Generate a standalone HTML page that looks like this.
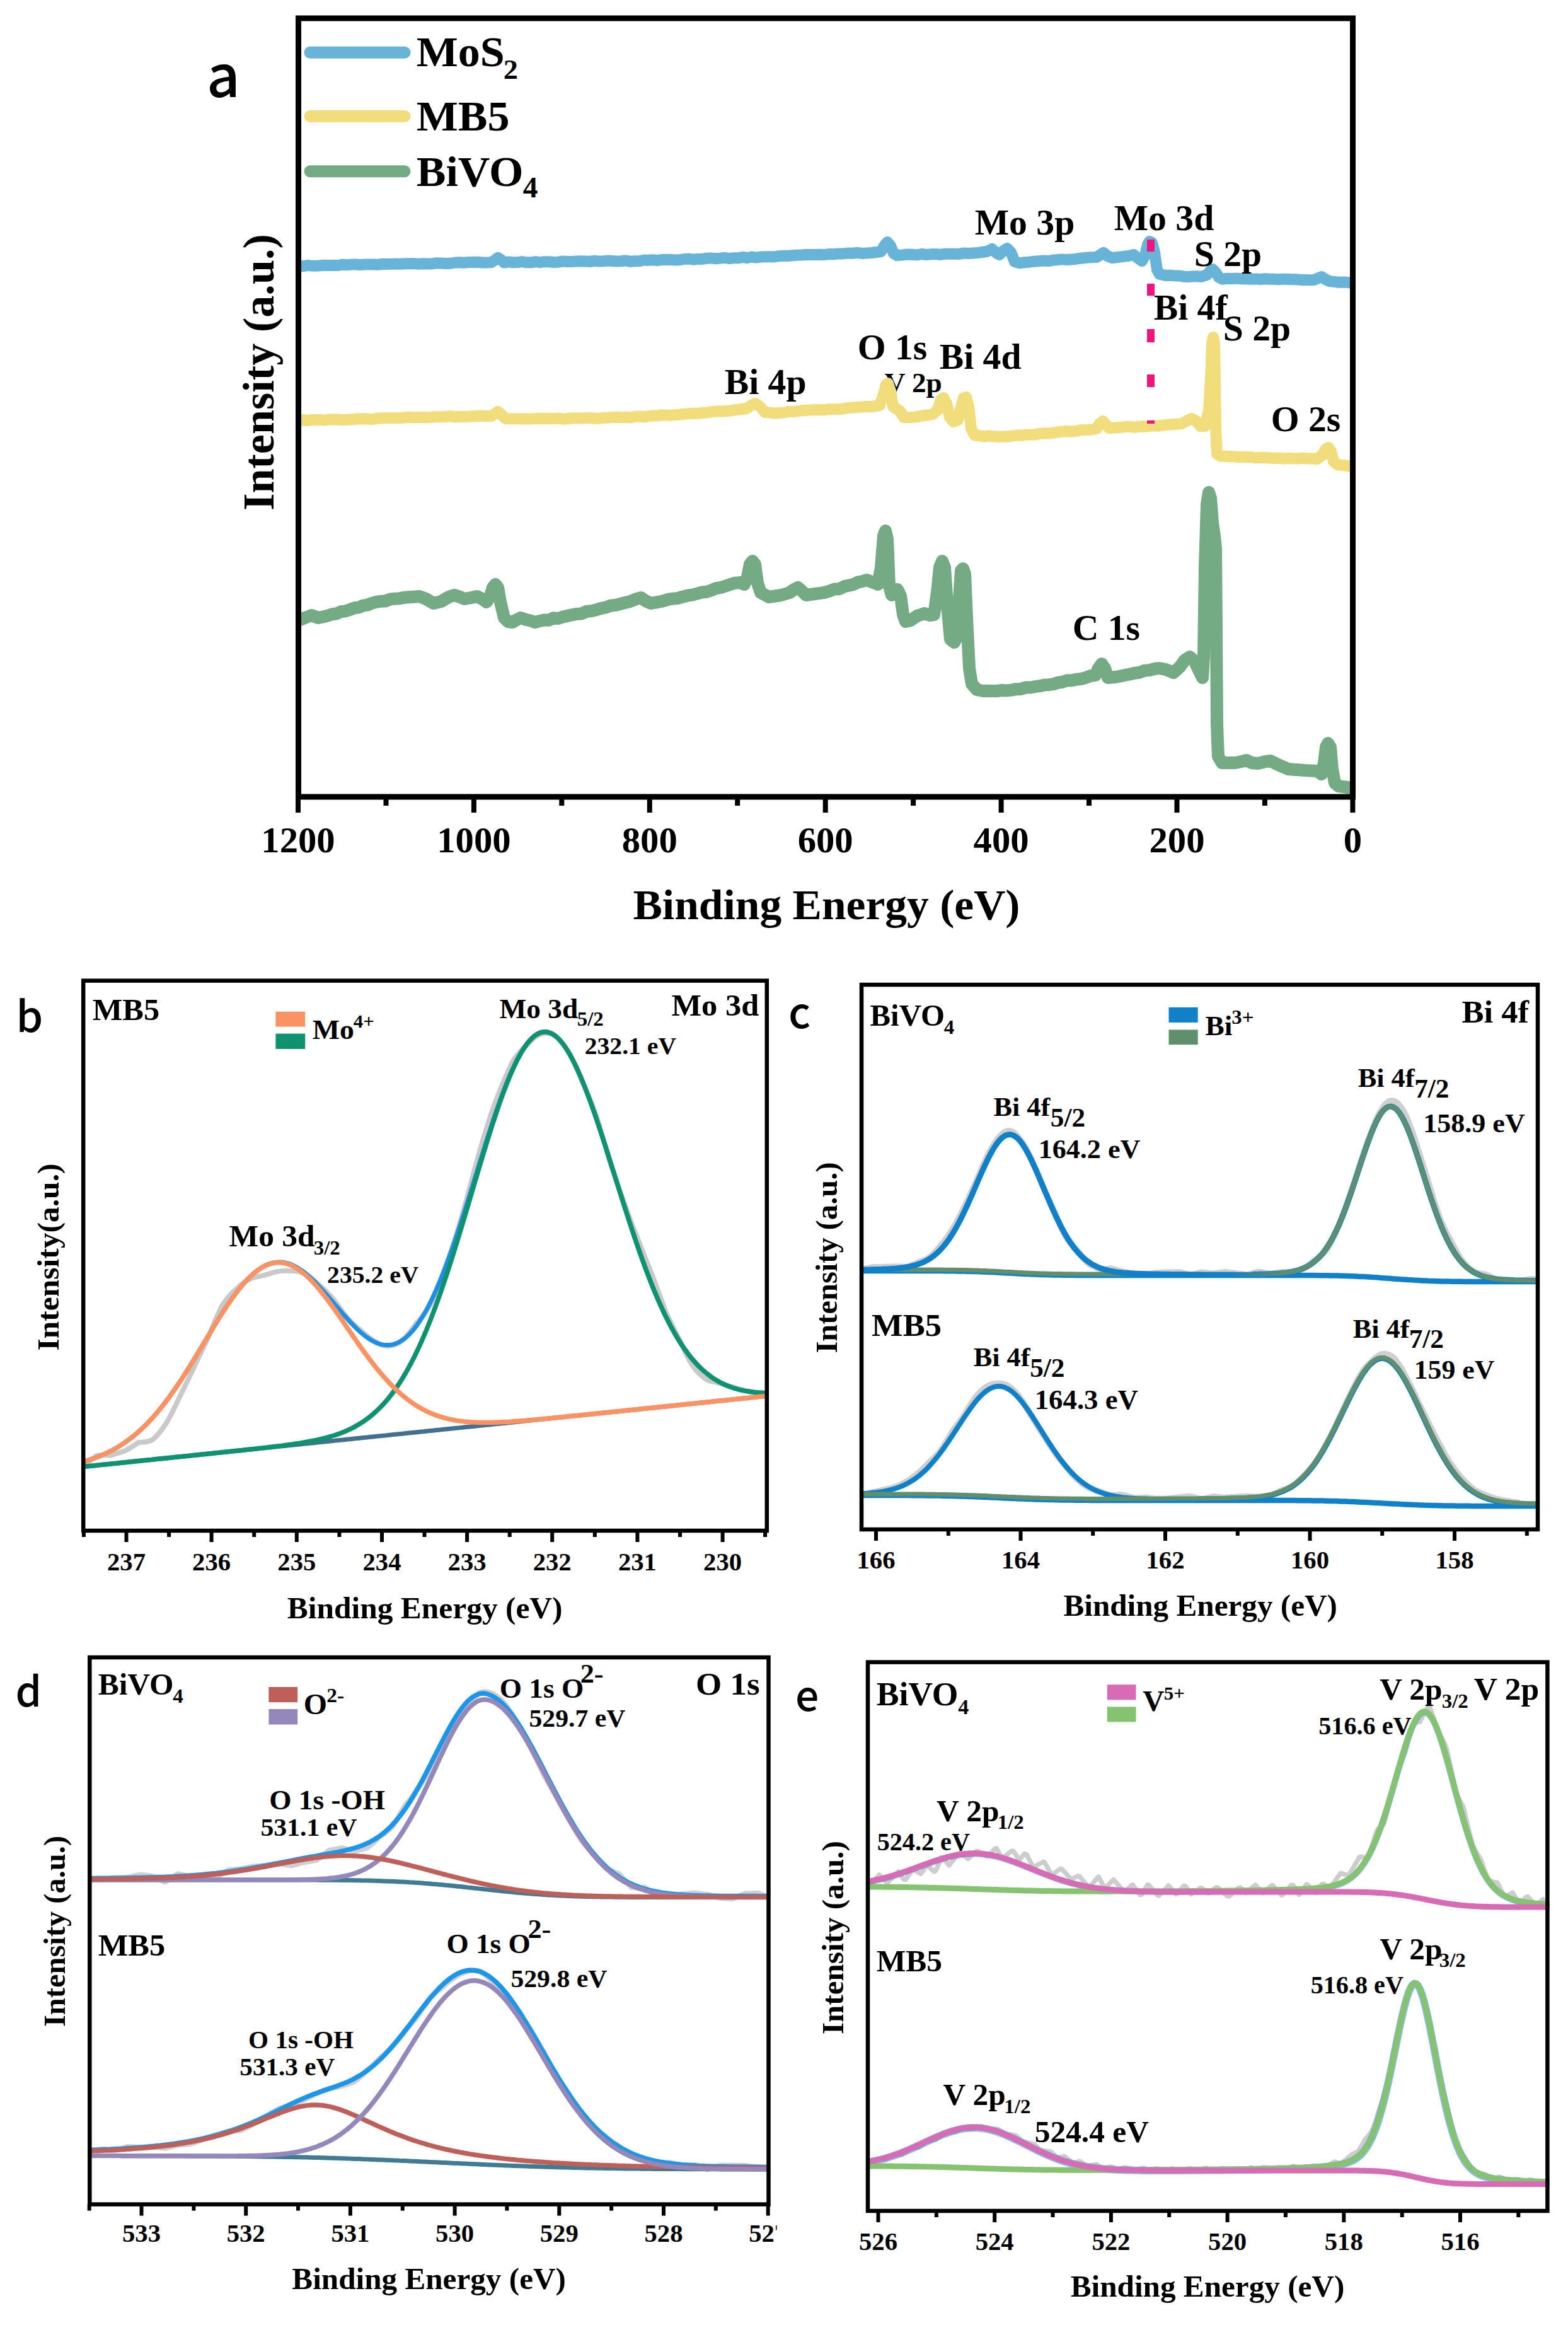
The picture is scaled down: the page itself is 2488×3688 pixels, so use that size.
<!DOCTYPE html>
<html><head><meta charset="utf-8"><title>XPS spectra</title>
<style>html,body{margin:0;padding:0;background:#fff}svg{display:block}text{white-space:pre}</style>
</head><body>
<svg width="2488" height="3688" viewBox="0 0 2488 3688">
<rect width="2488" height="3688" fill="#fff"/>
<g id="panel-a">
<clipPath id="clipA"><rect x="473" y="29" width="1677" height="1235"/></clipPath>
<text x="1403.7" y="622.0" font-family="Liberation Serif, Times New Roman, serif" font-weight="bold" font-size="44" transform="matrix(1.03 0 0 1 -42.11 0)" fill="#000">V 2p</text>
<g clip-path="url(#clipA)">
<path d="M473.0,984.0 L484.0,980.0 L494.0,976.0 L505.0,980.0 L512.5,978.5 L520.0,976.6 L527.0,974.2 L534.0,973.5 L541.0,970.2 L548.0,969.4 L555.0,967.1 L562.0,964.4 L569.0,963.6 L576.0,960.6 L583.0,959.6 L590.0,956.8 L597.0,954.9 L604.0,953.8 L611.2,953.6 L618.4,950.7 L625.6,949.7 L632.8,949.5 L640.0,948.0 L648.3,947.3 L656.7,946.7 L665.0,946.0 L676.0,950.0 L688.0,957.0 L700.0,954.0 L712.0,947.0 L721.0,944.0 L730.0,947.0 L737.0,950.0 L748.0,948.0 L757.0,946.0 L765.0,950.0 L772.0,955.0 L778.0,945.0 L782.0,932.0 L786.0,927.0 L790.0,932.0 L794.0,955.0 L800.0,980.0 L806.0,986.0 L813.0,987.0 L820.0,983.0 L826.0,980.0 L835.0,983.0 L842.0,984.5 L849.0,987.1 L856.3,985.0 L863.6,983.5 L870.9,983.7 L878.1,980.3 L885.4,981.1 L892.7,978.6 L900.0,977.1 L907.6,975.3 L915.2,973.9 L922.8,973.4 L930.4,970.0 L938.0,969.2 L945.6,967.5 L953.2,965.1 L960.8,963.7 L968.4,960.8 L976.0,960.0 L984.0,958.0 L992.0,956.0 L1000.0,954.0 L1010.0,950.0 L1017.0,948.0 L1024.0,953.0 L1033.0,957.0 L1042.0,955.3 L1051.0,953.7 L1060.0,950.9 L1067.7,949.6 L1075.4,949.0 L1083.1,946.7 L1090.9,944.7 L1098.6,943.6 L1106.3,941.6 L1114.0,939.5 L1121.2,938.7 L1128.4,936.5 L1135.6,933.4 L1142.8,932.2 L1150.0,930.0 L1157.5,927.5 L1165.0,925.0 L1175.0,924.0 L1181.0,927.0 L1186.0,915.0 L1190.0,895.0 L1194.0,890.0 L1198.0,895.0 L1202.0,925.0 L1207.0,940.0 L1220.0,947.0 L1230.0,945.5 L1240.0,944.0 L1253.0,940.0 L1260.0,935.0 L1266.0,932.0 L1272.0,937.0 L1279.0,944.0 L1286.0,943.0 L1293.0,942.0 L1300.0,941.1 L1308.0,939.9 L1316.0,937.6 L1324.0,934.5 L1332.0,934.2 L1340.0,930.1 L1347.0,928.6 L1354.0,927.2 L1361.0,923.6 L1368.0,922.2 L1375.0,920.0 L1386.0,924.0 L1393.0,927.0 L1398.0,900.0 L1402.0,850.0 L1405.0,842.0 L1408.0,855.0 L1411.0,930.0 L1415.0,944.0 L1420.0,936.0 L1424.0,935.0 L1429.0,945.0 L1433.0,975.0 L1437.0,986.0 L1445.0,984.0 L1455.0,977.0 L1467.0,973.0 L1475.0,976.0 L1482.0,975.0 L1487.0,940.0 L1491.0,900.0 L1495.0,890.0 L1499.0,900.0 L1503.0,960.0 L1508.0,1014.0 L1514.0,1019.0 L1519.0,1010.0 L1522.0,950.0 L1525.0,905.0 L1528.0,902.0 L1531.0,910.0 L1534.0,980.0 L1538.0,1060.0 L1542.0,1085.0 L1550.0,1094.0 L1560.0,1096.0 L1567.5,1096.0 L1575.0,1096.0 L1582.5,1096.0 L1590.0,1094.9 L1597.5,1095.4 L1605.0,1094.6 L1612.5,1093.2 L1620.0,1092.9 L1627.5,1090.6 L1635.0,1090.5 L1642.5,1089.2 L1650.0,1088.2 L1657.1,1086.6 L1664.3,1086.2 L1671.4,1085.2 L1678.6,1082.8 L1685.7,1082.0 L1692.9,1079.2 L1700.0,1079.5 L1707.6,1077.8 L1715.2,1077.0 L1722.8,1075.0 L1730.4,1072.1 L1738.0,1071.0 L1743.0,1060.0 L1748.0,1053.0 L1753.0,1060.0 L1758.0,1075.0 L1770.0,1074.0 L1777.5,1072.5 L1785.0,1071.0 L1792.5,1069.5 L1800.0,1067.7 L1808.0,1066.8 L1816.0,1063.7 L1824.0,1063.1 L1832.0,1060.8 L1840.0,1060.0 L1850.0,1062.0 L1862.0,1067.0 L1872.0,1058.0 L1880.0,1047.0 L1888.0,1042.0 L1895.0,1048.0 L1903.0,1065.0 L1908.0,1075.0 L1910.0,1040.0 L1912.0,900.0 L1915.0,800.0 L1918.0,781.0 L1921.0,790.0 L1924.0,830.0 L1927.0,850.0 L1929.0,870.0 L1930.0,1000.0 L1931.0,1150.0 L1933.0,1200.0 L1939.0,1210.0 L1946.0,1210.0 L1953.0,1210.0 L1960.0,1210.0 L1970.0,1208.0 L1978.0,1206.0 L1986.0,1210.0 L1996.0,1211.0 L2008.0,1208.0 L2016.0,1207.0 L2026.0,1212.0 L2035.0,1216.0 L2044.0,1220.0 L2052.7,1220.7 L2061.3,1221.3 L2070.0,1222.0 L2080.0,1222.5 L2090.0,1223.0 L2097.0,1228.0 L2101.0,1210.0 L2104.0,1185.0 L2107.0,1179.0 L2111.0,1185.0 L2114.0,1220.0 L2118.0,1242.0 L2124.0,1247.0 L2131.3,1248.0 L2138.7,1249.0 L2146.0,1250.0 L2152.0,1250.0" fill="none" stroke="#74AB84" stroke-width="20" stroke-linejoin="round" stroke-linecap="butt"/>
<path d="M473.0,666.4 L480.1,666.1 L487.1,667.1 L494.2,665.9 L501.2,665.9 L508.3,666.0 L515.3,666.6 L522.4,665.2 L529.4,665.6 L536.5,665.6 L543.6,665.9 L550.6,665.7 L557.7,665.6 L564.7,664.5 L571.8,664.5 L578.8,664.3 L585.9,664.9 L592.9,664.9 L600.0,663.4 L607.1,663.3 L614.3,663.1 L621.4,662.9 L628.6,663.1 L635.7,663.1 L642.9,662.3 L650.0,661.7 L657.1,662.2 L664.3,661.9 L671.4,662.0 L678.6,662.4 L685.7,661.7 L692.9,661.2 L700.0,661.2 L707.3,661.2 L714.5,660.1 L721.8,661.4 L729.1,661.1 L736.4,661.1 L743.6,660.9 L750.9,660.2 L758.2,660.1 L765.5,659.5 L772.7,660.3 L780.0,660.0 L786.0,656.0 L790.0,653.0 L795.0,657.0 L802.0,664.0 L815.0,664.3 L822.1,664.2 L829.2,664.4 L836.2,664.2 L843.3,664.4 L850.4,663.9 L857.5,663.7 L864.6,663.9 L871.7,663.7 L878.8,664.0 L885.8,663.4 L892.9,664.7 L900.0,664.2 L907.1,663.3 L914.3,663.3 L921.4,663.3 L928.6,663.2 L935.7,662.7 L942.9,663.7 L950.0,663.8 L957.1,662.8 L964.3,662.7 L971.4,661.9 L978.6,661.8 L985.7,662.0 L992.9,661.8 L1000.0,662.5 L1007.1,661.0 L1014.3,660.4 L1021.4,661.4 L1028.6,660.3 L1035.7,659.3 L1042.9,659.5 L1050.0,658.2 L1057.1,658.6 L1064.3,658.9 L1071.4,658.3 L1078.6,657.6 L1085.7,656.5 L1092.9,656.2 L1100.0,655.5 L1107.6,655.8 L1115.1,654.7 L1122.7,654.4 L1130.2,653.1 L1137.8,652.2 L1145.3,652.5 L1152.9,652.1 L1160.4,651.2 L1168.0,650.0 L1176.5,649.0 L1185.0,648.0 L1192.0,643.0 L1199.0,640.0 L1206.0,645.0 L1214.0,654.0 L1222.0,654.5 L1230.0,655.5 L1237.0,655.0 L1244.0,654.4 L1251.0,653.1 L1258.0,653.0 L1265.0,652.3 L1272.0,651.2 L1279.0,650.7 L1286.0,650.6 L1293.0,650.1 L1300.0,650.3 L1307.5,650.3 L1315.1,649.0 L1322.6,649.3 L1330.2,649.0 L1337.7,648.5 L1345.3,647.1 L1352.8,646.4 L1360.4,645.9 L1367.9,645.4 L1375.5,645.0 L1383.0,645.0 L1396.0,643.0 L1402.0,625.0 L1406.0,610.0 L1409.0,608.0 L1413.0,620.0 L1417.0,645.0 L1423.0,649.0 L1428.0,652.0 L1434.0,662.0 L1445.0,662.2 L1452.0,661.6 L1459.0,660.5 L1466.0,659.0 L1473.0,658.2 L1480.0,657.0 L1488.0,650.0 L1493.0,634.0 L1497.0,631.0 L1502.0,640.0 L1507.0,662.0 L1513.0,669.0 L1520.0,666.0 L1525.0,645.0 L1529.0,631.0 L1533.0,630.0 L1537.0,645.0 L1541.0,680.0 L1546.0,690.0 L1553.5,691.0 L1561.0,692.5 L1568.8,691.3 L1576.6,692.3 L1584.4,692.7 L1592.2,692.5 L1600.0,692.4 L1607.1,691.4 L1614.3,690.3 L1621.4,690.7 L1628.6,689.4 L1635.7,689.6 L1642.9,689.3 L1650.0,687.8 L1657.1,687.3 L1664.3,687.6 L1671.4,686.6 L1678.6,685.2 L1685.7,684.5 L1692.9,684.0 L1700.0,684.6 L1708.0,683.7 L1716.0,681.8 L1724.0,682.1 L1732.0,681.6 L1740.0,680.0 L1745.0,672.0 L1750.0,668.0 L1755.0,674.0 L1760.0,679.3 L1768.0,678.4 L1776.0,678.3 L1784.0,677.2 L1792.0,676.6 L1800.0,677.8 L1807.1,676.8 L1814.3,676.2 L1821.4,676.4 L1828.6,675.2 L1835.7,675.5 L1842.9,675.0 L1850.0,674.0 L1858.3,673.3 L1866.7,672.7 L1875.0,672.0 L1884.0,667.0 L1891.0,664.0 L1898.0,668.0 L1905.0,676.0 L1912.0,676.0 L1918.0,650.0 L1921.0,600.0 L1923.0,545.0 L1925.0,535.0 L1927.0,545.0 L1928.0,600.0 L1929.0,680.0 L1931.0,720.0 L1936.0,723.5 L1943.1,723.8 L1950.2,724.1 L1957.3,724.3 L1964.4,725.0 L1971.6,724.7 L1978.7,725.2 L1985.8,725.0 L1992.9,726.4 L2000.0,725.8 L2007.5,726.1 L2015.0,726.5 L2022.5,727.1 L2030.0,726.5 L2037.5,727.5 L2045.0,727.0 L2052.5,727.2 L2060.0,727.4 L2067.5,726.7 L2075.0,727.6 L2082.5,727.3 L2090.0,728.0 L2098.0,722.0 L2104.0,712.0 L2108.0,710.0 L2112.0,716.0 L2116.0,732.0 L2122.0,737.0 L2130.0,738.0 L2138.0,739.0 L2146.0,740.0 L2152.0,740.0" fill="none" stroke="#F1DD7B" stroke-width="18" stroke-linejoin="round" stroke-linecap="butt"/>
<path d="M473.0,421.2 L480.1,422.3 L487.1,421.1 L494.2,421.5 L501.2,421.7 L508.3,421.3 L515.3,420.7 L522.4,420.9 L529.4,420.8 L536.5,421.0 L543.6,419.7 L550.6,420.3 L557.7,419.6 L564.7,419.5 L571.8,420.1 L578.8,419.5 L585.9,419.4 L592.9,419.6 L600.0,419.7 L607.1,418.8 L614.3,419.0 L621.4,418.7 L628.6,418.6 L635.7,418.8 L642.9,418.3 L650.0,418.3 L657.1,418.1 L664.3,418.7 L671.4,418.2 L678.6,418.4 L685.7,418.4 L692.9,417.2 L700.0,417.6 L707.3,418.1 L714.5,417.8 L721.8,416.5 L729.1,416.3 L736.4,416.7 L743.6,416.0 L750.9,416.1 L758.2,415.7 L765.5,416.5 L772.7,416.6 L780.0,416.0 L786.0,412.0 L790.0,409.0 L795.0,412.0 L800.0,416.6 L807.1,415.4 L814.3,416.2 L821.4,416.0 L828.6,415.1 L835.7,416.3 L842.9,416.3 L850.0,415.1 L857.1,416.2 L864.3,415.2 L871.4,415.3 L878.6,416.0 L885.7,415.7 L892.9,414.5 L900.0,414.9 L907.1,415.0 L914.3,414.6 L921.4,414.3 L928.6,414.4 L935.7,415.0 L942.9,413.8 L950.0,414.6 L957.1,414.3 L964.3,413.6 L971.4,414.0 L978.6,414.4 L985.7,414.2 L992.9,413.4 L1000.0,414.8 L1007.1,414.2 L1014.3,414.3 L1021.4,412.7 L1028.6,412.8 L1035.7,412.2 L1042.9,413.2 L1050.0,412.1 L1057.1,411.7 L1064.3,411.9 L1071.4,412.5 L1078.6,412.2 L1085.7,411.0 L1092.9,410.7 L1100.0,411.7 L1107.1,410.9 L1114.3,410.9 L1121.4,409.7 L1128.6,409.4 L1135.7,410.2 L1142.9,409.6 L1150.0,408.8 L1157.1,410.0 L1164.3,409.3 L1171.4,409.3 L1178.6,408.0 L1185.7,409.0 L1192.9,407.5 L1200.0,408.6 L1207.1,407.6 L1214.3,407.2 L1221.4,407.2 L1228.6,407.5 L1235.7,406.2 L1242.9,405.7 L1250.0,406.0 L1257.1,405.3 L1264.3,404.8 L1271.4,404.6 L1278.6,404.1 L1285.7,404.1 L1292.9,404.0 L1300.0,403.7 L1307.5,404.1 L1315.1,403.1 L1322.6,403.2 L1330.2,402.4 L1337.7,402.4 L1345.3,401.6 L1352.8,401.7 L1360.4,401.0 L1367.9,401.9 L1375.5,401.4 L1383.0,401.0 L1390.5,400.0 L1398.0,399.0 L1403.0,390.0 L1408.0,384.0 L1413.0,390.0 L1418.0,402.0 L1423.0,405.0 L1431.5,404.5 L1440.0,403.5 L1447.5,403.8 L1455.0,404.4 L1462.5,403.0 L1470.0,404.0 L1477.5,403.3 L1485.0,403.2 L1492.5,403.7 L1500.0,402.8 L1507.3,402.7 L1514.6,402.7 L1521.9,402.9 L1529.1,401.6 L1536.4,402.1 L1543.7,401.6 L1551.0,401.0 L1558.5,400.0 L1566.0,399.0 L1574.0,395.0 L1582.0,402.0 L1586.0,404.0 L1592.0,398.0 L1598.0,394.0 L1604.0,400.0 L1610.0,415.0 L1618.0,417.2 L1625.5,416.3 L1632.9,415.7 L1640.4,414.7 L1647.8,414.2 L1655.3,413.6 L1662.7,414.1 L1670.2,412.8 L1677.6,412.1 L1685.1,411.4 L1692.5,412.1 L1700.0,411.6 L1708.0,410.7 L1716.0,409.5 L1724.0,408.8 L1732.0,408.3 L1740.0,408.0 L1746.0,404.0 L1751.0,401.0 L1757.0,406.0 L1765.0,409.0 L1773.3,408.0 L1781.7,407.0 L1790.0,406.0 L1799.0,404.0 L1806.0,410.0 L1812.0,414.0 L1817.0,405.0 L1821.0,388.0 L1824.0,383.0 L1828.0,385.0 L1832.0,400.0 L1836.0,428.0 L1840.0,435.0 L1850.0,436.9 L1857.0,436.7 L1864.0,437.4 L1871.0,437.4 L1878.0,438.7 L1885.0,439.0 L1892.0,438.6 L1899.0,438.3 L1906.0,439.0 L1915.0,436.0 L1920.0,430.0 L1924.0,427.0 L1929.0,432.0 L1934.0,440.0 L1940.0,442.7 L1947.5,441.8 L1955.0,442.0 L1962.5,441.6 L1970.0,442.3 L1977.5,442.6 L1985.0,442.8 L1992.5,442.4 L2000.0,443.0 L2007.1,442.3 L2014.2,442.8 L2021.2,442.6 L2028.3,443.2 L2035.4,442.7 L2042.5,442.7 L2049.6,443.3 L2056.7,443.2 L2063.8,443.9 L2070.8,443.9 L2077.9,444.3 L2085.0,444.0 L2092.0,441.0 L2097.0,439.0 L2103.0,443.0 L2110.0,446.3 L2117.2,446.9 L2124.4,447.8 L2131.6,447.6 L2138.8,448.1 L2146.0,449.0 L2152.0,449.0" fill="none" stroke="#68B4D8" stroke-width="18" stroke-linejoin="round" stroke-linecap="butt"/>
</g>
<rect x="1820.0" y="380.0" width="12.0" height="19.0" fill="#F0147F"/>
<rect x="1820.0" y="450.0" width="12.0" height="19.0" fill="#F0147F"/>
<rect x="1820.0" y="522.0" width="12.0" height="21.0" fill="#F0147F"/>
<rect x="1820.0" y="594.0" width="12.0" height="20.0" fill="#F0147F"/>
<rect x="1820.0" y="667.0" width="12.0" height="5.0" fill="#F0147F"/>
<rect x="473.5" y="29.0" width="1673.0" height="1235.0" fill="none" stroke="#000" stroke-width="9"/>
<line x1="473.0" y1="1264.0" x2="473.0" y2="1289.0" stroke="#000" stroke-width="8"/>
<line x1="751.9" y1="1264.0" x2="751.9" y2="1289.0" stroke="#000" stroke-width="8"/>
<line x1="1030.8" y1="1264.0" x2="1030.8" y2="1289.0" stroke="#000" stroke-width="8"/>
<line x1="1309.7" y1="1264.0" x2="1309.7" y2="1289.0" stroke="#000" stroke-width="8"/>
<line x1="1588.6" y1="1264.0" x2="1588.6" y2="1289.0" stroke="#000" stroke-width="8"/>
<line x1="1867.5" y1="1264.0" x2="1867.5" y2="1289.0" stroke="#000" stroke-width="8"/>
<line x1="2146.4" y1="1264.0" x2="2146.4" y2="1289.0" stroke="#000" stroke-width="8"/>
<line x1="612.5" y1="1264.0" x2="612.5" y2="1278.0" stroke="#000" stroke-width="8"/>
<line x1="891.3" y1="1264.0" x2="891.3" y2="1278.0" stroke="#000" stroke-width="8"/>
<line x1="1170.2" y1="1264.0" x2="1170.2" y2="1278.0" stroke="#000" stroke-width="8"/>
<line x1="1449.1" y1="1264.0" x2="1449.1" y2="1278.0" stroke="#000" stroke-width="8"/>
<line x1="1728.0" y1="1264.0" x2="1728.0" y2="1278.0" stroke="#000" stroke-width="8"/>
<line x1="2006.9" y1="1264.0" x2="2006.9" y2="1278.0" stroke="#000" stroke-width="8"/>
<text x="473.0" y="1352.5" font-family="Liberation Serif, Times New Roman, serif" font-weight="bold" font-size="57" text-anchor="middle" transform="matrix(1.03 0 0 1 -14.19 0)" fill="#000">1200</text>
<text x="751.9" y="1352.5" font-family="Liberation Serif, Times New Roman, serif" font-weight="bold" font-size="57" text-anchor="middle" transform="matrix(1.03 0 0 1 -22.56 0)" fill="#000">1000</text>
<text x="1030.8" y="1352.5" font-family="Liberation Serif, Times New Roman, serif" font-weight="bold" font-size="57" text-anchor="middle" transform="matrix(1.03 0 0 1 -30.92 0)" fill="#000">800</text>
<text x="1309.7" y="1352.5" font-family="Liberation Serif, Times New Roman, serif" font-weight="bold" font-size="57" text-anchor="middle" transform="matrix(1.03 0 0 1 -39.29 0)" fill="#000">600</text>
<text x="1588.6" y="1352.5" font-family="Liberation Serif, Times New Roman, serif" font-weight="bold" font-size="57" text-anchor="middle" transform="matrix(1.03 0 0 1 -47.66 0)" fill="#000">400</text>
<text x="1867.5" y="1352.5" font-family="Liberation Serif, Times New Roman, serif" font-weight="bold" font-size="57" text-anchor="middle" transform="matrix(1.03 0 0 1 -56.03 0)" fill="#000">200</text>
<text x="2146.4" y="1352.5" font-family="Liberation Serif, Times New Roman, serif" font-weight="bold" font-size="57" text-anchor="middle" transform="matrix(1.03 0 0 1 -64.39 0)" fill="#000">0</text>
<text x="1311.5" y="1458.0" font-family="Liberation Serif, Times New Roman, serif" font-weight="bold" font-size="67.5" text-anchor="middle" transform="matrix(1.03 0 0 1 -39.35 0)" fill="#000">Binding Energy (eV)</text>
<text x="434.0" y="590.5" font-family="Liberation Serif, Times New Roman, serif" font-weight="bold" font-size="70.2" text-anchor="middle" transform="rotate(-90 434.0 590.5)" fill="#000">Intensity (a.u.)</text>
<line x1="492" y1="83.3" x2="642" y2="83.3" stroke="#68B4D8" stroke-width="19" stroke-linecap="round"/>
<line x1="492" y1="184.4" x2="642" y2="184.4" stroke="#F1DD7B" stroke-width="19" stroke-linecap="round"/>
<line x1="492" y1="271.7" x2="642" y2="271.7" stroke="#74AB84" stroke-width="19" stroke-linecap="round"/>
<text x="660.7" y="104.6" font-family="Liberation Serif, Times New Roman, serif" font-weight="bold" font-size="68" transform="matrix(1.03 0 0 1 -19.82 0)" fill="#000">MoS</text>
<text x="798.7" y="125.0" font-family="Liberation Serif, Times New Roman, serif" font-weight="bold" font-size="45" transform="matrix(1.03 0 0 1 -23.96 0)" fill="#000">2</text>
<text x="660.7" y="207.0" font-family="Liberation Serif, Times New Roman, serif" font-weight="bold" font-size="68" transform="matrix(1.03 0 0 1 -19.82 0)" fill="#000">MB5</text>
<text x="660.7" y="295.0" font-family="Liberation Serif, Times New Roman, serif" font-weight="bold" font-size="68" transform="matrix(1.03 0 0 1 -19.82 0)" fill="#000">BiVO</text>
<text x="829.7" y="313.0" font-family="Liberation Serif, Times New Roman, serif" font-weight="bold" font-size="46" transform="matrix(1.03 0 0 1 -24.89 0)" fill="#000">4</text>
<text x="1546.7" y="372.0" font-family="Liberation Serif, Times New Roman, serif" font-weight="bold" font-size="56" transform="matrix(1.03 0 0 1 -46.40 0)" fill="#000">Mo 3p</text>
<text x="1767.7" y="365.0" font-family="Liberation Serif, Times New Roman, serif" font-weight="bold" font-size="56" transform="matrix(1.03 0 0 1 -53.03 0)" fill="#000">Mo 3d</text>
<text x="1894.7" y="422.0" font-family="Liberation Serif, Times New Roman, serif" font-weight="bold" font-size="56" transform="matrix(1.03 0 0 1 -56.84 0)" fill="#000">S 2p</text>
<text x="1830.7" y="507.0" font-family="Liberation Serif, Times New Roman, serif" font-weight="bold" font-size="56" transform="matrix(1.03 0 0 1 -54.92 0)" fill="#000">Bi 4f</text>
<text x="1940.7" y="540.0" font-family="Liberation Serif, Times New Roman, serif" font-weight="bold" font-size="56" transform="matrix(1.03 0 0 1 -58.22 0)" fill="#000">S 2p</text>
<text x="1360.7" y="570.0" font-family="Liberation Serif, Times New Roman, serif" font-weight="bold" font-size="56" transform="matrix(1.03 0 0 1 -40.82 0)" fill="#000">O 1s</text>
<text x="1490.7" y="585.0" font-family="Liberation Serif, Times New Roman, serif" font-weight="bold" font-size="56" transform="matrix(1.03 0 0 1 -44.72 0)" fill="#000">Bi 4d</text>
<text x="1149.7" y="625.0" font-family="Liberation Serif, Times New Roman, serif" font-weight="bold" font-size="56" transform="matrix(1.03 0 0 1 -34.49 0)" fill="#000">Bi 4p</text>
<text x="2016.7" y="684.0" font-family="Liberation Serif, Times New Roman, serif" font-weight="bold" font-size="56" transform="matrix(1.03 0 0 1 -60.50 0)" fill="#000">O 2s</text>
<text x="1701.7" y="1015.0" font-family="Liberation Serif, Times New Roman, serif" font-weight="bold" font-size="56" transform="matrix(1.03 0 0 1 -51.05 0)" fill="#000">C 1s</text>
<text x="328.0" y="154.0" font-family="Noto Sans CJK SC, Liberation Sans, sans-serif" font-weight="500" font-size="92" fill="#000">a</text>
</g>
<g id="panel-b">
<clipPath id="clipB"><rect x="132.2" y="1555.6" width="1084.6" height="872.4000000000001"/></clipPath>
<g clip-path="url(#clipB)">
<path d="M132.2,2324.7 L136.2,2321.8 L140.2,2318.9 L144.2,2315.9 L148.2,2312.8 L152.2,2309.8 L156.2,2308.3 L160.2,2308.3 L164.2,2308.3 L168.2,2308.3 L172.2,2308.4 L176.2,2308.4 L180.2,2307.1 L184.2,2305.8 L188.2,2304.6 L192.2,2303.3 L196.2,2302.1 L200.2,2300.4 L204.2,2298.0 L208.2,2295.7 L212.2,2293.2 L216.2,2290.6 L220.2,2287.8 L224.2,2287.8 L228.2,2287.6 L232.2,2287.0 L236.2,2286.0 L240.2,2284.6 L244.2,2281.9 L248.2,2277.9 L252.2,2273.4 L256.2,2268.4 L260.2,2262.9 L264.2,2256.9 L268.2,2249.8 L272.2,2242.3 L276.2,2234.3 L280.2,2226.1 L284.2,2217.6 L288.2,2209.3 L292.2,2201.2 L296.2,2193.0 L300.2,2184.8 L304.2,2176.4 L308.2,2168.1 L312.2,2159.6 L316.2,2151.2 L320.2,2142.8 L324.2,2134.4 L328.2,2126.1 L332.2,2117.1 L336.2,2107.4 L340.2,2097.9 L344.2,2088.6 L348.2,2079.7 L352.2,2071.1 L356.2,2065.4 L360.2,2060.1 L364.2,2055.3 L368.2,2051.0 L372.2,2047.3 L376.2,2043.6 L380.2,2039.9 L384.2,2036.6 L388.2,2033.7 L392.2,2031.1 L396.2,2028.7 L400.2,2027.4 L404.2,2026.2 L408.2,2025.2 L412.2,2024.4 L416.2,2023.6 L420.2,2022.6 L424.2,2021.3 L428.2,2020.1 L432.2,2018.9 L436.2,2017.9 L440.2,2017.0 L444.2,2016.4 L448.2,2015.9 L452.2,2015.7 L456.2,2015.7 L460.2,2015.9 L464.2,2016.1 L468.2,2016.3 L472.2,2016.8 L476.2,2017.6 L480.2,2018.6 L484.2,2019.9 L488.2,2022.7 L492.2,2025.7 L496.2,2029.1 L500.2,2032.6 L504.2,2036.5 L508.2,2040.1 L512.2,2043.5 L516.2,2047.2 L520.2,2051.2 L524.2,2055.5 L528.2,2060.0 L532.2,2065.2 L536.2,2070.6 L540.2,2076.0 L544.2,2081.5 L548.2,2086.9 L552.2,2091.6 L556.2,2095.7 L560.2,2099.6 L564.2,2103.4 L568.2,2106.9 L572.2,2110.2 L576.2,2113.8 L580.2,2117.3 L584.2,2120.5 L588.2,2123.4 L592.2,2126.1 L596.2,2128.6 L600.2,2131.1 L604.2,2133.0 L608.2,2134.3 L612.2,2134.9 L616.2,2134.9 L620.2,2134.6 L624.2,2133.6 L628.2,2132.2 L632.2,2130.2 L636.2,2127.8 L640.2,2124.5 L644.2,2120.2 L648.2,2115.6 L652.2,2110.6 L656.2,2105.2 L660.2,2099.4 L664.2,2095.3 L668.2,2090.7 L672.2,2085.7 L676.2,2080.3 L680.2,2074.3 L684.2,2066.8 L688.2,2057.7 L692.2,2048.2 L696.2,2038.1 L700.2,2027.6 L704.2,2016.7 L708.2,2006.0 L712.2,1994.8 L716.2,1983.2 L720.2,1971.0 L724.2,1958.4 L728.2,1945.2 L732.2,1931.4 L736.2,1917.3 L740.2,1902.8 L744.2,1888.0 L748.2,1873.2 L752.2,1858.4 L756.2,1843.8 L760.2,1829.4 L764.2,1815.5 L768.2,1802.1 L772.2,1789.1 L776.2,1776.5 L780.2,1764.5 L784.2,1753.3 L788.2,1742.8 L792.2,1732.8 L796.2,1722.7 L800.2,1713.0 L804.2,1703.8 L808.2,1694.8 L812.2,1686.2 L816.2,1679.4 L820.2,1674.2 L824.2,1669.5 L828.2,1665.1 L832.2,1661.2 L836.2,1657.9 L840.2,1653.2 L844.2,1649.2 L848.2,1645.8 L852.2,1643.1 L856.2,1641.1 L860.2,1639.7 L864.2,1638.7 L868.2,1638.5 L872.2,1639.1 L876.2,1640.4 L880.2,1642.4 L884.2,1645.8 L888.2,1649.9 L892.2,1654.7 L896.2,1660.2 L900.2,1666.3 L904.2,1673.2 L908.2,1680.8 L912.2,1689.0 L916.2,1697.7 L920.2,1707.0 L924.2,1716.8 L928.2,1725.5 L932.2,1734.6 L936.2,1744.0 L940.2,1753.9 L944.2,1764.1 L948.2,1775.9 L952.2,1789.3 L956.2,1803.0 L960.2,1816.8 L964.2,1830.7 L968.2,1844.7 L972.2,1856.2 L976.2,1867.7 L980.2,1879.2 L984.2,1890.5 L988.2,1901.6 L992.2,1912.8 L996.2,1924.1 L1000.2,1935.1 L1004.2,1945.7 L1008.2,1956.0 L1012.2,1965.9 L1016.2,1976.3 L1020.2,1986.5 L1024.2,1996.5 L1028.2,2006.5 L1032.2,2016.3 L1036.2,2026.5 L1040.2,2037.1 L1044.2,2047.8 L1048.2,2058.5 L1052.2,2069.3 L1056.2,2080.1 L1060.2,2088.7 L1064.2,2097.1 L1068.2,2105.4 L1072.2,2113.4 L1076.2,2121.0 L1080.2,2129.4 L1084.2,2138.4 L1088.2,2146.8 L1092.2,2154.6 L1096.2,2161.7 L1100.2,2168.1 L1104.2,2173.2 L1108.2,2177.6 L1112.2,2181.4 L1116.2,2184.8 L1120.2,2187.8 L1124.2,2189.8 L1128.2,2190.9 L1132.2,2191.8 L1136.2,2192.7 L1140.2,2193.5 L1144.2,2194.2 L1148.2,2195.7 L1152.2,2197.0 L1156.2,2198.3 L1160.2,2199.5 L1164.2,2200.5 L1168.2,2201.7 L1172.2,2203.0 L1176.2,2204.1 L1180.2,2205.2 L1184.2,2206.1 L1188.2,2207.0 L1192.2,2208.0 L1196.2,2208.9 L1200.2,2209.7 L1204.2,2210.5 L1208.2,2211.2 L1212.2,2211.7 L1216.2,2212.0 L1216.8,2212.1" fill="none" stroke="#C9C9C9" stroke-width="8" stroke-linejoin="round" stroke-linecap="butt"/>
<path d="M132.2,2318.7 L136.2,2317.5 L140.2,2316.3 L144.2,2314.9 L148.2,2313.5 L152.2,2312.1 L156.2,2310.5 L160.2,2308.9 L164.2,2307.1 L168.2,2305.3 L172.2,2303.4 L176.2,2301.4 L180.2,2299.2 L184.2,2297.0 L188.2,2294.6 L192.2,2292.1 L196.2,2289.4 L200.2,2286.7 L204.2,2283.8 L208.2,2280.7 L212.2,2277.5 L216.2,2274.2 L220.2,2270.7 L224.2,2267.1 L228.2,2263.3 L232.2,2259.3 L236.2,2255.2 L240.2,2250.9 L244.2,2246.5 L248.2,2241.9 L252.2,2237.1 L256.2,2232.2 L260.2,2227.1 L264.2,2221.9 L268.2,2216.5 L272.2,2210.9 L276.2,2205.3 L280.2,2199.5 L284.2,2193.5 L288.2,2187.5 L292.2,2181.3 L296.2,2175.0 L300.2,2168.7 L304.2,2162.2 L308.2,2155.7 L312.2,2149.1 L316.2,2142.5 L320.2,2135.9 L324.2,2129.2 L328.2,2122.6 L332.2,2116.0 L336.2,2109.3 L340.2,2102.8 L344.2,2096.3 L348.2,2089.9 L352.2,2083.6 L356.2,2077.4 L360.2,2071.4 L364.2,2065.5 L368.2,2059.7 L372.2,2054.2 L376.2,2048.9 L380.2,2043.7 L384.2,2038.9 L388.2,2034.2 L392.2,2029.9 L396.2,2025.8 L400.2,2022.0 L404.2,2018.5 L408.2,2015.3 L412.2,2012.5 L416.2,2010.0 L420.2,2007.8 L424.2,2006.0 L428.2,2004.5 L432.2,2003.3 L436.2,2002.6 L440.2,2002.1 L444.2,2002.1 L448.2,2002.3 L452.2,2003.0 L456.2,2003.9 L460.2,2005.2 L464.2,2006.8 L468.2,2008.8 L472.2,2011.0 L476.2,2013.6 L480.2,2016.4 L484.2,2019.4 L488.2,2022.8 L492.2,2026.3 L496.2,2030.1 L500.2,2034.0 L504.2,2038.1 L508.2,2042.4 L512.2,2046.8 L516.2,2051.3 L520.2,2056.0 L524.2,2060.6 L528.2,2065.3 L532.2,2070.1 L536.2,2074.8 L540.2,2079.5 L544.2,2084.2 L548.2,2088.7 L552.2,2093.2 L556.2,2097.6 L560.2,2101.8 L564.2,2105.8 L568.2,2109.7 L572.2,2113.3 L576.2,2116.7 L580.2,2119.8 L584.2,2122.7 L588.2,2125.3 L592.2,2127.6 L596.2,2129.5 L600.2,2131.1 L604.2,2132.3 L608.2,2133.1 L612.2,2133.6 L616.2,2133.6 L620.2,2133.2 L624.2,2132.4 L628.2,2131.1 L632.2,2129.4 L636.2,2127.2 L640.2,2124.5 L644.2,2121.4 L648.2,2117.7 L652.2,2113.6 L656.2,2109.0 L660.2,2103.9 L664.2,2098.3 L668.2,2092.2 L672.2,2085.7 L676.2,2078.6 L680.2,2071.1 L684.2,2063.1 L688.2,2054.7 L692.2,2045.8 L696.2,2036.5 L700.2,2026.8 L704.2,2016.7 L708.2,2006.2 L712.2,1995.4 L716.2,1984.2 L720.2,1972.8 L724.2,1961.0 L728.2,1949.0 L732.2,1936.7 L736.2,1924.3 L740.2,1911.7 L744.2,1898.9 L748.2,1886.1 L752.2,1873.2 L756.2,1860.3 L760.2,1847.4 L764.2,1834.5 L768.2,1821.7 L772.2,1809.1 L776.2,1796.6 L780.2,1784.4 L784.2,1772.3 L788.2,1760.6 L792.2,1749.2 L796.2,1738.1 L800.2,1727.5 L804.2,1717.3 L808.2,1707.6 L812.2,1698.3 L816.2,1689.6 L820.2,1681.5 L824.2,1674.0 L828.2,1667.1 L832.2,1660.9 L836.2,1655.3 L840.2,1650.5 L844.2,1646.3 L848.2,1642.9 L852.2,1640.2 L856.2,1638.2 L860.2,1637.0 L864.2,1636.6 L868.2,1636.9 L872.2,1638.0 L876.2,1639.8 L880.2,1642.4 L884.2,1645.7 L888.2,1649.7 L892.2,1654.5 L896.2,1659.9 L900.2,1665.9 L904.2,1672.6 L908.2,1680.0 L912.2,1687.9 L916.2,1696.4 L920.2,1705.4 L924.2,1714.9 L928.2,1724.8 L932.2,1735.2 L936.2,1746.0 L940.2,1757.2 L944.2,1768.6 L948.2,1780.4 L952.2,1792.4 L956.2,1804.6 L960.2,1816.9 L964.2,1829.4 L968.2,1842.0 L972.2,1854.7 L976.2,1867.4 L980.2,1880.1 L984.2,1892.8 L988.2,1905.4 L992.2,1917.9 L996.2,1930.3 L1000.2,1942.6 L1004.2,1954.6 L1008.2,1966.5 L1012.2,1978.2 L1016.2,1989.6 L1020.2,2000.8 L1024.2,2011.7 L1028.2,2022.3 L1032.2,2032.6 L1036.2,2042.6 L1040.2,2052.3 L1044.2,2061.7 L1048.2,2070.7 L1052.2,2079.4 L1056.2,2087.8 L1060.2,2095.8 L1064.2,2103.5 L1068.2,2110.8 L1072.2,2117.8 L1076.2,2124.5 L1080.2,2130.9 L1084.2,2136.9 L1088.2,2142.6 L1092.2,2148.0 L1096.2,2153.1 L1100.2,2157.8 L1104.2,2162.3 L1108.2,2166.6 L1112.2,2170.5 L1116.2,2174.2 L1120.2,2177.6 L1124.2,2180.8 L1128.2,2183.8 L1132.2,2186.6 L1136.2,2189.1 L1140.2,2191.4 L1144.2,2193.6 L1148.2,2195.5 L1152.2,2197.3 L1156.2,2199.0 L1160.2,2200.5 L1164.2,2201.8 L1168.2,2203.0 L1172.2,2204.1 L1176.2,2205.0 L1180.2,2205.9 L1184.2,2206.6 L1188.2,2207.2 L1192.2,2207.8 L1196.2,2208.3 L1200.2,2208.7 L1204.2,2209.0 L1208.2,2209.2 L1212.2,2209.4 L1216.2,2209.6 L1216.8,2209.6" fill="none" stroke="#1E8FE3" stroke-width="7" stroke-linejoin="round" stroke-linecap="butt"/>
<path d="M132.2,2326.5 L136.2,2326.1 L140.2,2325.7 L144.2,2325.3 L148.2,2324.9 L152.2,2324.5 L156.2,2324.1 L160.2,2323.6 L164.2,2323.2 L168.2,2322.8 L172.2,2322.4 L176.2,2322.0 L180.2,2321.6 L184.2,2321.2 L188.2,2320.7 L192.2,2320.3 L196.2,2319.9 L200.2,2319.5 L204.2,2319.1 L208.2,2318.7 L212.2,2318.3 L216.2,2317.8 L220.2,2317.4 L224.2,2317.0 L228.2,2316.6 L232.2,2316.2 L236.2,2315.8 L240.2,2315.4 L244.2,2314.9 L248.2,2314.5 L252.2,2314.1 L256.2,2313.7 L260.2,2313.3 L264.2,2312.9 L268.2,2312.5 L272.2,2312.1 L276.2,2311.6 L280.2,2311.2 L284.2,2310.8 L288.2,2310.4 L292.2,2310.0 L296.2,2309.6 L300.2,2309.2 L304.2,2308.7 L308.2,2308.3 L312.2,2307.9 L316.2,2307.5 L320.2,2307.1 L324.2,2306.7 L328.2,2306.3 L332.2,2305.8 L336.2,2305.4 L340.2,2305.0 L344.2,2304.6 L348.2,2304.2 L352.2,2303.8 L356.2,2303.4 L360.2,2302.9 L364.2,2302.5 L368.2,2302.1 L372.2,2301.7 L376.2,2301.3 L380.2,2300.9 L384.2,2300.5 L388.2,2300.0 L392.2,2299.6 L396.2,2299.2 L400.2,2298.8 L404.2,2298.4 L408.2,2298.0 L412.2,2297.6 L416.2,2297.1 L420.2,2296.7 L424.2,2296.3 L428.2,2295.9 L432.2,2295.5 L436.2,2295.1 L440.2,2294.7 L444.2,2294.2 L448.2,2293.8 L452.2,2293.4 L456.2,2293.0 L460.2,2292.6 L464.2,2292.2 L468.2,2291.8 L472.2,2291.4 L476.2,2290.9 L480.2,2290.5 L484.2,2290.1 L488.2,2289.7 L492.2,2289.3 L496.2,2288.9 L500.2,2288.5 L504.2,2288.0 L508.2,2287.6 L512.2,2287.2 L516.2,2286.8 L520.2,2286.4 L524.2,2286.0 L528.2,2285.6 L532.2,2285.1 L536.2,2284.7 L540.2,2284.3 L544.2,2283.9 L548.2,2283.5 L552.2,2283.1 L556.2,2282.7 L560.2,2282.2 L564.2,2281.8 L568.2,2281.4 L572.2,2281.0 L576.2,2280.6 L580.2,2280.2 L584.2,2279.8 L588.2,2279.3 L592.2,2278.9 L596.2,2278.5 L600.2,2278.1 L604.2,2277.7 L608.2,2277.3 L612.2,2276.9 L616.2,2276.4 L620.2,2276.0 L624.2,2275.6 L628.2,2275.2 L632.2,2274.8 L636.2,2274.4 L640.2,2274.0 L644.2,2273.5 L648.2,2273.1 L652.2,2272.7 L656.2,2272.3 L660.2,2271.9 L664.2,2271.5 L668.2,2271.1 L672.2,2270.7 L676.2,2270.2 L680.2,2269.8 L684.2,2269.4 L688.2,2269.0 L692.2,2268.6 L696.2,2268.2 L700.2,2267.8 L704.2,2267.3 L708.2,2266.9 L712.2,2266.5 L716.2,2266.1 L720.2,2265.7 L724.2,2265.3 L728.2,2264.9 L732.2,2264.4 L736.2,2264.0 L740.2,2263.6 L744.2,2263.2 L748.2,2262.8 L752.2,2262.4 L756.2,2262.0 L760.2,2261.5 L764.2,2261.1 L768.2,2260.7 L772.2,2260.3 L776.2,2259.9 L780.2,2259.5 L784.2,2259.1 L788.2,2258.6 L792.2,2258.2 L796.2,2257.8 L800.2,2257.4 L804.2,2257.0 L808.2,2256.6 L812.2,2256.2 L816.2,2255.7 L820.2,2255.3 L824.2,2254.9 L828.2,2254.5 L832.2,2254.1 L836.2,2253.7 L840.2,2253.3 L844.2,2252.8 L848.2,2252.4 L852.2,2252.0 L856.2,2251.6 L860.2,2251.2 L864.2,2250.8 L868.2,2250.4 L872.2,2250.0 L876.2,2249.5 L880.2,2249.1 L884.2,2248.7 L888.2,2248.3 L892.2,2247.9 L896.2,2247.5 L900.2,2247.1 L904.2,2246.6 L908.2,2246.2 L912.2,2245.8 L916.2,2245.4 L920.2,2245.0 L924.2,2244.6 L928.2,2244.2 L932.2,2243.7 L936.2,2243.3 L940.2,2242.9 L944.2,2242.5 L948.2,2242.1 L952.2,2241.7 L956.2,2241.3 L960.2,2240.8 L964.2,2240.4 L968.2,2240.0 L972.2,2239.6 L976.2,2239.2 L980.2,2238.8 L984.2,2238.4 L988.2,2237.9 L992.2,2237.5 L996.2,2237.1 L1000.2,2236.7 L1004.2,2236.3 L1008.2,2235.9 L1012.2,2235.5 L1016.2,2235.0 L1020.2,2234.6 L1024.2,2234.2 L1028.2,2233.8 L1032.2,2233.4 L1036.2,2233.0 L1040.2,2232.6 L1044.2,2232.1 L1048.2,2231.7 L1052.2,2231.3 L1056.2,2230.9 L1060.2,2230.5 L1064.2,2230.1 L1068.2,2229.7 L1072.2,2229.3 L1076.2,2228.8 L1080.2,2228.4 L1084.2,2228.0 L1088.2,2227.6 L1092.2,2227.2 L1096.2,2226.8 L1100.2,2226.4 L1104.2,2225.9 L1108.2,2225.5 L1112.2,2225.1 L1116.2,2224.7 L1120.2,2224.3 L1124.2,2223.9 L1128.2,2223.5 L1132.2,2223.0 L1136.2,2222.6 L1140.2,2222.2 L1144.2,2221.8 L1148.2,2221.4 L1152.2,2221.0 L1156.2,2220.6 L1160.2,2220.1 L1164.2,2219.7 L1168.2,2219.3 L1172.2,2218.9 L1176.2,2218.5 L1180.2,2218.1 L1184.2,2217.7 L1188.2,2217.2 L1192.2,2216.8 L1196.2,2216.4 L1200.2,2216.0 L1204.2,2215.6 L1208.2,2215.2 L1212.2,2214.8 L1216.2,2214.3 L1216.8,2214.3" fill="none" stroke="#43708F" stroke-width="7" stroke-linejoin="round" stroke-linecap="butt"/>
<path d="M132.2,2326.5 L136.2,2326.1 L140.2,2325.7 L144.2,2325.3 L148.2,2324.9 L152.2,2324.5 L156.2,2324.1 L160.2,2323.6 L164.2,2323.2 L168.2,2322.8 L172.2,2322.4 L176.2,2322.0 L180.2,2321.6 L184.2,2321.2 L188.2,2320.7 L192.2,2320.3 L196.2,2319.9 L200.2,2319.5 L204.2,2319.1 L208.2,2318.7 L212.2,2318.3 L216.2,2317.8 L220.2,2317.4 L224.2,2317.0 L228.2,2316.6 L232.2,2316.2 L236.2,2315.8 L240.2,2315.4 L244.2,2314.9 L248.2,2314.5 L252.2,2314.1 L256.2,2313.7 L260.2,2313.3 L264.2,2312.9 L268.2,2312.5 L272.2,2312.1 L276.2,2311.6 L280.2,2311.2 L284.2,2310.8 L288.2,2310.4 L292.2,2310.0 L296.2,2309.6 L300.2,2309.2 L304.2,2308.7 L308.2,2308.3 L312.2,2307.9 L316.2,2307.5 L320.2,2307.1 L324.2,2306.7 L328.2,2306.2 L332.2,2305.8 L336.2,2305.4 L340.2,2305.0 L344.2,2304.6 L348.2,2304.2 L352.2,2303.7 L356.2,2303.3 L360.2,2302.9 L364.2,2302.5 L368.2,2302.1 L372.2,2301.6 L376.2,2301.2 L380.2,2300.8 L384.2,2300.4 L388.2,2299.9 L392.2,2299.5 L396.2,2299.1 L400.2,2298.7 L404.2,2298.2 L408.2,2297.8 L412.2,2297.3 L416.2,2296.9 L420.2,2296.4 L424.2,2296.0 L428.2,2295.5 L432.2,2295.0 L436.2,2294.5 L440.2,2294.1 L444.2,2293.6 L448.2,2293.1 L452.2,2292.5 L456.2,2292.0 L460.2,2291.4 L464.2,2290.9 L468.2,2290.3 L472.2,2289.7 L476.2,2289.1 L480.2,2288.4 L484.2,2287.7 L488.2,2287.0 L492.2,2286.3 L496.2,2285.5 L500.2,2284.7 L504.2,2283.8 L508.2,2282.9 L512.2,2282.0 L516.2,2281.0 L520.2,2279.9 L524.2,2278.7 L528.2,2277.5 L532.2,2276.2 L536.2,2274.9 L540.2,2273.4 L544.2,2271.9 L548.2,2270.2 L552.2,2268.4 L556.2,2266.6 L560.2,2264.6 L564.2,2262.4 L568.2,2260.1 L572.2,2257.7 L576.2,2255.1 L580.2,2252.3 L584.2,2249.4 L588.2,2246.2 L592.2,2242.9 L596.2,2239.4 L600.2,2235.6 L604.2,2231.6 L608.2,2227.4 L612.2,2222.9 L616.2,2218.2 L620.2,2213.1 L624.2,2207.9 L628.2,2202.3 L632.2,2196.4 L636.2,2190.3 L640.2,2183.8 L644.2,2177.0 L648.2,2169.8 L652.2,2162.4 L656.2,2154.6 L660.2,2146.5 L664.2,2138.0 L668.2,2129.2 L672.2,2120.1 L676.2,2110.6 L680.2,2100.8 L684.2,2090.6 L688.2,2080.2 L692.2,2069.4 L696.2,2058.3 L700.2,2046.9 L704.2,2035.2 L708.2,2023.2 L712.2,2011.0 L716.2,1998.6 L720.2,1985.9 L724.2,1973.0 L728.2,1960.0 L732.2,1946.8 L736.2,1933.4 L740.2,1920.0 L744.2,1906.5 L748.2,1893.0 L752.2,1879.5 L756.2,1866.0 L760.2,1852.5 L764.2,1839.2 L768.2,1825.9 L772.2,1812.9 L776.2,1800.0 L780.2,1787.4 L784.2,1775.1 L788.2,1763.1 L792.2,1751.4 L796.2,1740.1 L800.2,1729.3 L804.2,1718.9 L808.2,1709.0 L812.2,1699.6 L816.2,1690.8 L820.2,1682.5 L824.2,1674.9 L828.2,1667.9 L832.2,1661.6 L836.2,1655.9 L840.2,1651.0 L844.2,1646.8 L848.2,1643.3 L852.2,1640.5 L856.2,1638.6 L860.2,1637.3 L864.2,1636.8 L868.2,1637.1 L872.2,1638.2 L876.2,1640.0 L880.2,1642.5 L884.2,1645.8 L888.2,1649.8 L892.2,1654.5 L896.2,1659.9 L900.2,1666.0 L904.2,1672.7 L908.2,1680.0 L912.2,1687.9 L916.2,1696.4 L920.2,1705.4 L924.2,1714.9 L928.2,1724.9 L932.2,1735.3 L936.2,1746.0 L940.2,1757.2 L944.2,1768.6 L948.2,1780.4 L952.2,1792.4 L956.2,1804.6 L960.2,1816.9 L964.2,1829.4 L968.2,1842.1 L972.2,1854.7 L976.2,1867.4 L980.2,1880.1 L984.2,1892.8 L988.2,1905.4 L992.2,1917.9 L996.2,1930.3 L1000.2,1942.6 L1004.2,1954.6 L1008.2,1966.5 L1012.2,1978.2 L1016.2,1989.6 L1020.2,2000.8 L1024.2,2011.7 L1028.2,2022.3 L1032.2,2032.6 L1036.2,2042.6 L1040.2,2052.3 L1044.2,2061.7 L1048.2,2070.7 L1052.2,2079.4 L1056.2,2087.8 L1060.2,2095.8 L1064.2,2103.5 L1068.2,2110.8 L1072.2,2117.8 L1076.2,2124.5 L1080.2,2130.9 L1084.2,2136.9 L1088.2,2142.6 L1092.2,2148.0 L1096.2,2153.1 L1100.2,2157.8 L1104.2,2162.3 L1108.2,2166.6 L1112.2,2170.5 L1116.2,2174.2 L1120.2,2177.6 L1124.2,2180.8 L1128.2,2183.8 L1132.2,2186.6 L1136.2,2189.1 L1140.2,2191.4 L1144.2,2193.6 L1148.2,2195.5 L1152.2,2197.3 L1156.2,2199.0 L1160.2,2200.5 L1164.2,2201.8 L1168.2,2203.0 L1172.2,2204.1 L1176.2,2205.0 L1180.2,2205.9 L1184.2,2206.6 L1188.2,2207.2 L1192.2,2207.8 L1196.2,2208.3 L1200.2,2208.7 L1204.2,2209.0 L1208.2,2209.2 L1212.2,2209.4 L1216.2,2209.6 L1216.8,2209.6" fill="none" stroke="#0E9270" stroke-width="7.5" stroke-linejoin="round" stroke-linecap="butt"/>
<path d="M132.2,2318.7 L136.2,2317.5 L140.2,2316.3 L144.2,2314.9 L148.2,2313.5 L152.2,2312.1 L156.2,2310.5 L160.2,2308.9 L164.2,2307.1 L168.2,2305.3 L172.2,2303.4 L176.2,2301.4 L180.2,2299.2 L184.2,2297.0 L188.2,2294.6 L192.2,2292.1 L196.2,2289.4 L200.2,2286.7 L204.2,2283.8 L208.2,2280.7 L212.2,2277.5 L216.2,2274.2 L220.2,2270.7 L224.2,2267.1 L228.2,2263.3 L232.2,2259.3 L236.2,2255.2 L240.2,2250.9 L244.2,2246.5 L248.2,2241.9 L252.2,2237.1 L256.2,2232.2 L260.2,2227.1 L264.2,2221.9 L268.2,2216.5 L272.2,2210.9 L276.2,2205.3 L280.2,2199.5 L284.2,2193.5 L288.2,2187.5 L292.2,2181.3 L296.2,2175.0 L300.2,2168.7 L304.2,2162.2 L308.2,2155.7 L312.2,2149.2 L316.2,2142.5 L320.2,2135.9 L324.2,2129.3 L328.2,2122.6 L332.2,2116.0 L336.2,2109.4 L340.2,2102.8 L344.2,2096.3 L348.2,2089.9 L352.2,2083.6 L356.2,2077.4 L360.2,2071.4 L364.2,2065.5 L368.2,2059.8 L372.2,2054.2 L376.2,2048.9 L380.2,2043.8 L384.2,2038.9 L388.2,2034.3 L392.2,2030.0 L396.2,2025.9 L400.2,2022.2 L404.2,2018.7 L408.2,2015.5 L412.2,2012.7 L416.2,2010.2 L420.2,2008.1 L424.2,2006.3 L428.2,2004.9 L432.2,2003.8 L436.2,2003.1 L440.2,2002.7 L444.2,2002.8 L448.2,2003.1 L452.2,2003.9 L456.2,2004.9 L460.2,2006.4 L464.2,2008.1 L468.2,2010.3 L472.2,2012.7 L476.2,2015.4 L480.2,2018.5 L484.2,2021.8 L488.2,2025.4 L492.2,2029.3 L496.2,2033.4 L500.2,2037.8 L504.2,2042.3 L508.2,2047.1 L512.2,2052.1 L516.2,2057.2 L520.2,2062.5 L524.2,2067.9 L528.2,2073.4 L532.2,2079.0 L536.2,2084.7 L540.2,2090.4 L544.2,2096.2 L548.2,2102.0 L552.2,2107.8 L556.2,2113.7 L560.2,2119.5 L564.2,2125.2 L568.2,2131.0 L572.2,2136.6 L576.2,2142.2 L580.2,2147.7 L584.2,2153.1 L588.2,2158.4 L592.2,2163.6 L596.2,2168.7 L600.2,2173.6 L604.2,2178.4 L608.2,2183.0 L612.2,2187.5 L616.2,2191.9 L620.2,2196.1 L624.2,2200.1 L628.2,2204.0 L632.2,2207.7 L636.2,2211.3 L640.2,2214.7 L644.2,2217.9 L648.2,2221.0 L652.2,2223.9 L656.2,2226.7 L660.2,2229.3 L664.2,2231.8 L668.2,2234.1 L672.2,2236.2 L676.2,2238.3 L680.2,2240.1 L684.2,2241.9 L688.2,2243.5 L692.2,2245.0 L696.2,2246.4 L700.2,2247.7 L704.2,2248.9 L708.2,2249.9 L712.2,2250.9 L716.2,2251.8 L720.2,2252.6 L724.2,2253.3 L728.2,2253.9 L732.2,2254.4 L736.2,2254.9 L740.2,2255.3 L744.2,2255.6 L748.2,2255.9 L752.2,2256.1 L756.2,2256.3 L760.2,2256.4 L764.2,2256.5 L768.2,2256.5 L772.2,2256.5 L776.2,2256.5 L780.2,2256.4 L784.2,2256.3 L788.2,2256.2 L792.2,2256.0 L796.2,2255.8 L800.2,2255.6 L804.2,2255.4 L808.2,2255.2 L812.2,2254.9 L816.2,2254.6 L820.2,2254.3 L824.2,2254.0 L828.2,2253.7 L832.2,2253.4 L836.2,2253.1 L840.2,2252.7 L844.2,2252.4 L848.2,2252.0 L852.2,2251.7 L856.2,2251.3 L860.2,2250.9 L864.2,2250.5 L868.2,2250.1 L872.2,2249.8 L876.2,2249.4 L880.2,2249.0 L884.2,2248.6 L888.2,2248.2 L892.2,2247.8 L896.2,2247.4 L900.2,2247.0 L904.2,2246.6 L908.2,2246.2 L912.2,2245.8 L916.2,2245.4 L920.2,2244.9 L924.2,2244.5 L928.2,2244.1 L932.2,2243.7 L936.2,2243.3 L940.2,2242.9 L944.2,2242.5 L948.2,2242.1 L952.2,2241.7 L956.2,2241.2 L960.2,2240.8 L964.2,2240.4 L968.2,2240.0 L972.2,2239.6 L976.2,2239.2 L980.2,2238.8 L984.2,2238.4 L988.2,2237.9 L992.2,2237.5 L996.2,2237.1 L1000.2,2236.7 L1004.2,2236.3 L1008.2,2235.9 L1012.2,2235.5 L1016.2,2235.0 L1020.2,2234.6 L1024.2,2234.2 L1028.2,2233.8 L1032.2,2233.4 L1036.2,2233.0 L1040.2,2232.6 L1044.2,2232.1 L1048.2,2231.7 L1052.2,2231.3 L1056.2,2230.9 L1060.2,2230.5 L1064.2,2230.1 L1068.2,2229.7 L1072.2,2229.3 L1076.2,2228.8 L1080.2,2228.4 L1084.2,2228.0 L1088.2,2227.6 L1092.2,2227.2 L1096.2,2226.8 L1100.2,2226.4 L1104.2,2225.9 L1108.2,2225.5 L1112.2,2225.1 L1116.2,2224.7 L1120.2,2224.3 L1124.2,2223.9 L1128.2,2223.5 L1132.2,2223.0 L1136.2,2222.6 L1140.2,2222.2 L1144.2,2221.8 L1148.2,2221.4 L1152.2,2221.0 L1156.2,2220.6 L1160.2,2220.1 L1164.2,2219.7 L1168.2,2219.3 L1172.2,2218.9 L1176.2,2218.5 L1180.2,2218.1 L1184.2,2217.7 L1188.2,2217.2 L1192.2,2216.8 L1196.2,2216.4 L1200.2,2216.0 L1204.2,2215.6 L1208.2,2215.2 L1212.2,2214.8 L1216.2,2214.3 L1216.8,2214.3" fill="none" stroke="#FA9263" stroke-width="7.5" stroke-linejoin="round" stroke-linecap="butt"/>
</g>
<rect x="132.2" y="1555.6" width="1084.6" height="872.4" fill="none" stroke="#000" stroke-width="6.5"/>
<line x1="200.5" y1="2428.0" x2="200.5" y2="2446.0" stroke="#000" stroke-width="6"/>
<text x="200.5" y="2490.8" font-family="Liberation Serif, Times New Roman, serif" font-weight="bold" font-size="39.5" text-anchor="middle" transform="matrix(1.03 0 0 1 -6.02 0)" fill="#000">237</text>
<line x1="335.6" y1="2428.0" x2="335.6" y2="2446.0" stroke="#000" stroke-width="6"/>
<text x="335.6" y="2490.8" font-family="Liberation Serif, Times New Roman, serif" font-weight="bold" font-size="39.5" text-anchor="middle" transform="matrix(1.03 0 0 1 -10.07 0)" fill="#000">236</text>
<line x1="470.8" y1="2428.0" x2="470.8" y2="2446.0" stroke="#000" stroke-width="6"/>
<text x="470.8" y="2490.8" font-family="Liberation Serif, Times New Roman, serif" font-weight="bold" font-size="39.5" text-anchor="middle" transform="matrix(1.03 0 0 1 -14.12 0)" fill="#000">235</text>
<line x1="606.0" y1="2428.0" x2="606.0" y2="2446.0" stroke="#000" stroke-width="6"/>
<text x="606.0" y="2490.8" font-family="Liberation Serif, Times New Roman, serif" font-weight="bold" font-size="39.5" text-anchor="middle" transform="matrix(1.03 0 0 1 -18.18 0)" fill="#000">234</text>
<line x1="741.1" y1="2428.0" x2="741.1" y2="2446.0" stroke="#000" stroke-width="6"/>
<text x="741.1" y="2490.8" font-family="Liberation Serif, Times New Roman, serif" font-weight="bold" font-size="39.5" text-anchor="middle" transform="matrix(1.03 0 0 1 -22.23 0)" fill="#000">233</text>
<line x1="876.2" y1="2428.0" x2="876.2" y2="2446.0" stroke="#000" stroke-width="6"/>
<text x="876.2" y="2490.8" font-family="Liberation Serif, Times New Roman, serif" font-weight="bold" font-size="39.5" text-anchor="middle" transform="matrix(1.03 0 0 1 -26.29 0)" fill="#000">232</text>
<line x1="1011.4" y1="2428.0" x2="1011.4" y2="2446.0" stroke="#000" stroke-width="6"/>
<text x="1011.4" y="2490.8" font-family="Liberation Serif, Times New Roman, serif" font-weight="bold" font-size="39.5" text-anchor="middle" transform="matrix(1.03 0 0 1 -30.34 0)" fill="#000">231</text>
<line x1="1146.6" y1="2428.0" x2="1146.6" y2="2446.0" stroke="#000" stroke-width="6"/>
<text x="1146.6" y="2490.8" font-family="Liberation Serif, Times New Roman, serif" font-weight="bold" font-size="39.5" text-anchor="middle" transform="matrix(1.03 0 0 1 -34.40 0)" fill="#000">230</text>
<line x1="132.9" y1="2428.0" x2="132.9" y2="2438.0" stroke="#000" stroke-width="6"/>
<line x1="268.1" y1="2428.0" x2="268.1" y2="2438.0" stroke="#000" stroke-width="6"/>
<line x1="403.2" y1="2428.0" x2="403.2" y2="2438.0" stroke="#000" stroke-width="6"/>
<line x1="538.4" y1="2428.0" x2="538.4" y2="2438.0" stroke="#000" stroke-width="6"/>
<line x1="673.5" y1="2428.0" x2="673.5" y2="2438.0" stroke="#000" stroke-width="6"/>
<line x1="808.7" y1="2428.0" x2="808.7" y2="2438.0" stroke="#000" stroke-width="6"/>
<line x1="943.8" y1="2428.0" x2="943.8" y2="2438.0" stroke="#000" stroke-width="6"/>
<line x1="1079.0" y1="2428.0" x2="1079.0" y2="2438.0" stroke="#000" stroke-width="6"/>
<line x1="1214.1" y1="2428.0" x2="1214.1" y2="2438.0" stroke="#000" stroke-width="6"/>
<text x="674.2" y="2567.0" font-family="Liberation Serif, Times New Roman, serif" font-weight="bold" font-size="48" text-anchor="middle" transform="matrix(1.03 0 0 1 -20.23 0)" fill="#000">Binding Energy (eV)</text>
<text x="93.0" y="1994.0" font-family="Liberation Serif, Times New Roman, serif" font-weight="bold" font-size="49.5" text-anchor="middle" transform="rotate(-90 93.0 1994.0)" fill="#000">Intensity(a.u.)</text>
<text x="146.7" y="1618.0" font-family="Liberation Serif, Times New Roman, serif" font-weight="bold" font-size="49" transform="matrix(1.03 0 0 1 -4.40 0)" fill="#000">MB5</text>
<rect x="437.4" y="1604.8" width="46.8" height="23.8" fill="#FA9263"/>
<rect x="437.4" y="1639.6" width="46.8" height="24.3" fill="#0E9270"/>
<text x="495.7" y="1648.0" font-family="Liberation Serif, Times New Roman, serif" font-weight="bold" font-size="44.5" transform="matrix(1.03 0 0 1 -14.87 0)" fill="#000">Mo</text>
<text x="560.7" y="1630.0" font-family="Liberation Serif, Times New Roman, serif" font-weight="bold" font-size="30" transform="matrix(1.03 0 0 1 -16.82 0)" fill="#000">4+</text>
<text x="363.5" y="1977.0" font-family="Liberation Serif, Times New Roman, serif" font-weight="bold" font-size="48" transform="matrix(1.03 0 0 1 -10.91 0)" fill="#000">Mo 3d</text>
<text x="497.7" y="1990.0" font-family="Liberation Serif, Times New Roman, serif" font-weight="bold" font-size="32" transform="matrix(1.03 0 0 1 -14.93 0)" fill="#000">3/2</text>
<text x="519.1" y="2034.7" font-family="Liberation Serif, Times New Roman, serif" font-weight="bold" font-size="38.5" transform="matrix(1.03 0 0 1 -15.57 0)" fill="#000">235.2 eV</text>
<text x="792.6" y="1614.8" font-family="Liberation Serif, Times New Roman, serif" font-weight="bold" font-size="44" transform="matrix(1.03 0 0 1 -23.78 0)" fill="#000">Mo 3d</text>
<text x="915.7" y="1627.5" font-family="Liberation Serif, Times New Roman, serif" font-weight="bold" font-size="32" transform="matrix(1.03 0 0 1 -27.47 0)" fill="#000">5/2</text>
<text x="927.7" y="1672.4" font-family="Liberation Serif, Times New Roman, serif" font-weight="bold" font-size="38.5" transform="matrix(1.03 0 0 1 -27.83 0)" fill="#000">232.1 eV</text>
<text x="1065.5" y="1611.0" font-family="Liberation Serif, Times New Roman, serif" font-weight="bold" font-size="49" transform="matrix(1.03 0 0 1 -31.97 0)" fill="#000">Mo 3d</text>
<text x="25.5" y="1636.7" font-family="Noto Sans CJK SC, Liberation Sans, sans-serif" font-weight="500" font-size="68" fill="#000">b</text>
</g>
<g id="panel-c">
<clipPath id="clipC"><rect x="1367" y="1562" width="1076" height="864"/></clipPath>
<g clip-path="url(#clipC)">
<path d="M1367.0,2013.8 L1371.0,2012.9 L1375.0,2012.1 L1379.0,2011.3 L1383.0,2010.4 L1387.0,2010.0 L1391.0,2010.0 L1395.0,2009.9 L1399.0,2009.9 L1403.0,2009.8 L1407.0,2009.7 L1411.0,2009.6 L1415.0,2009.5 L1419.0,2009.3 L1423.0,2009.4 L1427.0,2009.6 L1431.0,2009.8 L1435.0,2009.8 L1439.0,2009.8 L1443.0,2008.4 L1447.0,2006.9 L1451.0,2005.2 L1455.0,2003.3 L1459.0,2001.7 L1463.0,2000.4 L1467.0,1998.8 L1471.0,1996.9 L1475.0,1994.7 L1479.0,1991.0 L1483.0,1987.0 L1487.0,1982.7 L1491.0,1977.8 L1495.0,1973.0 L1499.0,1968.1 L1503.0,1962.7 L1507.0,1956.8 L1511.0,1950.4 L1515.0,1943.8 L1519.0,1936.7 L1523.0,1929.2 L1527.0,1921.3 L1531.0,1913.1 L1535.0,1904.8 L1539.0,1896.2 L1543.0,1887.4 L1547.0,1878.5 L1551.0,1869.1 L1555.0,1859.9 L1559.0,1850.8 L1563.0,1842.1 L1567.0,1833.7 L1571.0,1825.9 L1575.0,1818.8 L1579.0,1812.5 L1583.0,1807.0 L1587.0,1802.1 L1591.0,1798.2 L1595.0,1795.5 L1599.0,1794.0 L1603.0,1794.1 L1607.0,1795.9 L1611.0,1798.8 L1615.0,1802.8 L1619.0,1808.0 L1623.0,1813.7 L1627.0,1820.4 L1631.0,1827.8 L1635.0,1835.8 L1639.0,1844.5 L1643.0,1853.6 L1647.0,1862.9 L1651.0,1872.5 L1655.0,1882.2 L1659.0,1891.4 L1663.0,1900.4 L1667.0,1909.3 L1671.0,1917.9 L1675.0,1926.9 L1679.0,1936.3 L1683.0,1945.2 L1687.0,1953.7 L1691.0,1961.8 L1695.0,1967.3 L1699.0,1972.4 L1703.0,1977.0 L1707.0,1981.1 L1711.0,1985.7 L1715.0,1990.9 L1719.0,1995.6 L1723.0,1999.9 L1727.0,2003.8 L1731.0,2006.4 L1735.0,2008.6 L1739.0,2010.5 L1743.0,2012.1 L1747.0,2012.9 L1751.0,2013.0 L1755.0,2012.9 L1759.0,2012.6 L1763.0,2012.2 L1767.0,2013.4 L1771.0,2014.6 L1775.0,2015.7 L1779.0,2016.7 L1783.0,2017.6 L1787.0,2018.3 L1791.0,2019.1 L1795.0,2019.8 L1799.0,2020.5 L1803.0,2020.8 L1807.0,2021.1 L1811.0,2021.5 L1815.0,2021.8 L1819.0,2021.6 L1823.0,2021.0 L1827.0,2020.4 L1831.0,2019.8 L1835.0,2019.1 L1839.0,2018.9 L1843.0,2018.8 L1847.0,2018.6 L1851.0,2018.4 L1855.0,2018.2 L1859.0,2018.2 L1863.0,2018.2 L1867.0,2018.1 L1871.0,2018.1 L1875.0,2019.1 L1879.0,2020.1 L1883.0,2021.1 L1887.0,2022.1 L1891.0,2022.1 L1895.0,2021.1 L1899.0,2020.1 L1903.0,2019.2 L1907.0,2018.2 L1911.0,2018.7 L1915.0,2019.2 L1919.0,2019.7 L1923.0,2020.2 L1927.0,2020.1 L1931.0,2019.5 L1935.0,2019.0 L1939.0,2018.4 L1943.0,2017.8 L1947.0,2018.3 L1951.0,2018.8 L1955.0,2019.2 L1959.0,2019.7 L1963.0,2020.3 L1967.0,2020.8 L1971.0,2021.3 L1975.0,2021.9 L1979.0,2022.4 L1983.0,2021.3 L1987.0,2020.1 L1991.0,2019.0 L1995.0,2017.8 L1999.0,2017.7 L2003.0,2018.5 L2007.0,2019.3 L2011.0,2020.1 L2015.0,2020.9 L2019.0,2020.4 L2023.0,2019.8 L2027.0,2019.1 L2031.0,2018.4 L2035.0,2018.1 L2039.0,2018.3 L2043.0,2018.3 L2047.0,2018.2 L2051.0,2018.0 L2055.0,2017.0 L2059.0,2015.7 L2063.0,2014.3 L2067.0,2012.7 L2071.0,2010.6 L2075.0,2008.0 L2079.0,2005.1 L2083.0,2001.8 L2087.0,1998.2 L2091.0,1995.5 L2095.0,1992.4 L2099.0,1988.8 L2103.0,1984.5 L2107.0,1979.0 L2111.0,1972.0 L2115.0,1964.4 L2119.0,1956.1 L2123.0,1947.2 L2127.0,1937.4 L2131.0,1927.1 L2135.0,1916.0 L2139.0,1904.5 L2143.0,1892.6 L2147.0,1880.7 L2151.0,1868.5 L2155.0,1856.0 L2159.0,1843.4 L2163.0,1831.6 L2167.0,1820.0 L2171.0,1808.8 L2175.0,1798.2 L2179.0,1787.9 L2183.0,1778.1 L2187.0,1769.4 L2191.0,1761.9 L2195.0,1755.8 L2199.0,1751.0 L2203.0,1747.8 L2207.0,1746.3 L2211.0,1746.4 L2215.0,1748.1 L2219.0,1751.5 L2223.0,1756.5 L2227.0,1762.9 L2231.0,1770.7 L2235.0,1780.2 L2239.0,1790.7 L2243.0,1802.0 L2247.0,1814.1 L2251.0,1826.5 L2255.0,1839.2 L2259.0,1852.0 L2263.0,1864.9 L2267.0,1877.6 L2271.0,1890.9 L2275.0,1903.8 L2279.0,1916.3 L2283.0,1928.2 L2287.0,1938.6 L2291.0,1947.4 L2295.0,1955.6 L2299.0,1963.1 L2303.0,1969.9 L2307.0,1978.0 L2311.0,1985.5 L2315.0,1992.4 L2319.0,1998.6 L2323.0,2003.8 L2327.0,2007.9 L2331.0,2011.6 L2335.0,2014.8 L2339.0,2017.6 L2343.0,2019.0 L2347.0,2020.0 L2351.0,2020.7 L2355.0,2021.2 L2359.0,2022.4 L2363.0,2024.5 L2367.0,2026.5 L2371.0,2028.2 L2375.0,2029.9 L2379.0,2030.1 L2383.0,2030.2 L2387.0,2030.3 L2391.0,2030.3 L2395.0,2030.5 L2399.0,2031.0 L2403.0,2031.4 L2407.0,2031.8 L2411.0,2032.2 L2415.0,2031.5 L2419.0,2030.7 L2423.0,2030.0 L2427.0,2029.3 L2431.0,2029.0 L2435.0,2029.2 L2439.0,2029.3 L2440.0,2029.4 L2444.0,2029.5" fill="none" stroke="#CFCFCF" stroke-width="10" stroke-linejoin="round" stroke-linecap="butt"/>
<path d="M1367.0,2016.0 L1371.0,2016.0 L1375.0,2016.0 L1379.0,2016.0 L1383.0,2016.0 L1387.0,2016.0 L1391.0,2016.0 L1395.0,2016.0 L1399.0,2016.0 L1403.0,2016.0 L1407.0,2016.0 L1411.0,2016.0 L1415.0,2016.0 L1419.0,2016.0 L1423.0,2016.0 L1427.0,2016.0 L1431.0,2016.0 L1435.0,2016.0 L1439.0,2016.0 L1443.0,2016.0 L1447.0,2016.0 L1451.0,2016.0 L1455.0,2016.0 L1459.0,2016.0 L1463.0,2016.0 L1467.0,2016.0 L1471.0,2016.0 L1475.0,2016.0 L1479.0,2016.1 L1483.0,2016.1 L1487.0,2016.1 L1491.0,2016.1 L1495.0,2016.1 L1499.0,2016.2 L1503.0,2016.2 L1507.0,2016.2 L1511.0,2016.3 L1515.0,2016.3 L1519.0,2016.4 L1523.0,2016.4 L1527.0,2016.5 L1531.0,2016.6 L1535.0,2016.7 L1539.0,2016.8 L1543.0,2016.9 L1547.0,2017.0 L1551.0,2017.1 L1555.0,2017.3 L1559.0,2017.4 L1563.0,2017.6 L1567.0,2017.8 L1571.0,2017.9 L1575.0,2018.1 L1579.0,2018.3 L1583.0,2018.5 L1587.0,2018.7 L1591.0,2019.0 L1595.0,2019.2 L1599.0,2019.4 L1603.0,2019.6 L1607.0,2019.8 L1611.0,2020.0 L1615.0,2020.3 L1619.0,2020.5 L1623.0,2020.7 L1627.0,2020.9 L1631.0,2021.1 L1635.0,2021.2 L1639.0,2021.4 L1643.0,2021.6 L1647.0,2021.7 L1651.0,2021.9 L1655.0,2022.0 L1659.0,2022.1 L1663.0,2022.2 L1667.0,2022.3 L1671.0,2022.4 L1675.0,2022.5 L1679.0,2022.6 L1683.0,2022.6 L1687.0,2022.7 L1691.0,2022.7 L1695.0,2022.8 L1699.0,2022.8 L1703.0,2022.8 L1707.0,2022.9 L1711.0,2022.9 L1715.0,2022.9 L1719.0,2022.9 L1723.0,2022.9 L1727.0,2023.0 L1731.0,2023.0 L1735.0,2023.0 L1739.0,2023.0 L1743.0,2023.0 L1747.0,2023.0 L1751.0,2023.0 L1755.0,2023.0 L1759.0,2023.0 L1763.0,2023.0 L1767.0,2023.0 L1771.0,2023.0 L1775.0,2023.0 L1779.0,2023.0 L1783.0,2023.0 L1787.0,2023.0 L1791.0,2023.0 L1795.0,2023.0 L1799.0,2023.0 L1803.0,2023.0 L1807.0,2023.0 L1811.0,2023.0 L1815.0,2023.0 L1819.0,2023.0 L1823.0,2023.0 L1827.0,2023.0 L1831.0,2023.0 L1835.0,2023.0 L1839.0,2023.0 L1843.0,2023.0 L1847.0,2023.0 L1851.0,2023.0 L1855.0,2023.0 L1859.0,2023.0 L1863.0,2023.0 L1867.0,2023.0 L1871.0,2023.0 L1875.0,2023.0 L1879.0,2023.0 L1883.0,2023.0 L1887.0,2023.0 L1891.0,2023.0 L1895.0,2023.0 L1899.0,2023.0 L1903.0,2023.0 L1907.0,2023.0 L1911.0,2023.0 L1915.0,2023.0 L1919.0,2023.0 L1923.0,2023.0 L1927.0,2023.0 L1931.0,2023.0 L1935.0,2023.0 L1939.0,2023.0 L1943.0,2023.0 L1947.0,2023.0 L1951.0,2023.0 L1955.0,2023.0 L1959.0,2023.0 L1963.0,2023.0 L1967.0,2023.0 L1971.0,2023.0 L1975.0,2023.0 L1979.0,2023.0 L1983.0,2023.0 L1987.0,2023.0 L1991.0,2023.0 L1995.0,2023.0 L1999.0,2023.0 L2003.0,2023.0 L2007.0,2023.0 L2011.0,2023.0 L2015.0,2023.0 L2019.0,2023.0 L2023.0,2023.0 L2027.0,2023.0 L2031.0,2023.0 L2035.0,2023.0 L2039.0,2023.0 L2043.0,2023.0 L2047.0,2023.0 L2051.0,2023.0 L2055.0,2023.0 L2059.0,2023.0 L2063.0,2023.0 L2067.0,2023.0 L2071.0,2023.1 L2075.0,2023.1 L2079.0,2023.1 L2083.0,2023.1 L2087.0,2023.1 L2091.0,2023.2 L2095.0,2023.2 L2099.0,2023.2 L2103.0,2023.3 L2107.0,2023.3 L2111.0,2023.4 L2115.0,2023.4 L2119.0,2023.5 L2123.0,2023.6 L2127.0,2023.7 L2131.0,2023.8 L2135.0,2023.9 L2139.0,2024.0 L2143.0,2024.2 L2147.0,2024.3 L2151.0,2024.5 L2155.0,2024.7 L2159.0,2024.9 L2163.0,2025.1 L2167.0,2025.3 L2171.0,2025.5 L2175.0,2025.8 L2179.0,2026.1 L2183.0,2026.3 L2187.0,2026.6 L2191.0,2026.9 L2195.0,2027.2 L2199.0,2027.5 L2203.0,2027.8 L2207.0,2028.1 L2211.0,2028.4 L2215.0,2028.7 L2219.0,2029.0 L2223.0,2029.3 L2227.0,2029.5 L2231.0,2029.8 L2235.0,2030.1 L2239.0,2030.3 L2243.0,2030.6 L2247.0,2030.8 L2251.0,2031.0 L2255.0,2031.2 L2259.0,2031.4 L2263.0,2031.6 L2267.0,2031.8 L2271.0,2031.9 L2275.0,2032.0 L2279.0,2032.2 L2283.0,2032.3 L2287.0,2032.4 L2291.0,2032.5 L2295.0,2032.5 L2299.0,2032.6 L2303.0,2032.7 L2307.0,2032.7 L2311.0,2032.8 L2315.0,2032.8 L2319.0,2032.8 L2323.0,2032.9 L2327.0,2032.9 L2331.0,2032.9 L2335.0,2032.9 L2339.0,2032.9 L2343.0,2033.0 L2347.0,2033.0 L2351.0,2033.0 L2355.0,2033.0 L2359.0,2033.0 L2363.0,2033.0 L2367.0,2033.0 L2371.0,2033.0 L2375.0,2033.0 L2379.0,2033.0 L2383.0,2033.0 L2387.0,2033.0 L2391.0,2033.0 L2395.0,2033.0 L2399.0,2033.0 L2403.0,2033.0 L2407.0,2033.0 L2411.0,2033.0 L2415.0,2033.0 L2419.0,2033.0 L2423.0,2033.0 L2427.0,2033.0 L2431.0,2033.0 L2435.0,2033.0 L2439.0,2033.0 L2440.0,2033.0 L2444.0,2033.0" fill="none" stroke="#1081C8" stroke-width="8.5" stroke-linejoin="round" stroke-linecap="butt"/>
<path d="M1367.0,2014.0 L1371.0,2014.0 L1375.0,2014.0 L1379.0,2014.0 L1383.0,2014.0 L1387.0,2014.0 L1391.0,2014.0 L1395.0,2014.0 L1399.0,2014.0 L1403.0,2014.0 L1407.0,2014.0 L1411.0,2014.0 L1415.0,2014.0 L1419.0,2014.0 L1423.0,2014.0 L1427.0,2014.0 L1431.0,2014.0 L1435.0,2014.0 L1439.0,2014.0 L1443.0,2014.0 L1447.0,2014.0 L1451.0,2014.0 L1455.0,2014.0 L1459.0,2014.0 L1463.0,2014.0 L1467.0,2014.0 L1471.0,2014.0 L1475.0,2014.0 L1479.0,2014.1 L1483.0,2014.1 L1487.0,2014.1 L1491.0,2014.1 L1495.0,2014.1 L1499.0,2014.2 L1503.0,2014.2 L1507.0,2014.2 L1511.0,2014.3 L1515.0,2014.3 L1519.0,2014.4 L1523.0,2014.4 L1527.0,2014.5 L1531.0,2014.6 L1535.0,2014.7 L1539.0,2014.8 L1543.0,2014.9 L1547.0,2015.0 L1551.0,2015.1 L1555.0,2015.3 L1559.0,2015.4 L1563.0,2015.6 L1567.0,2015.8 L1571.0,2015.9 L1575.0,2016.1 L1579.0,2016.3 L1583.0,2016.5 L1587.0,2016.7 L1591.0,2017.0 L1595.0,2017.2 L1599.0,2017.4 L1603.0,2017.6 L1607.0,2017.8 L1611.0,2018.0 L1615.0,2018.3 L1619.0,2018.5 L1623.0,2018.7 L1627.0,2018.9 L1631.0,2019.1 L1635.0,2019.2 L1639.0,2019.4 L1643.0,2019.6 L1647.0,2019.7 L1651.0,2019.9 L1655.0,2020.0 L1659.0,2020.1 L1663.0,2020.2 L1667.0,2020.3 L1671.0,2020.4 L1675.0,2020.5 L1679.0,2020.6 L1683.0,2020.6 L1687.0,2020.7 L1691.0,2020.7 L1695.0,2020.8 L1699.0,2020.8 L1703.0,2020.8 L1707.0,2020.9 L1711.0,2020.9 L1715.0,2020.9 L1719.0,2020.9 L1723.0,2020.9 L1727.0,2021.0 L1731.0,2021.0 L1735.0,2021.0 L1739.0,2021.0 L1743.0,2021.0 L1747.0,2021.0 L1751.0,2021.0 L1755.0,2021.0 L1759.0,2021.0 L1763.0,2021.0 L1767.0,2021.0 L1771.0,2021.0 L1775.0,2021.0 L1779.0,2021.0 L1783.0,2021.0 L1787.0,2021.0 L1791.0,2021.0 L1795.0,2021.0 L1799.0,2021.0" fill="none" stroke="#5F8F6C" stroke-width="7" stroke-linejoin="round" stroke-linecap="butt"/>
<path d="M1367.0,2014.1 L1371.0,2014.0 L1375.0,2013.9 L1379.0,2013.9 L1383.0,2013.8 L1387.0,2013.7 L1391.0,2013.6 L1395.0,2013.4 L1399.0,2013.3 L1403.0,2013.1 L1407.0,2013.0 L1411.0,2012.7 L1415.0,2012.5 L1419.0,2012.2 L1423.0,2011.9 L1427.0,2011.5 L1431.0,2011.0 L1435.0,2010.5 L1439.0,2009.8 L1443.0,2009.1 L1447.0,2008.2 L1451.0,2007.2 L1455.0,2006.0 L1459.0,2004.6 L1463.0,2003.1 L1467.0,2001.2 L1471.0,1999.1 L1475.0,1996.7 L1479.0,1994.0 L1483.0,1990.9 L1487.0,1987.5 L1491.0,1983.6 L1495.0,1979.3 L1499.0,1974.6 L1503.0,1969.4 L1507.0,1963.8 L1511.0,1957.6 L1515.0,1951.0 L1519.0,1943.9 L1523.0,1936.4 L1527.0,1928.5 L1531.0,1920.1 L1535.0,1911.5 L1539.0,1902.6 L1543.0,1893.5 L1547.0,1884.3 L1551.0,1875.0 L1555.0,1865.8 L1559.0,1856.7 L1563.0,1848.0 L1567.0,1839.6 L1571.0,1831.7 L1575.0,1824.5 L1579.0,1818.0 L1583.0,1812.3 L1587.0,1807.6 L1591.0,1803.9 L1595.0,1801.3 L1599.0,1799.9 L1603.0,1799.6 L1607.0,1800.6 L1611.0,1802.7 L1615.0,1806.0 L1619.0,1810.4 L1623.0,1815.8 L1627.0,1822.1 L1631.0,1829.2 L1635.0,1837.0 L1639.0,1845.3 L1643.0,1854.1 L1647.0,1863.3 L1651.0,1872.7 L1655.0,1882.2 L1659.0,1891.7 L1663.0,1901.1 L1667.0,1910.4 L1671.0,1919.4 L1675.0,1928.2 L1679.0,1936.5 L1683.0,1944.5 L1687.0,1952.0 L1691.0,1959.1 L1695.0,1965.7 L1699.0,1971.8 L1703.0,1977.4 L1707.0,1982.6 L1711.0,1987.2 L1715.0,1991.4 L1719.0,1995.2 L1723.0,1998.6 L1727.0,2001.6 L1731.0,2004.3 L1735.0,2006.6 L1739.0,2008.6 L1743.0,2010.4 L1747.0,2012.0 L1751.0,2013.3 L1755.0,2014.5 L1759.0,2015.4 L1763.0,2016.3 L1767.0,2017.0 L1771.0,2017.6 L1775.0,2018.1 L1779.0,2018.6 L1783.0,2019.0 L1787.0,2019.3 L1791.0,2019.6 L1795.0,2019.8 L1799.0,2020.0 L1803.0,2020.2 L1807.0,2020.3 L1811.0,2020.5 L1815.0,2020.6 L1819.0,2020.7 L1823.0,2020.8 L1827.0,2020.9 L1831.0,2021.0 L1835.0,2021.0 L1839.0,2021.1 L1843.0,2021.2 L1847.0,2021.2 L1851.0,2021.3 L1855.0,2021.3 L1859.0,2021.4 L1863.0,2021.4 L1867.0,2021.5 L1871.0,2021.5 L1875.0,2021.6 L1879.0,2021.6 L1883.0,2021.6 L1887.0,2021.7 L1891.0,2021.7 L1895.0,2021.7 L1899.0,2021.8 L1903.0,2021.8 L1907.0,2021.8 L1911.0,2021.9 L1915.0,2021.9 L1919.0,2021.9 L1923.0,2021.9 L1927.0,2022.0 L1931.0,2022.0 L1935.0,2022.0 L1939.0,2022.0 L1943.0,2022.1 L1947.0,2022.1 L1951.0,2022.1 L1955.0,2022.1 L1959.0,2022.1 L1963.0,2022.2 L1967.0,2022.2 L1971.0,2022.2 L1975.0,2022.2 L1979.0,2022.2 L1983.0,2022.2 L1987.0,2022.3 L1991.0,2022.3 L1995.0,2022.3 L1999.0,2022.3" fill="none" stroke="#1081C8" stroke-width="9" stroke-linejoin="round" stroke-linecap="butt"/>
<linearGradient id="gradC" gradientUnits="userSpaceOnUse" x1="1950" y1="0" x2="2040" y2="0"><stop offset="0" stop-color="#5F8F6C" stop-opacity="0"/><stop offset="1" stop-color="#5F8F6C" stop-opacity="1"/></linearGradient>
<path d="M1987.0,2021.4 L1991.0,2021.3 L1995.0,2021.2 L1999.0,2021.1 L2003.0,2021.0 L2007.0,2020.9 L2011.0,2020.8 L2015.0,2020.6 L2019.0,2020.5 L2023.0,2020.2 L2027.0,2020.0 L2031.0,2019.7 L2035.0,2019.3 L2039.0,2018.9 L2043.0,2018.4 L2047.0,2017.8 L2051.0,2017.0 L2055.0,2016.1 L2059.0,2015.1 L2063.0,2013.8 L2067.0,2012.3 L2071.0,2010.5 L2075.0,2008.5 L2079.0,2006.1 L2083.0,2003.3 L2087.0,2000.1 L2091.0,1996.5 L2095.0,1992.3 L2099.0,1987.6 L2103.0,1982.3 L2107.0,1976.3 L2111.0,1969.8 L2115.0,1962.5 L2119.0,1954.6 L2123.0,1946.1 L2127.0,1936.9 L2131.0,1927.0 L2135.0,1916.6 L2139.0,1905.6 L2143.0,1894.2 L2147.0,1882.4 L2151.0,1870.3 L2155.0,1858.1 L2159.0,1845.9 L2163.0,1833.8 L2167.0,1822.0 L2171.0,1810.7 L2175.0,1800.0 L2179.0,1790.1 L2183.0,1781.1 L2187.0,1773.2 L2191.0,1766.7 L2195.0,1761.4 L2199.0,1757.7 L2203.0,1755.6 L2207.0,1755.1 L2211.0,1756.2 L2215.0,1758.9 L2219.0,1763.2 L2223.0,1769.0 L2227.0,1776.2 L2231.0,1784.6 L2235.0,1794.1 L2239.0,1804.5 L2243.0,1815.7 L2247.0,1827.5 L2251.0,1839.7 L2255.0,1852.2 L2259.0,1864.8 L2263.0,1877.4 L2267.0,1889.8 L2271.0,1901.9 L2275.0,1913.6 L2279.0,1924.8 L2283.0,1935.5 L2287.0,1945.5 L2291.0,1955.0 L2295.0,1963.7 L2299.0,1971.7 L2303.0,1979.1 L2307.0,1985.7 L2311.0,1991.8 L2315.0,1997.1 L2319.0,2001.9 L2323.0,2006.2 L2327.0,2009.9 L2331.0,2013.1 L2335.0,2015.9 L2339.0,2018.4 L2343.0,2020.4 L2347.0,2022.2 L2351.0,2023.7 L2355.0,2025.0 L2359.0,2026.1 L2363.0,2027.0 L2367.0,2027.7 L2371.0,2028.4 L2375.0,2028.9 L2379.0,2029.3 L2383.0,2029.7 L2387.0,2030.0 L2391.0,2030.2 L2395.0,2030.5 L2399.0,2030.6 L2403.0,2030.8 L2407.0,2030.9 L2411.0,2031.0 L2415.0,2031.1 L2419.0,2031.2 L2423.0,2031.3 L2427.0,2031.4 L2431.0,2031.4 L2435.0,2031.5 L2439.0,2031.5 L2440.0,2031.6 L2444.0,2031.6" fill="none" stroke="#1081C8" stroke-width="9" stroke-linejoin="round" stroke-linecap="butt"/>
<path d="M1943.0,2021.9 L1947.0,2021.8 L1951.0,2021.8 L1955.0,2021.8 L1959.0,2021.7 L1963.0,2021.7 L1967.0,2021.6 L1971.0,2021.6 L1975.0,2021.5 L1979.0,2021.5 L1983.0,2021.4 L1987.0,2021.4 L1991.0,2021.3 L1995.0,2021.2 L1999.0,2021.1 L2003.0,2021.0 L2007.0,2020.9 L2011.0,2020.8 L2015.0,2020.6 L2019.0,2020.5 L2023.0,2020.2 L2027.0,2020.0 L2031.0,2019.7 L2035.0,2019.3 L2039.0,2018.9 L2043.0,2018.4 L2047.0,2017.8 L2051.0,2017.0 L2055.0,2016.1 L2059.0,2015.1 L2063.0,2013.8 L2067.0,2012.3 L2071.0,2010.5 L2075.0,2008.5 L2079.0,2006.1 L2083.0,2003.3 L2087.0,2000.1 L2091.0,1996.5 L2095.0,1992.3 L2099.0,1987.6 L2103.0,1982.3 L2107.0,1976.3 L2111.0,1969.8 L2115.0,1962.5 L2119.0,1954.6 L2123.0,1946.1 L2127.0,1936.9 L2131.0,1927.0 L2135.0,1916.6 L2139.0,1905.6 L2143.0,1894.2 L2147.0,1882.4 L2151.0,1870.3 L2155.0,1858.1 L2159.0,1845.9 L2163.0,1833.8 L2167.0,1822.0 L2171.0,1810.7 L2175.0,1800.0 L2179.0,1790.1 L2183.0,1781.1 L2187.0,1773.2 L2191.0,1766.7 L2195.0,1761.4 L2199.0,1757.7 L2203.0,1755.6 L2207.0,1755.1 L2211.0,1756.2 L2215.0,1758.9 L2219.0,1763.2 L2223.0,1769.0 L2227.0,1776.2 L2231.0,1784.6 L2235.0,1794.1 L2239.0,1804.5 L2243.0,1815.7 L2247.0,1827.5 L2251.0,1839.7 L2255.0,1852.2 L2259.0,1864.8 L2263.0,1877.4 L2267.0,1889.8 L2271.0,1901.9 L2275.0,1913.6 L2279.0,1924.8 L2283.0,1935.5 L2287.0,1945.5 L2291.0,1955.0 L2295.0,1963.7 L2299.0,1971.7 L2303.0,1979.1 L2307.0,1985.7 L2311.0,1991.8 L2315.0,1997.1 L2319.0,2001.9 L2323.0,2006.2 L2327.0,2009.9 L2331.0,2013.1 L2335.0,2015.9 L2339.0,2018.4 L2343.0,2020.4 L2347.0,2022.2 L2351.0,2023.7 L2355.0,2025.0 L2359.0,2026.1 L2363.0,2027.0 L2367.0,2027.7 L2371.0,2028.4 L2375.0,2028.9 L2379.0,2029.3 L2383.0,2029.7 L2387.0,2030.0 L2391.0,2030.2 L2395.0,2030.5 L2399.0,2030.6 L2403.0,2030.8 L2407.0,2030.9 L2411.0,2031.0 L2415.0,2031.1 L2419.0,2031.2 L2423.0,2031.3 L2427.0,2031.4 L2431.0,2031.4 L2435.0,2031.5 L2439.0,2031.5 L2440.0,2031.6 L2444.0,2031.6" fill="none" stroke="url(#gradC)" stroke-width="7" stroke-linejoin="round" stroke-linecap="butt"/>
<path d="M1367.0,2370.8 L1371.0,2370.1 L1375.0,2369.3 L1379.0,2368.4 L1383.0,2367.5 L1387.0,2366.6 L1391.0,2365.9 L1395.0,2365.0 L1399.0,2364.0 L1403.0,2363.0 L1407.0,2362.3 L1411.0,2361.4 L1415.0,2360.4 L1419.0,2359.3 L1423.0,2357.9 L1427.0,2356.2 L1431.0,2354.3 L1435.0,2352.2 L1439.0,2349.9 L1443.0,2347.3 L1447.0,2344.5 L1451.0,2341.4 L1455.0,2338.1 L1459.0,2334.7 L1463.0,2331.2 L1467.0,2327.5 L1471.0,2323.5 L1475.0,2319.2 L1479.0,2315.6 L1483.0,2311.7 L1487.0,2307.5 L1491.0,2303.2 L1495.0,2297.7 L1499.0,2291.2 L1503.0,2284.6 L1507.0,2277.8 L1511.0,2270.9 L1515.0,2265.6 L1519.0,2260.2 L1523.0,2254.8 L1527.0,2249.5 L1531.0,2243.4 L1535.0,2236.6 L1539.0,2230.1 L1543.0,2223.7 L1547.0,2217.7 L1551.0,2213.0 L1555.0,2208.7 L1559.0,2204.9 L1563.0,2201.6 L1567.0,2198.9 L1571.0,2197.0 L1575.0,2195.7 L1579.0,2195.0 L1583.0,2195.0 L1587.0,2194.8 L1591.0,2195.3 L1595.0,2196.4 L1599.0,2198.1 L1603.0,2200.8 L1607.0,2204.3 L1611.0,2208.4 L1615.0,2212.9 L1619.0,2217.9 L1623.0,2223.8 L1627.0,2230.1 L1631.0,2236.7 L1635.0,2243.4 L1639.0,2250.0 L1643.0,2256.2 L1647.0,2262.6 L1651.0,2268.9 L1655.0,2275.3 L1659.0,2281.6 L1663.0,2287.9 L1667.0,2294.0 L1671.0,2299.9 L1675.0,2305.6 L1679.0,2311.0 L1683.0,2316.2 L1687.0,2321.1 L1691.0,2325.8 L1695.0,2330.8 L1699.0,2335.5 L1703.0,2340.0 L1707.0,2344.2 L1711.0,2347.9 L1715.0,2351.2 L1719.0,2354.3 L1723.0,2357.1 L1727.0,2359.6 L1731.0,2361.4 L1735.0,2362.9 L1739.0,2364.2 L1743.0,2365.4 L1747.0,2366.7 L1751.0,2368.3 L1755.0,2369.7 L1759.0,2371.0 L1763.0,2372.1 L1767.0,2372.0 L1771.0,2371.8 L1775.0,2371.5 L1779.0,2371.2 L1783.0,2371.6 L1787.0,2372.9 L1791.0,2374.2 L1795.0,2375.4 L1799.0,2376.6 L1803.0,2376.4 L1807.0,2376.2 L1811.0,2376.0 L1815.0,2375.7 L1819.0,2375.8 L1823.0,2376.3 L1827.0,2376.8 L1831.0,2377.3 L1835.0,2377.7 L1839.0,2377.6 L1843.0,2377.5 L1847.0,2377.4 L1851.0,2377.3 L1855.0,2377.0 L1859.0,2376.5 L1863.0,2376.0 L1867.0,2375.6 L1871.0,2375.1 L1875.0,2374.8 L1879.0,2374.4 L1883.0,2374.1 L1887.0,2373.8 L1891.0,2374.2 L1895.0,2375.4 L1899.0,2376.5 L1903.0,2377.7 L1907.0,2378.8 L1911.0,2377.7 L1915.0,2376.6 L1919.0,2375.6 L1923.0,2374.5 L1927.0,2374.1 L1931.0,2374.5 L1935.0,2375.0 L1939.0,2375.4 L1943.0,2375.8 L1947.0,2375.5 L1951.0,2375.3 L1955.0,2375.0 L1959.0,2374.8 L1963.0,2374.5 L1967.0,2374.3 L1971.0,2374.1 L1975.0,2373.9 L1979.0,2373.6 L1983.0,2374.0 L1987.0,2374.3 L1991.0,2374.6 L1995.0,2374.8 L1999.0,2374.8 L2003.0,2374.6 L2007.0,2374.4 L2011.0,2374.0 L2015.0,2373.6 L2019.0,2371.7 L2023.0,2369.8 L2027.0,2367.6 L2031.0,2365.3 L2035.0,2363.6 L2039.0,2362.4 L2043.0,2361.0 L2047.0,2359.4 L2051.0,2357.5 L2055.0,2354.3 L2059.0,2350.9 L2063.0,2347.1 L2067.0,2343.0 L2071.0,2338.9 L2075.0,2334.9 L2079.0,2330.5 L2083.0,2325.8 L2087.0,2320.7 L2091.0,2314.6 L2095.0,2308.1 L2099.0,2301.3 L2103.0,2294.1 L2107.0,2286.6 L2111.0,2278.7 L2115.0,2270.5 L2119.0,2262.1 L2123.0,2253.5 L2127.0,2245.0 L2131.0,2236.5 L2135.0,2227.9 L2139.0,2219.4 L2143.0,2211.1 L2147.0,2202.9 L2151.0,2195.0 L2155.0,2187.5 L2159.0,2180.4 L2163.0,2174.6 L2167.0,2169.4 L2171.0,2164.9 L2175.0,2161.0 L2179.0,2157.2 L2183.0,2153.5 L2187.0,2150.7 L2191.0,2148.7 L2195.0,2147.7 L2199.0,2147.8 L2203.0,2148.8 L2207.0,2150.7 L2211.0,2153.5 L2215.0,2157.8 L2219.0,2163.6 L2223.0,2170.0 L2227.0,2177.1 L2231.0,2184.9 L2235.0,2192.3 L2239.0,2200.2 L2243.0,2208.5 L2247.0,2217.0 L2251.0,2225.3 L2255.0,2233.4 L2259.0,2241.5 L2263.0,2249.5 L2267.0,2257.6 L2271.0,2265.8 L2275.0,2273.8 L2279.0,2281.6 L2283.0,2289.1 L2287.0,2296.5 L2291.0,2303.9 L2295.0,2310.9 L2299.0,2317.5 L2303.0,2323.8 L2307.0,2329.4 L2311.0,2334.7 L2315.0,2339.6 L2319.0,2344.0 L2323.0,2348.4 L2327.0,2352.6 L2331.0,2356.5 L2335.0,2360.0 L2339.0,2363.2 L2343.0,2365.5 L2347.0,2367.5 L2351.0,2369.2 L2355.0,2370.7 L2359.0,2372.3 L2363.0,2373.9 L2367.0,2375.4 L2371.0,2376.7 L2375.0,2377.9 L2379.0,2378.7 L2383.0,2379.5 L2387.0,2380.2 L2391.0,2380.7 L2395.0,2381.4 L2399.0,2382.3 L2403.0,2383.0 L2407.0,2383.7 L2411.0,2384.4 L2415.0,2385.1 L2419.0,2385.7 L2423.0,2386.3 L2427.0,2386.8 L2431.0,2387.1 L2435.0,2387.0 L2439.0,2386.9 L2440.0,2386.9 L2444.0,2386.8" fill="none" stroke="#CFCFCF" stroke-width="10" stroke-linejoin="round" stroke-linecap="butt"/>
<path d="M1367.0,2372.0 L1371.0,2372.0 L1375.0,2372.0 L1379.0,2372.0 L1383.0,2372.0 L1387.0,2372.0 L1391.0,2372.0 L1395.0,2372.0 L1399.0,2372.0 L1403.0,2372.0 L1407.0,2372.0 L1411.0,2372.0 L1415.0,2372.0 L1419.0,2372.1 L1423.0,2372.1 L1427.0,2372.1 L1431.0,2372.1 L1435.0,2372.1 L1439.0,2372.1 L1443.0,2372.1 L1447.0,2372.2 L1451.0,2372.2 L1455.0,2372.2 L1459.0,2372.2 L1463.0,2372.3 L1467.0,2372.3 L1471.0,2372.4 L1475.0,2372.4 L1479.0,2372.4 L1483.0,2372.5 L1487.0,2372.6 L1491.0,2372.6 L1495.0,2372.7 L1499.0,2372.8 L1503.0,2372.9 L1507.0,2373.0 L1511.0,2373.1 L1515.0,2373.2 L1519.0,2373.3 L1523.0,2373.4 L1527.0,2373.5 L1531.0,2373.6 L1535.0,2373.8 L1539.0,2373.9 L1543.0,2374.1 L1547.0,2374.2 L1551.0,2374.4 L1555.0,2374.6 L1559.0,2374.7 L1563.0,2374.9 L1567.0,2375.1 L1571.0,2375.3 L1575.0,2375.4 L1579.0,2375.6 L1583.0,2375.8 L1587.0,2376.0 L1591.0,2376.2 L1595.0,2376.4 L1599.0,2376.6 L1603.0,2376.7 L1607.0,2376.9 L1611.0,2377.1 L1615.0,2377.3 L1619.0,2377.4 L1623.0,2377.6 L1627.0,2377.8 L1631.0,2377.9 L1635.0,2378.1 L1639.0,2378.2 L1643.0,2378.4 L1647.0,2378.5 L1651.0,2378.6 L1655.0,2378.7 L1659.0,2378.8 L1663.0,2378.9 L1667.0,2379.0 L1671.0,2379.1 L1675.0,2379.2 L1679.0,2379.3 L1683.0,2379.4 L1687.0,2379.4 L1691.0,2379.5 L1695.0,2379.6 L1699.0,2379.6 L1703.0,2379.6 L1707.0,2379.7 L1711.0,2379.7 L1715.0,2379.8 L1719.0,2379.8 L1723.0,2379.8 L1727.0,2379.8 L1731.0,2379.9 L1735.0,2379.9 L1739.0,2379.9 L1743.0,2379.9 L1747.0,2379.9 L1751.0,2379.9 L1755.0,2379.9 L1759.0,2380.0 L1763.0,2380.0 L1767.0,2380.0 L1771.0,2380.0 L1775.0,2380.0 L1779.0,2380.0 L1783.0,2380.0 L1787.0,2380.0 L1791.0,2380.0 L1795.0,2380.0 L1799.0,2380.0 L1803.0,2380.0 L1807.0,2380.0 L1811.0,2380.0 L1815.0,2380.0 L1819.0,2380.0 L1823.0,2380.0 L1827.0,2380.0 L1831.0,2380.0 L1835.0,2380.0 L1839.0,2380.0 L1843.0,2380.0 L1847.0,2380.0 L1851.0,2380.0 L1855.0,2380.0 L1859.0,2380.0 L1863.0,2380.0 L1867.0,2380.0 L1871.0,2380.0 L1875.0,2380.0 L1879.0,2380.0 L1883.0,2380.0 L1887.0,2380.0 L1891.0,2380.0 L1895.0,2380.0 L1899.0,2380.0 L1903.0,2380.0 L1907.0,2380.0 L1911.0,2380.0 L1915.0,2380.0 L1919.0,2380.0 L1923.0,2380.0 L1927.0,2380.0 L1931.0,2380.0 L1935.0,2380.0 L1939.0,2380.0 L1943.0,2380.0 L1947.0,2380.0 L1951.0,2380.0 L1955.0,2380.0 L1959.0,2380.0 L1963.0,2380.0 L1967.0,2380.0 L1971.0,2380.0 L1975.0,2380.0 L1979.0,2380.0 L1983.0,2380.0 L1987.0,2380.0 L1991.0,2380.0 L1995.0,2380.0 L1999.0,2380.0 L2003.0,2380.0 L2007.0,2380.0 L2011.0,2380.0 L2015.0,2380.0 L2019.0,2380.0 L2023.0,2380.0 L2027.0,2380.0 L2031.0,2380.1 L2035.0,2380.1 L2039.0,2380.1 L2043.0,2380.1 L2047.0,2380.1 L2051.0,2380.1 L2055.0,2380.1 L2059.0,2380.2 L2063.0,2380.2 L2067.0,2380.2 L2071.0,2380.3 L2075.0,2380.3 L2079.0,2380.3 L2083.0,2380.4 L2087.0,2380.4 L2091.0,2380.5 L2095.0,2380.6 L2099.0,2380.6 L2103.0,2380.7 L2107.0,2380.8 L2111.0,2380.9 L2115.0,2381.0 L2119.0,2381.1 L2123.0,2381.2 L2127.0,2381.4 L2131.0,2381.5 L2135.0,2381.6 L2139.0,2381.8 L2143.0,2381.9 L2147.0,2382.1 L2151.0,2382.3 L2155.0,2382.5 L2159.0,2382.7 L2163.0,2382.9 L2167.0,2383.1 L2171.0,2383.3 L2175.0,2383.5 L2179.0,2383.7 L2183.0,2383.9 L2187.0,2384.1 L2191.0,2384.3 L2195.0,2384.6 L2199.0,2384.8 L2203.0,2385.0 L2207.0,2385.2 L2211.0,2385.4 L2215.0,2385.6 L2219.0,2385.8 L2223.0,2386.1 L2227.0,2386.2 L2231.0,2386.4 L2235.0,2386.6 L2239.0,2386.8 L2243.0,2387.0 L2247.0,2387.1 L2251.0,2387.3 L2255.0,2387.4 L2259.0,2387.6 L2263.0,2387.7 L2267.0,2387.8 L2271.0,2387.9 L2275.0,2388.0 L2279.0,2388.1 L2283.0,2388.2 L2287.0,2388.3 L2291.0,2388.4 L2295.0,2388.5 L2299.0,2388.5 L2303.0,2388.6 L2307.0,2388.6 L2311.0,2388.7 L2315.0,2388.7 L2319.0,2388.8 L2323.0,2388.8 L2327.0,2388.8 L2331.0,2388.8 L2335.0,2388.9 L2339.0,2388.9 L2343.0,2388.9 L2347.0,2388.9 L2351.0,2388.9 L2355.0,2388.9 L2359.0,2388.9 L2363.0,2389.0 L2367.0,2389.0 L2371.0,2389.0 L2375.0,2389.0 L2379.0,2389.0 L2383.0,2389.0 L2387.0,2389.0 L2391.0,2389.0 L2395.0,2389.0 L2399.0,2389.0 L2403.0,2389.0 L2407.0,2389.0 L2411.0,2389.0 L2415.0,2389.0 L2419.0,2389.0 L2423.0,2389.0 L2427.0,2389.0 L2431.0,2389.0 L2435.0,2389.0 L2439.0,2389.0 L2440.0,2389.0 L2444.0,2389.0" fill="none" stroke="#1081C8" stroke-width="8.5" stroke-linejoin="round" stroke-linecap="butt"/>
<path d="M1367.0,2369.1 L1371.0,2368.9 L1375.0,2368.7 L1379.0,2368.4 L1383.0,2368.0 L1387.0,2367.6 L1391.0,2367.2 L1395.0,2366.7 L1399.0,2366.1 L1403.0,2365.4 L1407.0,2364.6 L1411.0,2363.7 L1415.0,2362.7 L1419.0,2361.6 L1423.0,2360.3 L1427.0,2358.9 L1431.0,2357.3 L1435.0,2355.5 L1439.0,2353.5 L1443.0,2351.3 L1447.0,2348.9 L1451.0,2346.3 L1455.0,2343.4 L1459.0,2340.3 L1463.0,2336.9 L1467.0,2333.3 L1471.0,2329.3 L1475.0,2325.2 L1479.0,2320.7 L1483.0,2316.0 L1487.0,2311.1 L1491.0,2305.9 L1495.0,2300.5 L1499.0,2294.9 L1503.0,2289.2 L1507.0,2283.2 L1511.0,2277.2 L1515.0,2271.1 L1519.0,2265.0 L1523.0,2258.8 L1527.0,2252.7 L1531.0,2246.7 L1535.0,2240.9 L1539.0,2235.2 L1543.0,2229.8 L1547.0,2224.6 L1551.0,2219.8 L1555.0,2215.4 L1559.0,2211.5 L1563.0,2208.0 L1567.0,2205.0 L1571.0,2202.6 L1575.0,2200.8 L1579.0,2199.6 L1583.0,2199.0 L1587.0,2199.0 L1591.0,2199.7 L1595.0,2201.0 L1599.0,2202.9 L1603.0,2205.3 L1607.0,2208.4 L1611.0,2212.0 L1615.0,2216.1 L1619.0,2220.6 L1623.0,2225.5 L1627.0,2230.8 L1631.0,2236.4 L1635.0,2242.2 L1639.0,2248.3 L1643.0,2254.5 L1647.0,2260.8 L1651.0,2267.2 L1655.0,2273.6 L1659.0,2279.9 L1663.0,2286.2 L1667.0,2292.3 L1671.0,2298.4 L1675.0,2304.2 L1679.0,2309.9 L1683.0,2315.3 L1687.0,2320.5 L1691.0,2325.4 L1695.0,2330.1 L1699.0,2334.5 L1703.0,2338.6 L1707.0,2342.5 L1711.0,2346.1 L1715.0,2349.4 L1719.0,2352.5 L1723.0,2355.3 L1727.0,2357.9 L1731.0,2360.2 L1735.0,2362.3 L1739.0,2364.2 L1743.0,2365.9 L1747.0,2367.5 L1751.0,2368.9 L1755.0,2370.1 L1759.0,2371.2 L1763.0,2372.1 L1767.0,2373.0 L1771.0,2373.7 L1775.0,2374.3 L1779.0,2374.9 L1783.0,2375.4 L1787.0,2375.8 L1791.0,2376.2 L1795.0,2376.5 L1799.0,2376.8 L1803.0,2377.0 L1807.0,2377.2 L1811.0,2377.4 L1815.0,2377.5 L1819.0,2377.6 L1823.0,2377.8 L1827.0,2377.9 L1831.0,2377.9 L1835.0,2378.0 L1839.0,2378.1 L1843.0,2378.1 L1847.0,2378.2 L1851.0,2378.2 L1855.0,2378.2 L1859.0,2378.3 L1863.0,2378.3 L1867.0,2378.3 L1871.0,2378.3 L1875.0,2378.4 L1879.0,2378.4 L1883.0,2378.4 L1887.0,2378.4 L1891.0,2378.4 L1895.0,2378.4 L1899.0,2378.5" fill="none" stroke="#1081C8" stroke-width="8" stroke-linejoin="round" stroke-linecap="butt"/>
<path d="M1903.0,2377.8 L1907.0,2377.8 L1911.0,2377.8 L1915.0,2377.7 L1919.0,2377.7 L1923.0,2377.6 L1927.0,2377.6 L1931.0,2377.5 L1935.0,2377.5 L1939.0,2377.4 L1943.0,2377.4 L1947.0,2377.3 L1951.0,2377.2 L1955.0,2377.1 L1959.0,2377.0 L1963.0,2376.9 L1967.0,2376.7 L1971.0,2376.6 L1975.0,2376.4 L1979.0,2376.2 L1983.0,2375.9 L1987.0,2375.6 L1991.0,2375.3 L1995.0,2374.9 L1999.0,2374.4 L2003.0,2373.9 L2007.0,2373.3 L2011.0,2372.6 L2015.0,2371.8 L2019.0,2370.8 L2023.0,2369.7 L2027.0,2368.5 L2031.0,2367.1 L2035.0,2365.6 L2039.0,2363.8 L2043.0,2361.8 L2047.0,2359.6 L2051.0,2357.1 L2055.0,2354.3 L2059.0,2351.2 L2063.0,2347.8 L2067.0,2344.1 L2071.0,2340.0 L2075.0,2335.6 L2079.0,2330.8 L2083.0,2325.6 L2087.0,2320.1 L2091.0,2314.2 L2095.0,2307.9 L2099.0,2301.3 L2103.0,2294.3 L2107.0,2287.1 L2111.0,2279.5 L2115.0,2271.7 L2119.0,2263.7 L2123.0,2255.5 L2127.0,2247.2 L2131.0,2238.9 L2135.0,2230.6 L2139.0,2222.3 L2143.0,2214.2 L2147.0,2206.3 L2151.0,2198.7 L2155.0,2191.5 L2159.0,2184.7 L2163.0,2178.4 L2167.0,2172.8 L2171.0,2167.8 L2175.0,2163.5 L2179.0,2160.0 L2183.0,2157.3 L2187.0,2155.5 L2191.0,2154.6 L2195.0,2154.6 L2199.0,2155.5 L2203.0,2157.3 L2207.0,2160.0 L2211.0,2163.5 L2215.0,2167.8 L2219.0,2172.9 L2223.0,2178.6 L2227.0,2185.0 L2231.0,2191.9 L2235.0,2199.3 L2239.0,2207.1 L2243.0,2215.2 L2247.0,2223.5 L2251.0,2232.0 L2255.0,2240.6 L2259.0,2249.2 L2263.0,2257.8 L2267.0,2266.3 L2271.0,2274.6 L2275.0,2282.7 L2279.0,2290.6 L2283.0,2298.2 L2287.0,2305.5 L2291.0,2312.4 L2295.0,2319.0 L2299.0,2325.2 L2303.0,2331.1 L2307.0,2336.5 L2311.0,2341.6 L2315.0,2346.3 L2319.0,2350.6 L2323.0,2354.6 L2327.0,2358.2 L2331.0,2361.5 L2335.0,2364.4 L2339.0,2367.1 L2343.0,2369.5 L2347.0,2371.7 L2351.0,2373.6 L2355.0,2375.3 L2359.0,2376.8 L2363.0,2378.1 L2367.0,2379.2 L2371.0,2380.2 L2375.0,2381.1 L2379.0,2381.9 L2383.0,2382.6 L2387.0,2383.1 L2391.0,2383.6 L2395.0,2384.1 L2399.0,2384.4 L2403.0,2384.8 L2407.0,2385.0 L2411.0,2385.3 L2415.0,2385.5 L2419.0,2385.6 L2423.0,2385.8 L2427.0,2385.9 L2431.0,2386.0 L2435.0,2386.1 L2439.0,2386.2 L2440.0,2386.3 L2444.0,2386.3" fill="none" stroke="#1081C8" stroke-width="9" stroke-linejoin="round" stroke-linecap="butt"/>
<path d="M1367.0,2369.9 L1371.0,2369.9 L1375.0,2369.9 L1379.0,2369.9 L1383.0,2369.9 L1387.0,2369.9 L1391.0,2369.9 L1395.0,2369.9 L1399.0,2369.9 L1403.0,2369.9 L1407.0,2369.9 L1411.0,2369.9 L1415.0,2369.9 L1419.0,2369.9 L1423.0,2369.9 L1427.0,2369.9 L1431.0,2369.9 L1435.0,2369.9 L1439.0,2369.9 L1443.0,2370.0 L1447.0,2370.0 L1451.0,2370.0 L1455.0,2370.0 L1459.0,2370.0 L1463.0,2370.1 L1467.0,2370.1 L1471.0,2370.2 L1475.0,2370.2 L1479.0,2370.2 L1483.0,2370.3 L1487.0,2370.4 L1491.0,2370.4 L1495.0,2370.5 L1499.0,2370.6 L1503.0,2370.6 L1507.0,2370.7 L1511.0,2370.8 L1515.0,2370.9 L1519.0,2371.0 L1523.0,2371.2 L1527.0,2371.3 L1531.0,2371.4 L1535.0,2371.5 L1539.0,2371.7 L1543.0,2371.8 L1547.0,2372.0 L1551.0,2372.1 L1555.0,2372.3 L1559.0,2372.5 L1563.0,2372.6 L1567.0,2372.8 L1571.0,2373.0 L1575.0,2373.2 L1579.0,2373.4 L1583.0,2373.5 L1587.0,2373.7 L1591.0,2373.9 L1595.0,2374.1 L1599.0,2374.3 L1603.0,2374.4 L1607.0,2374.6 L1611.0,2374.8 L1615.0,2375.0 L1619.0,2375.1 L1623.0,2375.3 L1627.0,2375.5 L1631.0,2375.6 L1635.0,2375.7 L1639.0,2375.9 L1643.0,2376.0 L1647.0,2376.1 L1651.0,2376.3 L1655.0,2376.4 L1659.0,2376.5 L1663.0,2376.6 L1667.0,2376.7 L1671.0,2376.8 L1675.0,2376.8 L1679.0,2376.9 L1683.0,2377.0 L1687.0,2377.0 L1691.0,2377.1 L1695.0,2377.1 L1699.0,2377.2 L1703.0,2377.2 L1707.0,2377.3 L1711.0,2377.3 L1715.0,2377.3 L1719.0,2377.3 L1723.0,2377.4 L1727.0,2377.4 L1731.0,2377.4 L1735.0,2377.4 L1739.0,2377.4 L1743.0,2377.4 L1747.0,2377.4 L1751.0,2377.4 L1755.0,2377.4 L1759.0,2377.4 L1763.0,2377.4 L1767.0,2377.4 L1771.0,2377.4 L1775.0,2377.4 L1779.0,2377.4 L1783.0,2377.4 L1787.0,2377.4 L1791.0,2377.4 L1795.0,2377.4 L1799.0,2377.3 L1803.0,2377.3 L1807.0,2377.3 L1811.0,2377.3 L1815.0,2377.3 L1819.0,2377.3 L1823.0,2377.3 L1827.0,2377.2 L1831.0,2377.2 L1835.0,2377.2 L1839.0,2377.2 L1843.0,2377.2 L1847.0,2377.2 L1851.0,2377.1 L1855.0,2377.1 L1859.0,2377.1 L1863.0,2377.1 L1867.0,2377.1 L1871.0,2377.0 L1875.0,2377.0 L1879.0,2377.0 L1883.0,2377.0 L1887.0,2376.9 L1891.0,2376.9 L1895.0,2376.9 L1899.0,2376.9 L1903.0,2376.8 L1907.0,2376.8 L1911.0,2376.8 L1915.0,2376.7 L1919.0,2376.7 L1923.0,2376.6 L1927.0,2376.6 L1931.0,2376.5 L1935.0,2376.5 L1939.0,2376.4 L1943.0,2376.4 L1947.0,2376.3 L1951.0,2376.2 L1955.0,2376.1 L1959.0,2376.0 L1963.0,2375.9 L1967.0,2375.7 L1971.0,2375.6 L1975.0,2375.4 L1979.0,2375.2 L1983.0,2374.9 L1987.0,2374.6 L1991.0,2374.3 L1995.0,2373.9 L1999.0,2373.4 L2003.0,2372.9 L2007.0,2372.3 L2011.0,2371.6 L2015.0,2370.8 L2019.0,2369.8 L2023.0,2368.7 L2027.0,2367.5 L2031.0,2366.1 L2035.0,2364.6 L2039.0,2362.8 L2043.0,2360.8 L2047.0,2358.6 L2051.0,2356.1 L2055.0,2353.3 L2059.0,2350.2 L2063.0,2346.8 L2067.0,2343.1 L2071.0,2339.0 L2075.0,2334.6 L2079.0,2329.8 L2083.0,2324.6 L2087.0,2319.1 L2091.0,2313.2 L2095.0,2306.9 L2099.0,2300.3 L2103.0,2293.3 L2107.0,2286.1 L2111.0,2278.5 L2115.0,2270.7 L2119.0,2262.7 L2123.0,2254.5 L2127.0,2246.2 L2131.0,2237.9 L2135.0,2229.6 L2139.0,2221.3 L2143.0,2213.2 L2147.0,2205.3 L2151.0,2197.7 L2155.0,2190.5 L2159.0,2183.7 L2163.0,2177.4 L2167.0,2171.8 L2171.0,2166.8 L2175.0,2162.5 L2179.0,2159.0 L2183.0,2156.3 L2187.0,2154.5 L2191.0,2153.6 L2195.0,2153.6 L2199.0,2154.5 L2203.0,2156.3 L2207.0,2159.0 L2211.0,2162.5 L2215.0,2166.8 L2219.0,2171.9 L2223.0,2177.6 L2227.0,2184.0 L2231.0,2190.9 L2235.0,2198.3 L2239.0,2206.1 L2243.0,2214.2 L2247.0,2222.5 L2251.0,2231.0 L2255.0,2239.6 L2259.0,2248.2 L2263.0,2256.8 L2267.0,2265.3 L2271.0,2273.6 L2275.0,2281.7 L2279.0,2289.6 L2283.0,2297.2 L2287.0,2304.5 L2291.0,2311.4 L2295.0,2318.0 L2299.0,2324.2 L2303.0,2330.1 L2307.0,2335.5 L2311.0,2340.6 L2315.0,2345.3 L2319.0,2349.6 L2323.0,2353.6 L2327.0,2357.2 L2331.0,2360.5 L2335.0,2363.4 L2339.0,2366.1 L2343.0,2368.5 L2347.0,2370.7 L2351.0,2372.6 L2355.0,2374.3 L2359.0,2375.8 L2363.0,2377.1 L2367.0,2378.2 L2371.0,2379.2 L2375.0,2380.1 L2379.0,2380.9 L2383.0,2381.6 L2387.0,2382.1 L2391.0,2382.6 L2395.0,2383.1 L2399.0,2383.4 L2403.0,2383.8 L2407.0,2384.0 L2411.0,2384.3 L2415.0,2384.5 L2419.0,2384.6 L2423.0,2384.8 L2427.0,2384.9 L2431.0,2385.0 L2435.0,2385.1 L2439.0,2385.2 L2440.0,2385.3 L2444.0,2385.3" fill="none" stroke="#5F8F6C" stroke-width="7" stroke-linejoin="round" stroke-linecap="butt"/>
</g>
<rect x="1367.0" y="1562.0" width="1073.0" height="864.0" fill="none" stroke="#000" stroke-width="6.5"/>
<line x1="1390.0" y1="2426.0" x2="1390.0" y2="2444.0" stroke="#000" stroke-width="6"/>
<text x="1390.0" y="2487.8" font-family="Liberation Serif, Times New Roman, serif" font-weight="bold" font-size="39.5" text-anchor="middle" transform="matrix(1.03 0 0 1 -41.70 0)" fill="#000">166</text>
<line x1="1504.8" y1="2426.0" x2="1504.8" y2="2436.0" stroke="#000" stroke-width="6"/>
<line x1="1619.5" y1="2426.0" x2="1619.5" y2="2444.0" stroke="#000" stroke-width="6"/>
<text x="1619.5" y="2487.8" font-family="Liberation Serif, Times New Roman, serif" font-weight="bold" font-size="39.5" text-anchor="middle" transform="matrix(1.03 0 0 1 -48.59 0)" fill="#000">164</text>
<line x1="1734.2" y1="2426.0" x2="1734.2" y2="2436.0" stroke="#000" stroke-width="6"/>
<line x1="1849.0" y1="2426.0" x2="1849.0" y2="2444.0" stroke="#000" stroke-width="6"/>
<text x="1849.0" y="2487.8" font-family="Liberation Serif, Times New Roman, serif" font-weight="bold" font-size="39.5" text-anchor="middle" transform="matrix(1.03 0 0 1 -55.47 0)" fill="#000">162</text>
<line x1="1963.8" y1="2426.0" x2="1963.8" y2="2436.0" stroke="#000" stroke-width="6"/>
<line x1="2078.5" y1="2426.0" x2="2078.5" y2="2444.0" stroke="#000" stroke-width="6"/>
<text x="2078.5" y="2487.8" font-family="Liberation Serif, Times New Roman, serif" font-weight="bold" font-size="39.5" text-anchor="middle" transform="matrix(1.03 0 0 1 -62.36 0)" fill="#000">160</text>
<line x1="2193.2" y1="2426.0" x2="2193.2" y2="2436.0" stroke="#000" stroke-width="6"/>
<line x1="2308.0" y1="2426.0" x2="2308.0" y2="2444.0" stroke="#000" stroke-width="6"/>
<text x="2308.0" y="2487.8" font-family="Liberation Serif, Times New Roman, serif" font-weight="bold" font-size="39.5" text-anchor="middle" transform="matrix(1.03 0 0 1 -69.24 0)" fill="#000">158</text>
<line x1="2422.8" y1="2426.0" x2="2422.8" y2="2436.0" stroke="#000" stroke-width="6"/>
<text x="1904.7" y="2562.8" font-family="Liberation Serif, Times New Roman, serif" font-weight="bold" font-size="48" text-anchor="middle" transform="matrix(1.025 0 0 1 -47.62 0)" fill="#000">Binding Energy (eV)</text>
<text x="1328.0" y="1995.0" font-family="Liberation Serif, Times New Roman, serif" font-weight="bold" font-size="48.5" text-anchor="middle" transform="rotate(-90 1328.0 1995.0)" fill="#000">Intensity (a.u.)</text>
<text x="1380.5" y="1627.5" font-family="Liberation Serif, Times New Roman, serif" font-weight="bold" font-size="47.5" transform="matrix(1.03 0 0 1 -41.42 0)" fill="#000">BiVO</text>
<text x="1497.7" y="1640.0" font-family="Liberation Serif, Times New Roman, serif" font-weight="bold" font-size="32" transform="matrix(1.03 0 0 1 -44.93 0)" fill="#000">4</text>
<rect x="1854.5" y="1597.9" width="46.2" height="24.0" fill="#1081C8"/>
<rect x="1854.5" y="1633.4" width="46.2" height="23.6" fill="#5F8F6C"/>
<text x="1912.5" y="1642.5" font-family="Liberation Serif, Times New Roman, serif" font-weight="bold" font-size="44" transform="matrix(1.03 0 0 1 -57.38 0)" fill="#000">Bi</text>
<text x="1954.2" y="1624.0" font-family="Liberation Serif, Times New Roman, serif" font-weight="bold" font-size="32" transform="matrix(1.03 0 0 1 -58.63 0)" fill="#000">3+</text>
<text x="2319.6" y="1622.4" font-family="Liberation Serif, Times New Roman, serif" font-weight="bold" font-size="51" transform="matrix(1.03 0 0 1 -69.59 0)" fill="#000">Bi 4f</text>
<text x="1576.5" y="1770.4" font-family="Liberation Serif, Times New Roman, serif" font-weight="bold" font-size="43" transform="matrix(1.03 0 0 1 -47.30 0)" fill="#000">Bi 4f</text>
<text x="1666.8" y="1787.0" font-family="Liberation Serif, Times New Roman, serif" font-weight="bold" font-size="42" transform="matrix(1.03 0 0 1 -50.00 0)" fill="#000">5/2</text>
<text x="1647.7" y="1836.7" font-family="Liberation Serif, Times New Roman, serif" font-weight="bold" font-size="42.8" transform="matrix(1.03 0 0 1 -49.43 0)" fill="#000">164.2 eV</text>
<text x="2154.7" y="1724.5" font-family="Liberation Serif, Times New Roman, serif" font-weight="bold" font-size="43" transform="matrix(1.03 0 0 1 -64.64 0)" fill="#000">Bi 4f</text>
<text x="2244.2" y="1740.8" font-family="Liberation Serif, Times New Roman, serif" font-weight="bold" font-size="42" transform="matrix(1.03 0 0 1 -67.33 0)" fill="#000">7/2</text>
<text x="2258.2" y="1796.0" font-family="Liberation Serif, Times New Roman, serif" font-weight="bold" font-size="42.8" transform="matrix(1.03 0 0 1 -67.75 0)" fill="#000">158.9 eV</text>
<text x="1383.1" y="2119.0" font-family="Liberation Serif, Times New Roman, serif" font-weight="bold" font-size="51" transform="matrix(1.03 0 0 1 -41.49 0)" fill="#000">MB5</text>
<text x="1544.7" y="2167.0" font-family="Liberation Serif, Times New Roman, serif" font-weight="bold" font-size="43" transform="matrix(1.03 0 0 1 -46.34 0)" fill="#000">Bi 4f</text>
<text x="1634.2" y="2183.7" font-family="Liberation Serif, Times New Roman, serif" font-weight="bold" font-size="42" transform="matrix(1.03 0 0 1 -49.03 0)" fill="#000">5/2</text>
<text x="1641.7" y="2234.7" font-family="Liberation Serif, Times New Roman, serif" font-weight="bold" font-size="43.5" transform="matrix(1.03 0 0 1 -49.25 0)" fill="#000">164.3 eV</text>
<text x="2146.7" y="2122.4" font-family="Liberation Serif, Times New Roman, serif" font-weight="bold" font-size="43" transform="matrix(1.03 0 0 1 -64.40 0)" fill="#000">Bi 4f</text>
<text x="2235.7" y="2137.8" font-family="Liberation Serif, Times New Roman, serif" font-weight="bold" font-size="42" transform="matrix(1.03 0 0 1 -67.07 0)" fill="#000">7/2</text>
<text x="2243.7" y="2186.7" font-family="Liberation Serif, Times New Roman, serif" font-weight="bold" font-size="42.5" transform="matrix(1.03 0 0 1 -67.31 0)" fill="#000">159 eV</text>
<text x="1251.0" y="1631.0" font-family="Noto Sans CJK SC, Liberation Sans, sans-serif" font-weight="500" font-size="68" fill="#000">c</text>
</g>
<g id="panel-d">
<clipPath id="clipD"><rect x="142.3" y="2629" width="1077.2" height="867.5999999999999"/></clipPath>
<g clip-path="url(#clipD)">
<path d="M142.3,2979.7 L146.3,2980.0 L150.3,2980.3 L154.3,2980.6 L158.3,2980.8 L162.3,2981.1 L166.3,2980.7 L170.3,2980.2 L174.3,2979.8 L178.3,2979.3 L182.3,2978.8 L186.3,2978.7 L190.3,2978.5 L194.3,2978.4 L198.3,2978.2 L202.3,2978.0 L206.3,2977.2 L210.3,2976.3 L214.3,2975.5 L218.3,2974.6 L222.3,2973.8 L226.3,2974.3 L230.3,2974.8 L234.3,2975.3 L238.3,2975.8 L242.3,2976.3 L246.3,2978.1 L250.3,2979.9 L254.3,2981.7 L258.3,2983.5 L262.3,2985.2 L266.3,2982.7 L270.3,2980.2 L274.3,2977.6 L278.3,2975.1 L282.3,2972.5 L286.3,2973.4 L290.3,2974.2 L294.3,2975.0 L298.3,2975.8 L302.3,2976.6 L306.3,2976.6 L310.3,2976.7 L314.3,2976.7 L318.3,2976.7 L322.3,2976.7 L326.3,2977.0 L330.3,2977.3 L334.3,2977.5 L338.3,2977.7 L342.3,2978.0 L346.3,2975.7 L350.3,2973.4 L354.3,2971.1 L358.3,2968.8 L362.3,2966.5 L366.3,2966.1 L370.3,2965.7 L374.3,2965.2 L378.3,2964.8 L382.3,2964.3 L386.3,2963.6 L390.3,2962.9 L394.3,2962.2 L398.3,2961.5 L402.3,2960.7 L406.3,2960.4 L410.3,2960.1 L414.3,2959.8 L418.3,2959.5 L422.3,2959.2 L426.3,2958.6 L430.3,2957.9 L434.3,2957.3 L438.3,2956.6 L442.3,2956.0 L446.3,2956.6 L450.3,2957.3 L454.3,2957.9 L458.3,2958.6 L462.3,2959.2 L466.3,2958.1 L470.3,2957.1 L474.3,2956.0 L478.3,2955.0 L482.3,2953.9 L486.3,2953.2 L490.3,2952.6 L494.3,2951.9 L498.3,2951.2 L502.3,2950.6 L506.3,2947.5 L510.3,2944.4 L514.3,2941.3 L518.3,2938.2 L522.3,2935.1 L526.3,2934.4 L530.3,2933.7 L534.3,2932.9 L538.3,2932.2 L542.3,2931.4 L546.3,2932.4 L550.3,2933.4 L554.3,2934.3 L558.3,2935.1 L562.3,2935.9 L566.3,2935.2 L570.3,2934.4 L574.3,2933.4 L578.3,2932.3 L582.3,2931.1 L586.3,2928.0 L590.3,2924.7 L594.3,2921.2 L598.3,2917.5 L602.3,2913.6 L606.3,2910.9 L610.3,2908.0 L614.3,2904.8 L618.3,2901.4 L622.3,2897.6 L626.3,2891.6 L630.3,2885.3 L634.3,2878.7 L638.3,2871.8 L642.3,2864.6 L646.3,2859.9 L650.3,2854.8 L654.3,2849.5 L658.3,2843.9 L662.3,2838.0 L666.3,2832.3 L670.3,2826.4 L674.3,2820.4 L678.3,2814.2 L682.3,2807.8 L686.3,2799.7 L690.3,2791.4 L694.3,2783.2 L698.3,2775.0 L702.3,2767.0 L706.3,2759.4 L710.3,2752.0 L714.3,2744.8 L718.3,2738.0 L722.3,2731.4 L726.3,2725.5 L730.3,2720.0 L734.3,2715.0 L738.3,2710.5 L742.3,2706.6 L746.3,2700.8 L750.3,2695.7 L754.3,2691.3 L758.3,2687.5 L762.3,2684.4 L766.3,2683.7 L770.3,2683.6 L774.3,2684.2 L778.3,2685.3 L782.3,2686.9 L786.3,2689.4 L790.3,2692.4 L794.3,2695.9 L798.3,2699.8 L802.3,2704.1 L806.3,2709.8 L810.3,2715.8 L814.3,2722.2 L818.3,2728.9 L822.3,2736.0 L826.3,2742.8 L830.3,2749.8 L834.3,2757.1 L838.3,2764.6 L842.3,2772.3 L846.3,2780.4 L850.3,2788.7 L854.3,2797.1 L858.3,2805.5 L862.3,2814.0 L866.3,2821.2 L870.3,2828.4 L874.3,2835.5 L878.3,2842.6 L882.3,2849.7 L886.3,2857.0 L890.3,2864.3 L894.3,2871.4 L898.3,2878.4 L902.3,2885.2 L906.3,2892.3 L910.3,2899.3 L914.3,2906.1 L918.3,2912.7 L922.3,2919.1 L926.3,2924.0 L930.3,2928.7 L934.3,2933.2 L938.3,2937.5 L942.3,2941.5 L946.3,2946.4 L950.3,2951.1 L954.3,2955.6 L958.3,2959.9 L962.3,2963.9 L966.3,2966.0 L970.3,2967.9 L974.3,2969.6 L978.3,2971.1 L982.3,2972.4 L986.3,2977.0 L990.3,2981.5 L994.3,2985.8 L998.3,2989.9 L1002.3,2993.9 L1006.3,2994.1 L1010.3,2994.2 L1014.3,2994.2 L1018.3,2994.0 L1022.3,2993.7 L1026.3,2996.8 L1030.3,2999.8 L1034.3,3002.6 L1038.3,3005.4 L1042.3,3008.2 L1046.3,3008.1 L1050.3,3008.0 L1054.3,3007.8 L1058.3,3007.6 L1062.3,3007.3 L1066.3,3006.8 L1070.3,3006.2 L1074.3,3005.6 L1078.3,3005.0 L1082.3,3004.3 L1086.3,3004.0 L1090.3,3003.8 L1094.3,3003.5 L1098.3,3003.1 L1102.3,3002.8 L1106.3,3003.3 L1110.3,3003.8 L1114.3,3004.2 L1118.3,3004.7 L1122.3,3005.1 L1126.3,3006.2 L1130.3,3007.4 L1134.3,3008.5 L1138.3,3009.6 L1142.3,3010.8 L1146.3,3011.0 L1150.3,3011.2 L1154.3,3011.4 L1158.3,3011.6 L1162.3,3011.8 L1166.3,3010.2 L1170.3,3008.6 L1174.3,3006.9 L1178.3,3005.3 L1182.3,3003.7 L1186.3,3003.6 L1190.3,3003.5 L1194.3,3003.4 L1198.3,3003.2 L1202.3,3003.1 L1206.3,3004.4 L1210.3,3005.7 L1214.3,3007.0 L1218.3,3008.3 L1219.5,3008.6" fill="none" stroke="#CFCFCF" stroke-width="8.5" stroke-linejoin="round" stroke-linecap="butt"/>
<path d="M142.3,2979.4 L146.3,2979.4 L150.3,2979.4 L154.3,2979.3 L158.3,2979.3 L162.3,2979.3 L166.3,2979.2 L170.3,2979.2 L174.3,2979.2 L178.3,2979.1 L182.3,2979.1 L186.3,2979.0 L190.3,2979.0 L194.3,2978.9 L198.3,2978.9 L202.3,2978.8 L206.3,2978.7 L210.3,2978.7 L214.3,2978.6 L218.3,2978.5 L222.3,2978.4 L226.3,2978.3 L230.3,2978.2 L234.3,2978.1 L238.3,2978.0 L242.3,2977.9 L246.3,2977.8 L250.3,2977.6 L254.3,2977.5 L258.3,2977.4 L262.3,2977.2 L266.3,2977.0 L270.3,2976.9 L274.3,2976.7 L278.3,2976.5 L282.3,2976.3 L286.3,2976.0 L290.3,2975.8 L294.3,2975.5 L298.3,2975.3 L302.3,2975.0 L306.3,2974.7 L310.3,2974.4 L314.3,2974.1 L318.3,2973.8 L322.3,2973.4 L326.3,2973.0 L330.3,2972.6 L334.3,2972.2 L338.3,2971.8 L342.3,2971.4 L346.3,2970.9 L350.3,2970.5 L354.3,2970.0 L358.3,2969.5 L362.3,2968.9 L366.3,2968.4 L370.3,2967.8 L374.3,2967.2 L378.3,2966.6 L382.3,2966.0 L386.3,2965.4 L390.3,2964.8 L394.3,2964.1 L398.3,2963.4 L402.3,2962.7 L406.3,2962.0 L410.3,2961.3 L414.3,2960.6 L418.3,2959.8 L422.3,2959.1 L426.3,2958.3 L430.3,2957.6 L434.3,2956.8 L438.3,2956.0 L442.3,2955.3 L446.3,2954.5 L450.3,2953.7 L454.3,2952.9 L458.3,2952.1 L462.3,2951.4 L466.3,2950.6 L470.3,2949.8 L474.3,2949.0 L478.3,2948.3 L482.3,2947.5 L486.3,2946.8 L490.3,2946.0 L494.3,2945.3 L498.3,2944.6 L502.3,2943.9 L506.3,2943.1 L510.3,2942.4 L514.3,2941.7 L518.3,2941.0 L522.3,2940.3 L526.3,2939.6 L530.3,2938.8 L534.3,2938.1 L538.3,2937.3 L542.3,2936.4 L546.3,2935.6 L550.3,2934.6 L554.3,2933.7 L558.3,2932.6 L562.3,2931.5 L566.3,2930.2 L570.3,2928.9 L574.3,2927.4 L578.3,2925.8 L582.3,2924.1 L586.3,2922.1 L590.3,2920.0 L594.3,2917.7 L598.3,2915.2 L602.3,2912.5 L606.3,2909.5 L610.3,2906.3 L614.3,2902.8 L618.3,2899.0 L622.3,2894.9 L626.3,2890.6 L630.3,2885.9 L634.3,2881.0 L638.3,2875.7 L642.3,2870.1 L646.3,2864.3 L650.3,2858.1 L654.3,2851.7 L658.3,2845.0 L662.3,2838.0 L666.3,2830.8 L670.3,2823.5 L674.3,2815.9 L678.3,2808.2 L682.3,2800.4 L686.3,2792.5 L690.3,2784.5 L694.3,2776.6 L698.3,2768.7 L702.3,2760.9 L706.3,2753.2 L710.3,2745.8 L714.3,2738.5 L718.3,2731.6 L722.3,2724.9 L726.3,2718.7 L730.3,2712.9 L734.3,2707.6 L738.3,2702.7 L742.3,2698.4 L746.3,2694.8 L750.3,2691.7 L754.3,2689.3 L758.3,2687.5 L762.3,2686.5 L766.3,2686.1 L770.3,2686.4 L774.3,2687.4 L778.3,2688.9 L782.3,2690.9 L786.3,2693.3 L790.3,2696.2 L794.3,2699.5 L798.3,2703.3 L802.3,2707.5 L806.3,2712.1 L810.3,2717.1 L814.3,2722.4 L818.3,2728.1 L822.3,2734.2 L826.3,2740.5 L830.3,2747.1 L834.3,2753.9 L838.3,2761.0 L842.3,2768.2 L846.3,2775.6 L850.3,2783.2 L854.3,2790.8 L858.3,2798.5 L862.3,2806.3 L866.3,2814.1 L870.3,2821.9 L874.3,2829.7 L878.3,2837.4 L882.3,2845.1 L886.3,2852.6 L890.3,2860.1 L894.3,2867.4 L898.3,2874.6 L902.3,2881.6 L906.3,2888.5 L910.3,2895.1 L914.3,2901.6 L918.3,2907.8 L922.3,2913.8 L926.3,2919.7 L930.3,2925.2 L934.3,2930.6 L938.3,2935.7 L942.3,2940.6 L946.3,2945.3 L950.3,2949.7 L954.3,2953.9 L958.3,2957.9 L962.3,2961.7 L966.3,2965.2 L970.3,2968.5 L974.3,2971.7 L978.3,2974.6 L982.3,2977.3 L986.3,2979.9 L990.3,2982.3 L994.3,2984.5 L998.3,2986.5 L1002.3,2988.4 L1006.3,2990.2 L1010.3,2991.8 L1014.3,2993.3 L1018.3,2994.7 L1022.3,2996.0 L1026.3,2997.1 L1030.3,2998.2 L1034.3,2999.1 L1038.3,3000.0 L1042.3,3000.8 L1046.3,3001.5 L1050.3,3002.2 L1054.3,3002.7 L1058.3,3003.3 L1062.3,3003.8 L1066.3,3004.2 L1070.3,3004.6 L1074.3,3004.9 L1078.3,3005.2 L1082.3,3005.5 L1086.3,3005.8 L1090.3,3006.0 L1094.3,3006.2 L1098.3,3006.4 L1102.3,3006.5 L1106.3,3006.7 L1110.3,3006.8 L1114.3,3006.9 L1118.3,3007.0 L1122.3,3007.1 L1126.3,3007.1 L1130.3,3007.2 L1134.3,3007.3 L1138.3,3007.3 L1142.3,3007.4 L1146.3,3007.4 L1150.3,3007.4 L1154.3,3007.5 L1158.3,3007.5 L1162.3,3007.5 L1166.3,3007.5 L1170.3,3007.6 L1174.3,3007.6 L1178.3,3007.6 L1182.3,3007.6 L1186.3,3007.6 L1190.3,3007.6 L1194.3,3007.6 L1198.3,3007.6 L1202.3,3007.7 L1206.3,3007.7 L1210.3,3007.7 L1214.3,3007.7 L1218.3,3007.7 L1219.5,3007.7" fill="none" stroke="#1C96E8" stroke-width="7.5" stroke-linejoin="round" stroke-linecap="butt"/>
<path d="M142.3,2982.0 L146.3,2982.0 L150.3,2982.0 L154.3,2982.0 L158.3,2982.0 L162.3,2982.0 L166.3,2982.0 L170.3,2982.0 L174.3,2982.0 L178.3,2982.0 L182.3,2982.0 L186.3,2982.0 L190.3,2982.0 L194.3,2982.0 L198.3,2982.0 L202.3,2982.0 L206.3,2982.0 L210.3,2982.0 L214.3,2982.0 L218.3,2982.0 L222.3,2982.0 L226.3,2982.0 L230.3,2982.0 L234.3,2982.0 L238.3,2982.0 L242.3,2982.0 L246.3,2982.0 L250.3,2982.0 L254.3,2982.0 L258.3,2982.0 L262.3,2982.0 L266.3,2982.0 L270.3,2982.0 L274.3,2982.0 L278.3,2982.0 L282.3,2982.0 L286.3,2982.0 L290.3,2982.0 L294.3,2982.0 L298.3,2982.0 L302.3,2982.0 L306.3,2982.0 L310.3,2982.0 L314.3,2982.0 L318.3,2982.0 L322.3,2982.0 L326.3,2982.0 L330.3,2982.0 L334.3,2982.0 L338.3,2982.0 L342.3,2982.0 L346.3,2982.0 L350.3,2982.0 L354.3,2982.0 L358.3,2982.0 L362.3,2982.0 L366.3,2982.0 L370.3,2982.0 L374.3,2982.0 L378.3,2982.0 L382.3,2982.0 L386.3,2982.0 L390.3,2982.0 L394.3,2982.0 L398.3,2982.0 L402.3,2982.0 L406.3,2982.0 L410.3,2982.0 L414.3,2982.0 L418.3,2982.0 L422.3,2982.0 L426.3,2982.0 L430.3,2982.0 L434.3,2982.0 L438.3,2982.0 L442.3,2982.0 L446.3,2982.0 L450.3,2982.0 L454.3,2982.0 L458.3,2982.0 L462.3,2982.0 L466.3,2982.0 L470.3,2982.1 L474.3,2982.1 L478.3,2982.1 L482.3,2982.1 L486.3,2982.1 L490.3,2982.1 L494.3,2982.1 L498.3,2982.1 L502.3,2982.1 L506.3,2982.2 L510.3,2982.2 L514.3,2982.2 L518.3,2982.2 L522.3,2982.2 L526.3,2982.3 L530.3,2982.3 L534.3,2982.3 L538.3,2982.4 L542.3,2982.4 L546.3,2982.4 L550.3,2982.5 L554.3,2982.5 L558.3,2982.6 L562.3,2982.7 L566.3,2982.7 L570.3,2982.8 L574.3,2982.9 L578.3,2983.0 L582.3,2983.0 L586.3,2983.1 L590.3,2983.2 L594.3,2983.3 L598.3,2983.5 L602.3,2983.6 L606.3,2983.7 L610.3,2983.9 L614.3,2984.0 L618.3,2984.2 L622.3,2984.3 L626.3,2984.5 L630.3,2984.7 L634.3,2984.9 L638.3,2985.1 L642.3,2985.3 L646.3,2985.5 L650.3,2985.8 L654.3,2986.0 L658.3,2986.3 L662.3,2986.5 L666.3,2986.8 L670.3,2987.1 L674.3,2987.4 L678.3,2987.7 L682.3,2988.0 L686.3,2988.4 L690.3,2988.7 L694.3,2989.1 L698.3,2989.4 L702.3,2989.8 L706.3,2990.2 L710.3,2990.5 L714.3,2990.9 L718.3,2991.3 L722.3,2991.7 L726.3,2992.2 L730.3,2992.6 L734.3,2993.0 L738.3,2993.4 L742.3,2993.9 L746.3,2994.3 L750.3,2994.7 L754.3,2995.2 L758.3,2995.6 L762.3,2996.1 L766.3,2996.5 L770.3,2996.9 L774.3,2997.4 L778.3,2997.8 L782.3,2998.2 L786.3,2998.7 L790.3,2999.1 L794.3,2999.5 L798.3,2999.9 L802.3,3000.3 L806.3,3000.7 L810.3,3001.1 L814.3,3001.5 L818.3,3001.9 L822.3,3002.2 L826.3,3002.6 L830.3,3002.9 L834.3,3003.3 L838.3,3003.6 L842.3,3003.9 L846.3,3004.2 L850.3,3004.5 L854.3,3004.8 L858.3,3005.1 L862.3,3005.4 L866.3,3005.6 L870.3,3005.9 L874.3,3006.1 L878.3,3006.3 L882.3,3006.5 L886.3,3006.7 L890.3,3006.9 L894.3,3007.1 L898.3,3007.3 L902.3,3007.5 L906.3,3007.6 L910.3,3007.8 L914.3,3007.9 L918.3,3008.0 L922.3,3008.2 L926.3,3008.3 L930.3,3008.4 L934.3,3008.5 L938.3,3008.6 L942.3,3008.7 L946.3,3008.7 L950.3,3008.8 L954.3,3008.9 L958.3,3008.9 L962.3,3009.0 L966.3,3009.1 L970.3,3009.1 L974.3,3009.2 L978.3,3009.2 L982.3,3009.2 L986.3,3009.3 L990.3,3009.3 L994.3,3009.3 L998.3,3009.4 L1002.3,3009.4 L1006.3,3009.4 L1010.3,3009.4 L1014.3,3009.4 L1018.3,3009.5 L1022.3,3009.5 L1026.3,3009.5 L1030.3,3009.5 L1034.3,3009.5 L1038.3,3009.5 L1042.3,3009.5 L1046.3,3009.5 L1050.3,3009.5 L1054.3,3009.6 L1058.3,3009.6 L1062.3,3009.6 L1066.3,3009.6 L1070.3,3009.6 L1074.3,3009.6 L1078.3,3009.6 L1082.3,3009.6 L1086.3,3009.6 L1090.3,3009.6 L1094.3,3009.6 L1098.3,3009.6 L1102.3,3009.6 L1106.3,3009.6 L1110.3,3009.6 L1114.3,3009.6 L1118.3,3009.6 L1122.3,3009.6 L1126.3,3009.6 L1130.3,3009.6 L1134.3,3009.6 L1138.3,3009.6 L1142.3,3009.6 L1146.3,3009.6 L1150.3,3009.6 L1154.3,3009.6 L1158.3,3009.6 L1162.3,3009.6 L1166.3,3009.6 L1170.3,3009.6 L1174.3,3009.6 L1178.3,3009.6 L1182.3,3009.6 L1186.3,3009.6 L1190.3,3009.6 L1194.3,3009.6 L1198.3,3009.6 L1202.3,3009.6 L1206.3,3009.6 L1210.3,3009.6 L1214.3,3009.6 L1218.3,3009.6 L1219.5,3009.6" fill="none" stroke="#3F7C93" stroke-width="7" stroke-linejoin="round" stroke-linecap="butt"/>
<path d="M142.3,2982.0 L146.3,2982.0 L150.3,2982.0 L154.3,2982.0 L158.3,2982.0 L162.3,2982.0 L166.3,2982.0 L170.3,2982.0 L174.3,2982.0 L178.3,2982.0 L182.3,2982.0 L186.3,2982.0 L190.3,2982.0 L194.3,2982.0 L198.3,2982.0 L202.3,2982.0 L206.3,2982.0 L210.3,2982.0 L214.3,2982.0 L218.3,2982.0 L222.3,2982.0 L226.3,2982.0 L230.3,2982.0 L234.3,2982.0 L238.3,2982.0 L242.3,2982.0 L246.3,2982.0 L250.3,2982.0 L254.3,2982.0 L258.3,2982.0 L262.3,2982.0 L266.3,2982.0 L270.3,2982.0 L274.3,2982.0 L278.3,2982.0 L282.3,2982.0 L286.3,2982.0 L290.3,2982.0 L294.3,2982.0 L298.3,2982.0 L302.3,2982.0 L306.3,2982.0 L310.3,2982.0 L314.3,2982.0 L318.3,2982.0 L322.3,2982.0 L326.3,2982.0 L330.3,2982.0 L334.3,2982.0 L338.3,2982.0 L342.3,2982.0 L346.3,2982.0 L350.3,2982.0 L354.3,2982.0 L358.3,2982.0 L362.3,2982.0 L366.3,2982.0 L370.3,2982.0 L374.3,2982.0 L378.3,2982.0 L382.3,2982.0 L386.3,2982.0 L390.3,2982.0 L394.3,2982.0 L398.3,2982.0 L402.3,2982.0 L406.3,2982.0 L410.3,2982.0 L414.3,2982.0 L418.3,2982.0 L422.3,2982.0 L426.3,2982.0 L430.3,2982.0 L434.3,2982.0 L438.3,2982.0 L442.3,2981.9 L446.3,2981.9 L450.3,2981.9 L454.3,2981.9 L458.3,2981.9 L462.3,2981.8 L466.3,2981.8 L470.3,2981.7 L474.3,2981.7 L478.3,2981.6 L482.3,2981.6 L486.3,2981.5 L490.3,2981.4 L494.3,2981.2 L498.3,2981.1 L502.3,2980.9 L506.3,2980.7 L510.3,2980.5 L514.3,2980.2 L518.3,2979.9 L522.3,2979.5 L526.3,2979.1 L530.3,2978.7 L534.3,2978.1 L538.3,2977.5 L542.3,2976.8 L546.3,2976.0 L550.3,2975.1 L554.3,2974.1 L558.3,2973.0 L562.3,2971.8 L566.3,2970.4 L570.3,2968.8 L574.3,2967.1 L578.3,2965.2 L582.3,2963.1 L586.3,2960.8 L590.3,2958.2 L594.3,2955.5 L598.3,2952.5 L602.3,2949.2 L606.3,2945.6 L610.3,2941.8 L614.3,2937.7 L618.3,2933.2 L622.3,2928.5 L626.3,2923.5 L630.3,2918.1 L634.3,2912.4 L638.3,2906.4 L642.3,2900.1 L646.3,2893.5 L650.3,2886.6 L654.3,2879.4 L658.3,2871.9 L662.3,2864.2 L666.3,2856.3 L670.3,2848.1 L674.3,2839.8 L678.3,2831.3 L682.3,2822.8 L686.3,2814.1 L690.3,2805.5 L694.3,2796.8 L698.3,2788.2 L702.3,2779.7 L706.3,2771.4 L710.3,2763.2 L714.3,2755.3 L718.3,2747.8 L722.3,2740.5 L726.3,2733.7 L730.3,2727.3 L734.3,2721.4 L738.3,2716.0 L742.3,2711.2 L746.3,2707.0 L750.3,2703.4 L754.3,2700.5 L758.3,2698.3 L762.3,2696.8 L766.3,2696.0 L770.3,2695.9 L774.3,2696.5 L778.3,2697.6 L782.3,2699.2 L786.3,2701.3 L790.3,2703.9 L794.3,2706.9 L798.3,2710.4 L802.3,2714.3 L806.3,2718.6 L810.3,2723.4 L814.3,2728.5 L818.3,2734.0 L822.3,2739.8 L826.3,2745.9 L830.3,2752.3 L834.3,2759.0 L838.3,2765.8 L842.3,2772.9 L846.3,2780.2 L850.3,2787.6 L854.3,2795.1 L858.3,2802.7 L862.3,2810.3 L866.3,2818.0 L870.3,2825.7 L874.3,2833.4 L878.3,2841.0 L882.3,2848.6 L886.3,2856.1 L890.3,2863.5 L894.3,2870.7 L898.3,2877.8 L902.3,2884.8 L906.3,2891.6 L910.3,2898.2 L914.3,2904.6 L918.3,2910.8 L922.3,2916.7 L926.3,2922.5 L930.3,2928.1 L934.3,2933.4 L938.3,2938.5 L942.3,2943.3 L946.3,2948.0 L950.3,2952.4 L954.3,2956.5 L958.3,2960.5 L962.3,2964.2 L966.3,2967.7 L970.3,2971.0 L974.3,2974.2 L978.3,2977.1 L982.3,2979.8 L986.3,2982.3 L990.3,2984.7 L994.3,2986.9 L998.3,2988.9 L1002.3,2990.8 L1006.3,2992.6 L1010.3,2994.2 L1014.3,2995.6 L1018.3,2997.0 L1022.3,2998.2 L1026.3,2999.4 L1030.3,3000.4 L1034.3,3001.4 L1038.3,3002.2 L1042.3,3003.0 L1046.3,3003.7 L1050.3,3004.4 L1054.3,3004.9 L1058.3,3005.5 L1062.3,3005.9 L1066.3,3006.4 L1070.3,3006.7 L1074.3,3007.1 L1078.3,3007.4 L1082.3,3007.6 L1086.3,3007.9 L1090.3,3008.1 L1094.3,3008.3 L1098.3,3008.5 L1102.3,3008.6 L1106.3,3008.7 L1110.3,3008.8 L1114.3,3008.9 L1118.3,3009.0 L1122.3,3009.1 L1126.3,3009.2 L1130.3,3009.2 L1134.3,3009.3 L1138.3,3009.3 L1142.3,3009.4 L1146.3,3009.4 L1150.3,3009.4 L1154.3,3009.5 L1158.3,3009.5 L1162.3,3009.5 L1166.3,3009.5 L1170.3,3009.5 L1174.3,3009.5 L1178.3,3009.5 L1182.3,3009.6 L1186.3,3009.6 L1190.3,3009.6 L1194.3,3009.6 L1198.3,3009.6 L1202.3,3009.6 L1206.3,3009.6 L1210.3,3009.6 L1214.3,3009.6 L1218.3,3009.6 L1219.5,3009.6" fill="none" stroke="#9488BB" stroke-width="7.5" stroke-linejoin="round" stroke-linecap="butt"/>
<path d="M142.3,2980.9 L146.3,2980.9 L150.3,2980.9 L154.3,2980.8 L158.3,2980.8 L162.3,2980.8 L166.3,2980.7 L170.3,2980.7 L174.3,2980.7 L178.3,2980.6 L182.3,2980.6 L186.3,2980.5 L190.3,2980.5 L194.3,2980.4 L198.3,2980.4 L202.3,2980.3 L206.3,2980.2 L210.3,2980.2 L214.3,2980.1 L218.3,2980.0 L222.3,2979.9 L226.3,2979.8 L230.3,2979.7 L234.3,2979.6 L238.3,2979.5 L242.3,2979.4 L246.3,2979.3 L250.3,2979.1 L254.3,2979.0 L258.3,2978.9 L262.3,2978.7 L266.3,2978.5 L270.3,2978.4 L274.3,2978.2 L278.3,2978.0 L282.3,2977.8 L286.3,2977.5 L290.3,2977.3 L294.3,2977.0 L298.3,2976.8 L302.3,2976.5 L306.3,2976.2 L310.3,2975.9 L314.3,2975.6 L318.3,2975.3 L322.3,2974.9 L326.3,2974.5 L330.3,2974.1 L334.3,2973.7 L338.3,2973.3 L342.3,2972.9 L346.3,2972.4 L350.3,2972.0 L354.3,2971.5 L358.3,2971.0 L362.3,2970.4 L366.3,2969.9 L370.3,2969.3 L374.3,2968.7 L378.3,2968.1 L382.3,2967.5 L386.3,2966.9 L390.3,2966.3 L394.3,2965.6 L398.3,2964.9 L402.3,2964.2 L406.3,2963.5 L410.3,2962.8 L414.3,2962.1 L418.3,2961.4 L422.3,2960.6 L426.3,2959.9 L430.3,2959.1 L434.3,2958.4 L438.3,2957.6 L442.3,2956.8 L446.3,2956.1 L450.3,2955.3 L454.3,2954.6 L458.3,2953.8 L462.3,2953.1 L466.3,2952.3 L470.3,2951.6 L474.3,2950.9 L478.3,2950.2 L482.3,2949.6 L486.3,2948.9 L490.3,2948.3 L494.3,2947.7 L498.3,2947.1 L502.3,2946.6 L506.3,2946.1 L510.3,2945.6 L514.3,2945.2 L518.3,2944.8 L522.3,2944.5 L526.3,2944.2 L530.3,2944.0 L534.3,2943.8 L538.3,2943.6 L542.3,2943.5 L546.3,2943.5 L550.3,2943.5 L554.3,2943.6 L558.3,2943.7 L562.3,2943.9 L566.3,2944.1 L570.3,2944.4 L574.3,2944.7 L578.3,2945.1 L582.3,2945.5 L586.3,2946.0 L590.3,2946.5 L594.3,2947.1 L598.3,2947.7 L602.3,2948.4 L606.3,2949.1 L610.3,2949.8 L614.3,2950.6 L618.3,2951.4 L622.3,2952.2 L626.3,2953.1 L630.3,2954.0 L634.3,2954.9 L638.3,2955.8 L642.3,2956.8 L646.3,2957.8 L650.3,2958.8 L654.3,2959.8 L658.3,2960.8 L662.3,2961.8 L666.3,2962.9 L670.3,2963.9 L674.3,2965.0 L678.3,2966.1 L682.3,2967.1 L686.3,2968.2 L690.3,2969.3 L694.3,2970.3 L698.3,2971.4 L702.3,2972.5 L706.3,2973.5 L710.3,2974.6 L714.3,2975.6 L718.3,2976.7 L722.3,2977.7 L726.3,2978.7 L730.3,2979.7 L734.3,2980.7 L738.3,2981.7 L742.3,2982.6 L746.3,2983.6 L750.3,2984.5 L754.3,2985.4 L758.3,2986.3 L762.3,2987.2 L766.3,2988.1 L770.3,2988.9 L774.3,2989.8 L778.3,2990.6 L782.3,2991.4 L786.3,2992.1 L790.3,2992.9 L794.3,2993.6 L798.3,2994.3 L802.3,2995.0 L806.3,2995.7 L810.3,2996.3 L814.3,2996.9 L818.3,2997.6 L822.3,2998.1 L826.3,2998.7 L830.3,2999.2 L834.3,2999.8 L838.3,3000.3 L842.3,3000.7 L846.3,3001.2 L850.3,3001.6 L854.3,3002.1 L858.3,3002.5 L862.3,3002.9 L866.3,3003.2 L870.3,3003.6 L874.3,3003.9 L878.3,3004.2 L882.3,3004.5 L886.3,3004.8 L890.3,3005.1 L894.3,3005.3 L898.3,3005.6 L902.3,3005.8 L906.3,3006.0 L910.3,3006.2 L914.3,3006.4 L918.3,3006.6 L922.3,3006.8 L926.3,3006.9 L930.3,3007.1 L934.3,3007.2 L938.3,3007.3 L942.3,3007.4 L946.3,3007.6 L950.3,3007.7 L954.3,3007.8 L958.3,3007.9 L962.3,3007.9 L966.3,3008.0 L970.3,3008.1 L974.3,3008.2 L978.3,3008.2 L982.3,3008.3 L986.3,3008.3 L990.3,3008.4 L994.3,3008.4 L998.3,3008.5 L1002.3,3008.5 L1006.3,3008.6 L1010.3,3008.6 L1014.3,3008.6 L1018.3,3008.7 L1022.3,3008.7 L1026.3,3008.7 L1030.3,3008.7 L1034.3,3008.8 L1038.3,3008.8 L1042.3,3008.8 L1046.3,3008.8 L1050.3,3008.8 L1054.3,3008.9 L1058.3,3008.9 L1062.3,3008.9 L1066.3,3008.9 L1070.3,3008.9 L1074.3,3008.9 L1078.3,3008.9 L1082.3,3009.0 L1086.3,3009.0 L1090.3,3009.0 L1094.3,3009.0 L1098.3,3009.0 L1102.3,3009.0 L1106.3,3009.0 L1110.3,3009.0 L1114.3,3009.0 L1118.3,3009.0 L1122.3,3009.1 L1126.3,3009.1 L1130.3,3009.1 L1134.3,3009.1 L1138.3,3009.1 L1142.3,3009.1 L1146.3,3009.1 L1150.3,3009.1 L1154.3,3009.1 L1158.3,3009.1 L1162.3,3009.1 L1166.3,3009.1 L1170.3,3009.1 L1174.3,3009.1 L1178.3,3009.1 L1182.3,3009.1 L1186.3,3009.2 L1190.3,3009.2 L1194.3,3009.2 L1198.3,3009.2 L1202.3,3009.2 L1206.3,3009.2 L1210.3,3009.2 L1214.3,3009.2 L1218.3,3009.2 L1219.5,3009.2" fill="none" stroke="#BE5F5A" stroke-width="7.5" stroke-linejoin="round" stroke-linecap="butt"/>
<path d="M142.3,3411.3 L146.3,3410.8 L150.3,3410.4 L154.3,3410.0 L158.3,3409.6 L162.3,3409.1 L166.3,3409.5 L170.3,3409.9 L174.3,3410.4 L178.3,3410.8 L182.3,3411.1 L186.3,3410.0 L190.3,3408.8 L194.3,3407.6 L198.3,3406.4 L202.3,3405.2 L206.3,3405.4 L210.3,3405.6 L214.3,3405.8 L218.3,3406.0 L222.3,3406.1 L226.3,3406.0 L230.3,3406.0 L234.3,3405.9 L238.3,3405.7 L242.3,3405.6 L246.3,3406.0 L250.3,3406.4 L254.3,3406.7 L258.3,3407.1 L262.3,3407.4 L266.3,3406.4 L270.3,3405.4 L274.3,3404.3 L278.3,3403.3 L282.3,3402.2 L286.3,3401.9 L290.3,3401.7 L294.3,3401.4 L298.3,3401.1 L302.3,3400.7 L306.3,3399.3 L310.3,3397.9 L314.3,3396.4 L318.3,3394.9 L322.3,3393.4 L326.3,3392.0 L330.3,3390.7 L334.3,3389.3 L338.3,3387.9 L342.3,3386.4 L346.3,3385.4 L350.3,3384.2 L354.3,3383.0 L358.3,3381.8 L362.3,3380.6 L366.3,3380.4 L370.3,3380.2 L374.3,3379.9 L378.3,3379.6 L382.3,3379.2 L386.3,3377.3 L390.3,3375.3 L394.3,3373.2 L398.3,3371.2 L402.3,3369.0 L406.3,3366.6 L410.3,3364.2 L414.3,3361.8 L418.3,3359.3 L422.3,3356.7 L426.3,3354.4 L430.3,3352.0 L434.3,3349.5 L438.3,3347.1 L442.3,3344.7 L446.3,3343.5 L450.3,3342.2 L454.3,3341.0 L458.3,3339.8 L462.3,3338.7 L466.3,3337.1 L470.3,3335.5 L474.3,3333.9 L478.3,3332.4 L482.3,3331.0 L486.3,3328.9 L490.3,3326.8 L494.3,3324.8 L498.3,3322.9 L502.3,3321.0 L506.3,3319.3 L510.3,3317.6 L514.3,3316.0 L518.3,3314.4 L522.3,3312.8 L526.3,3312.1 L530.3,3311.4 L534.3,3310.6 L538.3,3309.8 L542.3,3309.0 L546.3,3307.8 L550.3,3306.5 L554.3,3305.1 L558.3,3303.6 L562.3,3302.0 L566.3,3298.7 L570.3,3295.3 L574.3,3291.6 L578.3,3287.9 L582.3,3283.9 L586.3,3280.6 L590.3,3277.1 L594.3,3273.4 L598.3,3269.5 L602.3,3265.4 L606.3,3262.0 L610.3,3258.4 L614.3,3254.6 L618.3,3250.6 L622.3,3246.5 L626.3,3241.9 L630.3,3237.2 L634.3,3232.4 L638.3,3227.5 L642.3,3222.5 L646.3,3217.7 L650.3,3212.9 L654.3,3208.0 L658.3,3203.2 L662.3,3198.3 L666.3,3192.3 L670.3,3186.4 L674.3,3180.5 L678.3,3174.7 L682.3,3169.1 L686.3,3165.3 L690.3,3161.7 L694.3,3158.3 L698.3,3155.1 L702.3,3152.1 L706.3,3148.4 L710.3,3144.9 L714.3,3141.6 L718.3,3138.7 L722.3,3136.1 L726.3,3133.6 L730.3,3131.4 L734.3,3129.6 L738.3,3128.1 L742.3,3127.0 L746.3,3126.2 L750.3,3125.8 L754.3,3125.8 L758.3,3126.1 L762.3,3126.9 L766.3,3129.8 L770.3,3133.0 L774.3,3136.6 L778.3,3140.6 L782.3,3145.0 L786.3,3147.5 L790.3,3150.2 L794.3,3153.4 L798.3,3156.8 L802.3,3160.6 L806.3,3166.4 L810.3,3172.6 L814.3,3179.0 L818.3,3185.6 L822.3,3192.5 L826.3,3197.7 L830.3,3203.2 L834.3,3208.7 L838.3,3214.4 L842.3,3220.2 L846.3,3227.1 L850.3,3233.9 L854.3,3240.8 L858.3,3247.8 L862.3,3254.7 L866.3,3262.5 L870.3,3270.2 L874.3,3277.9 L878.3,3285.6 L882.3,3293.1 L886.3,3298.9 L890.3,3304.7 L894.3,3310.3 L898.3,3315.7 L902.3,3321.1 L906.3,3328.0 L910.3,3334.8 L914.3,3341.4 L918.3,3347.9 L922.3,3354.2 L926.3,3358.5 L930.3,3362.6 L934.3,3366.5 L938.3,3370.3 L942.3,3373.8 L946.3,3377.4 L950.3,3380.8 L954.3,3384.1 L958.3,3387.1 L962.3,3390.0 L966.3,3393.2 L970.3,3396.3 L974.3,3399.2 L978.3,3402.0 L982.3,3404.5 L986.3,3407.2 L990.3,3409.8 L994.3,3412.2 L998.3,3414.4 L1002.3,3416.6 L1006.3,3418.7 L1010.3,3420.6 L1014.3,3422.5 L1018.3,3424.3 L1022.3,3425.9 L1026.3,3427.6 L1030.3,3429.1 L1034.3,3430.6 L1038.3,3432.0 L1042.3,3433.3 L1046.3,3432.8 L1050.3,3432.2 L1054.3,3431.6 L1058.3,3430.9 L1062.3,3430.2 L1066.3,3431.1 L1070.3,3432.0 L1074.3,3432.8 L1078.3,3433.6 L1082.3,3434.3 L1086.3,3434.4 L1090.3,3434.4 L1094.3,3434.3 L1098.3,3434.3 L1102.3,3434.2 L1106.3,3435.7 L1110.3,3437.1 L1114.3,3438.5 L1118.3,3439.8 L1122.3,3441.2 L1126.3,3440.0 L1130.3,3438.8 L1134.3,3437.6 L1138.3,3436.3 L1142.3,3435.1 L1146.3,3435.0 L1150.3,3435.0 L1154.3,3434.9 L1158.3,3434.8 L1162.3,3434.7 L1166.3,3434.8 L1170.3,3434.9 L1174.3,3434.9 L1178.3,3435.0 L1182.3,3435.1 L1186.3,3435.6 L1190.3,3436.2 L1194.3,3436.8 L1198.3,3437.3 L1202.3,3437.9 L1206.3,3438.8 L1210.3,3439.6 L1214.3,3440.4 L1218.3,3441.3 L1219.5,3441.5" fill="none" stroke="#CFCFCF" stroke-width="8.5" stroke-linejoin="round" stroke-linecap="butt"/>
<path d="M142.3,3410.7 L146.3,3410.5 L150.3,3410.3 L154.3,3410.2 L158.3,3410.0 L162.3,3409.8 L166.3,3409.6 L170.3,3409.5 L174.3,3409.3 L178.3,3409.0 L182.3,3408.8 L186.3,3408.6 L190.3,3408.4 L194.3,3408.2 L198.3,3407.9 L202.3,3407.6 L206.3,3407.4 L210.3,3407.1 L214.3,3406.8 L218.3,3406.5 L222.3,3406.2 L226.3,3405.9 L230.3,3405.5 L234.3,3405.2 L238.3,3404.8 L242.3,3404.4 L246.3,3404.0 L250.3,3403.6 L254.3,3403.2 L258.3,3402.7 L262.3,3402.2 L266.3,3401.7 L270.3,3401.2 L274.3,3400.7 L278.3,3400.1 L282.3,3399.5 L286.3,3398.9 L290.3,3398.3 L294.3,3397.6 L298.3,3396.9 L302.3,3396.2 L306.3,3395.4 L310.3,3394.6 L314.3,3393.8 L318.3,3392.9 L322.3,3392.1 L326.3,3391.1 L330.3,3390.2 L334.3,3389.2 L338.3,3388.1 L342.3,3387.1 L346.3,3386.0 L350.3,3384.8 L354.3,3383.6 L358.3,3382.4 L362.3,3381.1 L366.3,3379.8 L370.3,3378.4 L374.3,3377.0 L378.3,3375.5 L382.3,3374.0 L386.3,3372.5 L390.3,3370.9 L394.3,3369.3 L398.3,3367.6 L402.3,3365.9 L406.3,3364.1 L410.3,3362.4 L414.3,3360.5 L418.3,3358.7 L422.3,3356.8 L426.3,3354.9 L430.3,3352.9 L434.3,3351.0 L438.3,3349.0 L442.3,3347.0 L446.3,3345.0 L450.3,3343.0 L454.3,3341.1 L458.3,3339.1 L462.3,3337.2 L466.3,3335.3 L470.3,3333.4 L474.3,3331.6 L478.3,3329.8 L482.3,3328.1 L486.3,3326.4 L490.3,3324.7 L494.3,3323.2 L498.3,3321.6 L502.3,3320.2 L506.3,3318.7 L510.3,3317.3 L514.3,3315.9 L518.3,3314.6 L522.3,3313.2 L526.3,3311.9 L530.3,3310.5 L534.3,3309.1 L538.3,3307.6 L542.3,3306.1 L546.3,3304.5 L550.3,3302.9 L554.3,3301.1 L558.3,3299.2 L562.3,3297.1 L566.3,3294.9 L570.3,3292.6 L574.3,3290.1 L578.3,3287.4 L582.3,3284.6 L586.3,3281.6 L590.3,3278.4 L594.3,3275.0 L598.3,3271.4 L602.3,3267.6 L606.3,3263.7 L610.3,3259.6 L614.3,3255.3 L618.3,3250.9 L622.3,3246.3 L626.3,3241.6 L630.3,3236.8 L634.3,3231.8 L638.3,3226.8 L642.3,3221.6 L646.3,3216.4 L650.3,3211.2 L654.3,3205.9 L658.3,3200.6 L662.3,3195.4 L666.3,3190.1 L670.3,3185.0 L674.3,3179.9 L678.3,3174.9 L682.3,3170.0 L686.3,3165.3 L690.3,3160.7 L694.3,3156.4 L698.3,3152.2 L702.3,3148.3 L706.3,3144.6 L710.3,3141.2 L714.3,3138.0 L718.3,3135.2 L722.3,3132.7 L726.3,3130.6 L730.3,3128.7 L734.3,3127.3 L738.3,3126.2 L742.3,3125.5 L746.3,3125.1 L750.3,3125.2 L754.3,3125.7 L758.3,3126.5 L762.3,3127.8 L766.3,3129.4 L770.3,3131.4 L774.3,3133.8 L778.3,3136.6 L782.3,3139.7 L786.3,3143.2 L790.3,3147.1 L794.3,3151.3 L798.3,3155.8 L802.3,3160.6 L806.3,3165.6 L810.3,3171.0 L814.3,3176.6 L818.3,3182.4 L822.3,3188.4 L826.3,3194.6 L830.3,3201.0 L834.3,3207.5 L838.3,3214.2 L842.3,3220.9 L846.3,3227.7 L850.3,3234.6 L854.3,3241.5 L858.3,3248.5 L862.3,3255.4 L866.3,3262.3 L870.3,3269.2 L874.3,3276.1 L878.3,3282.8 L882.3,3289.5 L886.3,3296.1 L890.3,3302.6 L894.3,3308.9 L898.3,3315.1 L902.3,3321.2 L906.3,3327.1 L910.3,3332.8 L914.3,3338.4 L918.3,3343.8 L922.3,3349.1 L926.3,3354.1 L930.3,3358.9 L934.3,3363.6 L938.3,3368.1 L942.3,3372.4 L946.3,3376.5 L950.3,3380.4 L954.3,3384.1 L958.3,3387.6 L962.3,3391.0 L966.3,3394.2 L970.3,3397.2 L974.3,3400.0 L978.3,3402.7 L982.3,3405.2 L986.3,3407.6 L990.3,3409.9 L994.3,3411.9 L998.3,3413.9 L1002.3,3415.7 L1006.3,3417.4 L1010.3,3419.0 L1014.3,3420.5 L1018.3,3421.9 L1022.3,3423.1 L1026.3,3424.3 L1030.3,3425.4 L1034.3,3426.4 L1038.3,3427.3 L1042.3,3428.2 L1046.3,3429.0 L1050.3,3429.7 L1054.3,3430.3 L1058.3,3431.0 L1062.3,3431.5 L1066.3,3432.0 L1070.3,3432.5 L1074.3,3432.9 L1078.3,3433.3 L1082.3,3433.7 L1086.3,3434.0 L1090.3,3434.3 L1094.3,3434.6 L1098.3,3434.8 L1102.3,3435.0 L1106.3,3435.2 L1110.3,3435.4 L1114.3,3435.6 L1118.3,3435.8 L1122.3,3435.9 L1126.3,3436.0 L1130.3,3436.2 L1134.3,3436.3 L1138.3,3436.4 L1142.3,3436.5 L1146.3,3436.5 L1150.3,3436.6 L1154.3,3436.7 L1158.3,3436.8 L1162.3,3436.8 L1166.3,3436.9 L1170.3,3436.9 L1174.3,3437.0 L1178.3,3437.0 L1182.3,3437.1 L1186.3,3437.1 L1190.3,3437.2 L1194.3,3437.2 L1198.3,3437.2 L1202.3,3437.3 L1206.3,3437.3 L1210.3,3437.3 L1214.3,3437.4 L1218.3,3437.4 L1219.5,3437.4" fill="none" stroke="#1C96E8" stroke-width="7.5" stroke-linejoin="round" stroke-linecap="butt"/>
<path d="M142.3,3419.6 L146.3,3419.6 L150.3,3419.6 L154.3,3419.6 L158.3,3419.6 L162.3,3419.6 L166.3,3419.6 L170.3,3419.6 L174.3,3419.6 L178.3,3419.6 L182.3,3419.6 L186.3,3419.6 L190.3,3419.6 L194.3,3419.7 L198.3,3419.7 L202.3,3419.7 L206.3,3419.7 L210.3,3419.7 L214.3,3419.7 L218.3,3419.7 L222.3,3419.7 L226.3,3419.7 L230.3,3419.7 L234.3,3419.7 L238.3,3419.7 L242.3,3419.7 L246.3,3419.7 L250.3,3419.7 L254.3,3419.7 L258.3,3419.8 L262.3,3419.8 L266.3,3419.8 L270.3,3419.8 L274.3,3419.8 L278.3,3419.8 L282.3,3419.8 L286.3,3419.8 L290.3,3419.8 L294.3,3419.9 L298.3,3419.9 L302.3,3419.9 L306.3,3419.9 L310.3,3419.9 L314.3,3419.9 L318.3,3420.0 L322.3,3420.0 L326.3,3420.0 L330.3,3420.0 L334.3,3420.1 L338.3,3420.1 L342.3,3420.1 L346.3,3420.1 L350.3,3420.2 L354.3,3420.2 L358.3,3420.2 L362.3,3420.2 L366.3,3420.3 L370.3,3420.3 L374.3,3420.4 L378.3,3420.4 L382.3,3420.4 L386.3,3420.5 L390.3,3420.5 L394.3,3420.6 L398.3,3420.6 L402.3,3420.7 L406.3,3420.7 L410.3,3420.8 L414.3,3420.8 L418.3,3420.9 L422.3,3420.9 L426.3,3421.0 L430.3,3421.0 L434.3,3421.1 L438.3,3421.2 L442.3,3421.2 L446.3,3421.3 L450.3,3421.4 L454.3,3421.4 L458.3,3421.5 L462.3,3421.6 L466.3,3421.7 L470.3,3421.8 L474.3,3421.8 L478.3,3421.9 L482.3,3422.0 L486.3,3422.1 L490.3,3422.2 L494.3,3422.3 L498.3,3422.4 L502.3,3422.5 L506.3,3422.6 L510.3,3422.7 L514.3,3422.8 L518.3,3422.9 L522.3,3423.1 L526.3,3423.2 L530.3,3423.3 L534.3,3423.4 L538.3,3423.5 L542.3,3423.7 L546.3,3423.8 L550.3,3423.9 L554.3,3424.1 L558.3,3424.2 L562.3,3424.4 L566.3,3424.5 L570.3,3424.6 L574.3,3424.8 L578.3,3424.9 L582.3,3425.1 L586.3,3425.2 L590.3,3425.4 L594.3,3425.6 L598.3,3425.7 L602.3,3425.9 L606.3,3426.0 L610.3,3426.2 L614.3,3426.4 L618.3,3426.6 L622.3,3426.7 L626.3,3426.9 L630.3,3427.1 L634.3,3427.3 L638.3,3427.4 L642.3,3427.6 L646.3,3427.8 L650.3,3428.0 L654.3,3428.2 L658.3,3428.3 L662.3,3428.5 L666.3,3428.7 L670.3,3428.9 L674.3,3429.1 L678.3,3429.3 L682.3,3429.5 L686.3,3429.7 L690.3,3429.8 L694.3,3430.0 L698.3,3430.2 L702.3,3430.4 L706.3,3430.6 L710.3,3430.8 L714.3,3431.0 L718.3,3431.2 L722.3,3431.4 L726.3,3431.5 L730.3,3431.7 L734.3,3431.9 L738.3,3432.1 L742.3,3432.3 L746.3,3432.5 L750.3,3432.7 L754.3,3432.8 L758.3,3433.0 L762.3,3433.2 L766.3,3433.4 L770.3,3433.6 L774.3,3433.7 L778.3,3433.9 L782.3,3434.1 L786.3,3434.2 L790.3,3434.4 L794.3,3434.6 L798.3,3434.7 L802.3,3434.9 L806.3,3435.1 L810.3,3435.2 L814.3,3435.4 L818.3,3435.5 L822.3,3435.7 L826.3,3435.8 L830.3,3436.0 L834.3,3436.1 L838.3,3436.3 L842.3,3436.4 L846.3,3436.5 L850.3,3436.7 L854.3,3436.8 L858.3,3436.9 L862.3,3437.1 L866.3,3437.2 L870.3,3437.3 L874.3,3437.4 L878.3,3437.6 L882.3,3437.7 L886.3,3437.8 L890.3,3437.9 L894.3,3438.0 L898.3,3438.1 L902.3,3438.2 L906.3,3438.3 L910.3,3438.4 L914.3,3438.5 L918.3,3438.6 L922.3,3438.7 L926.3,3438.8 L930.3,3438.9 L934.3,3438.9 L938.3,3439.0 L942.3,3439.1 L946.3,3439.2 L950.3,3439.2 L954.3,3439.3 L958.3,3439.4 L962.3,3439.4 L966.3,3439.5 L970.3,3439.6 L974.3,3439.6 L978.3,3439.7 L982.3,3439.8 L986.3,3439.8 L990.3,3439.9 L994.3,3439.9 L998.3,3440.0 L1002.3,3440.0 L1006.3,3440.0 L1010.3,3440.1 L1014.3,3440.1 L1018.3,3440.2 L1022.3,3440.2 L1026.3,3440.3 L1030.3,3440.3 L1034.3,3440.3 L1038.3,3440.4 L1042.3,3440.4 L1046.3,3440.4 L1050.3,3440.4 L1054.3,3440.5 L1058.3,3440.5 L1062.3,3440.5 L1066.3,3440.6 L1070.3,3440.6 L1074.3,3440.6 L1078.3,3440.6 L1082.3,3440.6 L1086.3,3440.7 L1090.3,3440.7 L1094.3,3440.7 L1098.3,3440.7 L1102.3,3440.7 L1106.3,3440.7 L1110.3,3440.8 L1114.3,3440.8 L1118.3,3440.8 L1122.3,3440.8 L1126.3,3440.8 L1130.3,3440.8 L1134.3,3440.8 L1138.3,3440.8 L1142.3,3440.9 L1146.3,3440.9 L1150.3,3440.9 L1154.3,3440.9 L1158.3,3440.9 L1162.3,3440.9 L1166.3,3440.9 L1170.3,3440.9 L1174.3,3440.9 L1178.3,3440.9 L1182.3,3440.9 L1186.3,3440.9 L1190.3,3440.9 L1194.3,3440.9 L1198.3,3440.9 L1202.3,3440.9 L1206.3,3440.9 L1210.3,3441.0 L1214.3,3441.0 L1218.3,3441.0 L1219.5,3441.0" fill="none" stroke="#3F7C93" stroke-width="7" stroke-linejoin="round" stroke-linecap="butt"/>
<path d="M142.3,3412.2 L146.3,3412.0 L150.3,3411.8 L154.3,3411.7 L158.3,3411.5 L162.3,3411.3 L166.3,3411.1 L170.3,3411.0 L174.3,3410.8 L178.3,3410.5 L182.3,3410.3 L186.3,3410.1 L190.3,3409.9 L194.3,3409.7 L198.3,3409.4 L202.3,3409.1 L206.3,3408.9 L210.3,3408.6 L214.3,3408.3 L218.3,3408.0 L222.3,3407.7 L226.3,3407.4 L230.3,3407.0 L234.3,3406.7 L238.3,3406.3 L242.3,3405.9 L246.3,3405.5 L250.3,3405.1 L254.3,3404.7 L258.3,3404.2 L262.3,3403.7 L266.3,3403.2 L270.3,3402.7 L274.3,3402.2 L278.3,3401.6 L282.3,3401.0 L286.3,3400.4 L290.3,3399.8 L294.3,3399.1 L298.3,3398.4 L302.3,3397.7 L306.3,3396.9 L310.3,3396.2 L314.3,3395.3 L318.3,3394.5 L322.3,3393.6 L326.3,3392.7 L330.3,3391.8 L334.3,3390.8 L338.3,3389.8 L342.3,3388.7 L346.3,3387.6 L350.3,3386.5 L354.3,3385.3 L358.3,3384.1 L362.3,3382.9 L366.3,3381.6 L370.3,3380.3 L374.3,3379.0 L378.3,3377.6 L382.3,3376.2 L386.3,3374.7 L390.3,3373.2 L394.3,3371.7 L398.3,3370.2 L402.3,3368.6 L406.3,3367.0 L410.3,3365.4 L414.3,3363.7 L418.3,3362.1 L422.3,3360.4 L426.3,3358.8 L430.3,3357.2 L434.3,3355.5 L438.3,3353.9 L442.3,3352.4 L446.3,3350.8 L450.3,3349.3 L454.3,3347.9 L458.3,3346.6 L462.3,3345.3 L466.3,3344.1 L470.3,3343.0 L474.3,3342.0 L478.3,3341.2 L482.3,3340.5 L486.3,3339.9 L490.3,3339.4 L494.3,3339.1 L498.3,3339.0 L502.3,3339.0 L506.3,3339.2 L510.3,3339.5 L514.3,3340.0 L518.3,3340.6 L522.3,3341.4 L526.3,3342.3 L530.3,3343.4 L534.3,3344.6 L538.3,3345.8 L542.3,3347.2 L546.3,3348.7 L550.3,3350.3 L554.3,3351.9 L558.3,3353.6 L562.3,3355.3 L566.3,3357.1 L570.3,3358.9 L574.3,3360.7 L578.3,3362.6 L582.3,3364.5 L586.3,3366.3 L590.3,3368.2 L594.3,3370.0 L598.3,3371.8 L602.3,3373.6 L606.3,3375.4 L610.3,3377.2 L614.3,3378.9 L618.3,3380.6 L622.3,3382.3 L626.3,3383.9 L630.3,3385.6 L634.3,3387.1 L638.3,3388.6 L642.3,3390.1 L646.3,3391.6 L650.3,3393.0 L654.3,3394.4 L658.3,3395.7 L662.3,3397.0 L666.3,3398.3 L670.3,3399.5 L674.3,3400.7 L678.3,3401.9 L682.3,3403.0 L686.3,3404.1 L690.3,3405.2 L694.3,3406.2 L698.3,3407.2 L702.3,3408.1 L706.3,3409.1 L710.3,3410.0 L714.3,3410.8 L718.3,3411.7 L722.3,3412.5 L726.3,3413.3 L730.3,3414.1 L734.3,3414.8 L738.3,3415.5 L742.3,3416.2 L746.3,3416.9 L750.3,3417.5 L754.3,3418.2 L758.3,3418.8 L762.3,3419.4 L766.3,3419.9 L770.3,3420.5 L774.3,3421.0 L778.3,3421.5 L782.3,3422.1 L786.3,3422.5 L790.3,3423.0 L794.3,3423.5 L798.3,3423.9 L802.3,3424.4 L806.3,3424.8 L810.3,3425.2 L814.3,3425.6 L818.3,3426.0 L822.3,3426.4 L826.3,3426.7 L830.3,3427.1 L834.3,3427.4 L838.3,3427.8 L842.3,3428.1 L846.3,3428.4 L850.3,3428.7 L854.3,3429.0 L858.3,3429.3 L862.3,3429.6 L866.3,3429.9 L870.3,3430.1 L874.3,3430.4 L878.3,3430.7 L882.3,3430.9 L886.3,3431.1 L890.3,3431.4 L894.3,3431.6 L898.3,3431.8 L902.3,3432.1 L906.3,3432.3 L910.3,3432.5 L914.3,3432.7 L918.3,3432.9 L922.3,3433.1 L926.3,3433.2 L930.3,3433.4 L934.3,3433.6 L938.3,3433.8 L942.3,3433.9 L946.3,3434.1 L950.3,3434.3 L954.3,3434.4 L958.3,3434.6 L962.3,3434.7 L966.3,3434.8 L970.3,3435.0 L974.3,3435.1 L978.3,3435.2 L982.3,3435.4 L986.3,3435.5 L990.3,3435.6 L994.3,3435.7 L998.3,3435.8 L1002.3,3435.9 L1006.3,3436.0 L1010.3,3436.2 L1014.3,3436.3 L1018.3,3436.3 L1022.3,3436.4 L1026.3,3436.5 L1030.3,3436.6 L1034.3,3436.7 L1038.3,3436.8 L1042.3,3436.9 L1046.3,3437.0 L1050.3,3437.0 L1054.3,3437.1 L1058.3,3437.2 L1062.3,3437.3 L1066.3,3437.3 L1070.3,3437.4 L1074.3,3437.4 L1078.3,3437.5 L1082.3,3437.6 L1086.3,3437.6 L1090.3,3437.7 L1094.3,3437.7 L1098.3,3437.8 L1102.3,3437.9 L1106.3,3437.9 L1110.3,3438.0 L1114.3,3438.0 L1118.3,3438.1 L1122.3,3438.1 L1126.3,3438.1 L1130.3,3438.2 L1134.3,3438.2 L1138.3,3438.3 L1142.3,3438.3 L1146.3,3438.4 L1150.3,3438.4 L1154.3,3438.4 L1158.3,3438.5 L1162.3,3438.5 L1166.3,3438.5 L1170.3,3438.6 L1174.3,3438.6 L1178.3,3438.6 L1182.3,3438.7 L1186.3,3438.7 L1190.3,3438.7 L1194.3,3438.8 L1198.3,3438.8 L1202.3,3438.8 L1206.3,3438.8 L1210.3,3438.9 L1214.3,3438.9 L1218.3,3438.9 L1219.5,3438.9" fill="none" stroke="#BE5F5A" stroke-width="7.5" stroke-linejoin="round" stroke-linecap="butt"/>
<path d="M142.3,3419.6 L146.3,3419.6 L150.3,3419.6 L154.3,3419.6 L158.3,3419.6 L162.3,3419.6 L166.3,3419.6 L170.3,3419.6 L174.3,3419.6 L178.3,3419.6 L182.3,3419.6 L186.3,3419.6 L190.3,3419.6 L194.3,3419.7 L198.3,3419.7 L202.3,3419.7 L206.3,3419.7 L210.3,3419.7 L214.3,3419.7 L218.3,3419.7 L222.3,3419.7 L226.3,3419.7 L230.3,3419.7 L234.3,3419.7 L238.3,3419.7 L242.3,3419.7 L246.3,3419.7 L250.3,3419.7 L254.3,3419.7 L258.3,3419.7 L262.3,3419.8 L266.3,3419.8 L270.3,3419.8 L274.3,3419.8 L278.3,3419.8 L282.3,3419.8 L286.3,3419.8 L290.3,3419.8 L294.3,3419.8 L298.3,3419.8 L302.3,3419.9 L306.3,3419.9 L310.3,3419.9 L314.3,3419.9 L318.3,3419.9 L322.3,3419.9 L326.3,3419.9 L330.3,3419.9 L334.3,3419.9 L338.3,3419.9 L342.3,3419.9 L346.3,3420.0 L350.3,3420.0 L354.3,3419.9 L358.3,3419.9 L362.3,3419.9 L366.3,3419.9 L370.3,3419.9 L374.3,3419.9 L378.3,3419.8 L382.3,3419.8 L386.3,3419.8 L390.3,3419.7 L394.3,3419.6 L398.3,3419.6 L402.3,3419.5 L406.3,3419.4 L410.3,3419.2 L414.3,3419.1 L418.3,3418.9 L422.3,3418.7 L426.3,3418.5 L430.3,3418.3 L434.3,3418.0 L438.3,3417.7 L442.3,3417.4 L446.3,3417.0 L450.3,3416.6 L454.3,3416.1 L458.3,3415.6 L462.3,3415.0 L466.3,3414.4 L470.3,3413.7 L474.3,3412.9 L478.3,3412.0 L482.3,3411.1 L486.3,3410.1 L490.3,3409.0 L494.3,3407.8 L498.3,3406.5 L502.3,3405.2 L506.3,3403.6 L510.3,3402.0 L514.3,3400.3 L518.3,3398.4 L522.3,3396.4 L526.3,3394.2 L530.3,3391.9 L534.3,3389.5 L538.3,3386.8 L542.3,3384.1 L546.3,3381.1 L550.3,3378.0 L554.3,3374.7 L558.3,3371.3 L562.3,3367.6 L566.3,3363.8 L570.3,3359.8 L574.3,3355.6 L578.3,3351.3 L582.3,3346.7 L586.3,3342.0 L590.3,3337.1 L594.3,3332.0 L598.3,3326.8 L602.3,3321.4 L606.3,3315.8 L610.3,3310.1 L614.3,3304.3 L618.3,3298.3 L622.3,3292.2 L626.3,3286.1 L630.3,3279.8 L634.3,3273.4 L638.3,3267.0 L642.3,3260.6 L646.3,3254.1 L650.3,3247.6 L654.3,3241.2 L658.3,3234.7 L662.3,3228.4 L666.3,3222.1 L670.3,3215.8 L674.3,3209.7 L678.3,3203.8 L682.3,3198.0 L686.3,3192.3 L690.3,3186.9 L694.3,3181.7 L698.3,3176.7 L702.3,3172.0 L706.3,3167.6 L710.3,3163.5 L714.3,3159.7 L718.3,3156.2 L722.3,3153.1 L726.3,3150.3 L730.3,3147.9 L734.3,3145.9 L738.3,3144.3 L742.3,3143.1 L746.3,3142.2 L750.3,3141.8 L754.3,3141.8 L758.3,3142.3 L762.3,3143.1 L766.3,3144.3 L770.3,3146.0 L774.3,3148.0 L778.3,3150.4 L782.3,3153.3 L786.3,3156.4 L790.3,3160.0 L794.3,3163.9 L798.3,3168.1 L802.3,3172.6 L806.3,3177.4 L810.3,3182.5 L814.3,3187.9 L818.3,3193.4 L822.3,3199.2 L826.3,3205.2 L830.3,3211.4 L834.3,3217.7 L838.3,3224.2 L842.3,3230.7 L846.3,3237.4 L850.3,3244.1 L854.3,3250.8 L858.3,3257.6 L862.3,3264.4 L866.3,3271.2 L870.3,3277.9 L874.3,3284.6 L878.3,3291.2 L882.3,3297.8 L886.3,3304.2 L890.3,3310.6 L894.3,3316.8 L898.3,3322.9 L902.3,3328.8 L906.3,3334.6 L910.3,3340.3 L914.3,3345.8 L918.3,3351.1 L922.3,3356.2 L926.3,3361.1 L930.3,3365.9 L934.3,3370.4 L938.3,3374.8 L942.3,3379.0 L946.3,3383.0 L950.3,3386.9 L954.3,3390.5 L958.3,3394.0 L962.3,3397.2 L966.3,3400.4 L970.3,3403.3 L974.3,3406.1 L978.3,3408.7 L982.3,3411.1 L986.3,3413.4 L990.3,3415.6 L994.3,3417.6 L998.3,3419.5 L1002.3,3421.3 L1006.3,3422.9 L1010.3,3424.4 L1014.3,3425.9 L1018.3,3427.2 L1022.3,3428.4 L1026.3,3429.5 L1030.3,3430.5 L1034.3,3431.5 L1038.3,3432.4 L1042.3,3433.2 L1046.3,3433.9 L1050.3,3434.6 L1054.3,3435.2 L1058.3,3435.8 L1062.3,3436.3 L1066.3,3436.8 L1070.3,3437.2 L1074.3,3437.6 L1078.3,3437.9 L1082.3,3438.2 L1086.3,3438.5 L1090.3,3438.8 L1094.3,3439.0 L1098.3,3439.2 L1102.3,3439.4 L1106.3,3439.6 L1110.3,3439.7 L1114.3,3439.9 L1118.3,3440.0 L1122.3,3440.1 L1126.3,3440.2 L1130.3,3440.3 L1134.3,3440.4 L1138.3,3440.4 L1142.3,3440.5 L1146.3,3440.6 L1150.3,3440.6 L1154.3,3440.6 L1158.3,3440.7 L1162.3,3440.7 L1166.3,3440.7 L1170.3,3440.8 L1174.3,3440.8 L1178.3,3440.8 L1182.3,3440.8 L1186.3,3440.9 L1190.3,3440.9 L1194.3,3440.9 L1198.3,3440.9 L1202.3,3440.9 L1206.3,3440.9 L1210.3,3440.9 L1214.3,3440.9 L1218.3,3440.9 L1219.5,3440.9" fill="none" stroke="#9488BB" stroke-width="7.5" stroke-linejoin="round" stroke-linecap="butt"/>
</g>
<rect x="142.3" y="2629.0" width="1077.2" height="867.6" fill="none" stroke="#000" stroke-width="6.5"/>
<line x1="224.5" y1="3496.6" x2="224.5" y2="3514.6" stroke="#000" stroke-width="6"/>
<line x1="390.2" y1="3496.6" x2="390.2" y2="3514.6" stroke="#000" stroke-width="6"/>
<line x1="555.9" y1="3496.6" x2="555.9" y2="3514.6" stroke="#000" stroke-width="6"/>
<line x1="721.6" y1="3496.6" x2="721.6" y2="3514.6" stroke="#000" stroke-width="6"/>
<line x1="887.3" y1="3496.6" x2="887.3" y2="3514.6" stroke="#000" stroke-width="6"/>
<line x1="1053.0" y1="3496.6" x2="1053.0" y2="3514.6" stroke="#000" stroke-width="6"/>
<line x1="1218.7" y1="3496.6" x2="1218.7" y2="3514.6" stroke="#000" stroke-width="6"/>
<line x1="141.7" y1="3496.6" x2="141.7" y2="3506.6" stroke="#000" stroke-width="6"/>
<line x1="307.4" y1="3496.6" x2="307.4" y2="3506.6" stroke="#000" stroke-width="6"/>
<line x1="473.0" y1="3496.6" x2="473.0" y2="3506.6" stroke="#000" stroke-width="6"/>
<line x1="638.8" y1="3496.6" x2="638.8" y2="3506.6" stroke="#000" stroke-width="6"/>
<line x1="804.4" y1="3496.6" x2="804.4" y2="3506.6" stroke="#000" stroke-width="6"/>
<line x1="970.1" y1="3496.6" x2="970.1" y2="3506.6" stroke="#000" stroke-width="6"/>
<line x1="1135.8" y1="3496.6" x2="1135.8" y2="3506.6" stroke="#000" stroke-width="6"/>
<clipPath id="clipD2"><rect x="0" y="3500" width="1232.6" height="100"/></clipPath><g clip-path="url(#clipD2)">
<text x="224.5" y="3556.4" font-family="Liberation Serif, Times New Roman, serif" font-weight="bold" font-size="39.5" text-anchor="middle" transform="matrix(1.03 0 0 1 -6.74 0)" fill="#000">533</text>
<text x="390.2" y="3556.4" font-family="Liberation Serif, Times New Roman, serif" font-weight="bold" font-size="39.5" text-anchor="middle" transform="matrix(1.03 0 0 1 -11.71 0)" fill="#000">532</text>
<text x="555.9" y="3556.4" font-family="Liberation Serif, Times New Roman, serif" font-weight="bold" font-size="39.5" text-anchor="middle" transform="matrix(1.03 0 0 1 -16.68 0)" fill="#000">531</text>
<text x="721.6" y="3556.4" font-family="Liberation Serif, Times New Roman, serif" font-weight="bold" font-size="39.5" text-anchor="middle" transform="matrix(1.03 0 0 1 -21.65 0)" fill="#000">530</text>
<text x="887.3" y="3556.4" font-family="Liberation Serif, Times New Roman, serif" font-weight="bold" font-size="39.5" text-anchor="middle" transform="matrix(1.03 0 0 1 -26.62 0)" fill="#000">529</text>
<text x="1053.0" y="3556.4" font-family="Liberation Serif, Times New Roman, serif" font-weight="bold" font-size="39.5" text-anchor="middle" transform="matrix(1.03 0 0 1 -31.59 0)" fill="#000">528</text>
<text x="1218.7" y="3556.4" font-family="Liberation Serif, Times New Roman, serif" font-weight="bold" font-size="39.5" text-anchor="middle" transform="matrix(1.03 0 0 1 -36.56 0)" fill="#000">527</text>
</g>
<text x="680.6" y="3631.4" font-family="Liberation Serif, Times New Roman, serif" font-weight="bold" font-size="48" text-anchor="middle" transform="matrix(1.025 0 0 1 -17.01 0)" fill="#000">Binding Energy (eV)</text>
<text x="103.3" y="3063.5" font-family="Liberation Serif, Times New Roman, serif" font-weight="bold" font-size="48.5" text-anchor="middle" transform="rotate(-90 103.3 3063.5)" fill="#000">Intensity (a.u.)</text>
<text x="155.7" y="2688.0" font-family="Liberation Serif, Times New Roman, serif" font-weight="bold" font-size="48" transform="matrix(1.03 0 0 1 -4.67 0)" fill="#000">BiVO</text>
<text x="274.2" y="2701.4" font-family="Liberation Serif, Times New Roman, serif" font-weight="bold" font-size="32" transform="matrix(1.03 0 0 1 -8.23 0)" fill="#000">4</text>
<rect x="426.4" y="2676.0" width="45.8" height="24.2" fill="#BE5F5A"/>
<rect x="426.4" y="2711.0" width="45.8" height="24.5" fill="#9488BB"/>
<text x="481.7" y="2719.5" font-family="Liberation Serif, Times New Roman, serif" font-weight="bold" font-size="46.5" transform="matrix(1.03 0 0 1 -14.45 0)" fill="#000">O</text>
<text x="518.2" y="2700.0" font-family="Liberation Serif, Times New Roman, serif" font-weight="bold" font-size="32.5" transform="matrix(1.03 0 0 1 -15.55 0)" fill="#000">2-</text>
<text x="427.3" y="2869.8" font-family="Liberation Serif, Times New Roman, serif" font-weight="bold" font-size="44" transform="matrix(1.03 0 0 1 -12.82 0)" fill="#000">O 1s -OH</text>
<text x="413.5" y="2911.6" font-family="Liberation Serif, Times New Roman, serif" font-weight="bold" font-size="40.5" transform="matrix(1.03 0 0 1 -12.41 0)" fill="#000">531.1 eV</text>
<text x="792.7" y="2693.0" font-family="Liberation Serif, Times New Roman, serif" font-weight="bold" font-size="44" transform="matrix(1.03 0 0 1 -23.78 0)" fill="#000">O 1s O</text>
<text x="920.7" y="2669.0" font-family="Liberation Serif, Times New Roman, serif" font-weight="bold" font-size="43" transform="matrix(1.03 0 0 1 -27.62 0)" fill="#000">2-</text>
<text x="839.5" y="2739.0" font-family="Liberation Serif, Times New Roman, serif" font-weight="bold" font-size="40.5" transform="matrix(1.03 0 0 1 -25.19 0)" fill="#000">529.7 eV</text>
<text x="1104.0" y="2688.0" font-family="Liberation Serif, Times New Roman, serif" font-weight="bold" font-size="51" transform="matrix(1.04 0 0 1 -44.16 0)" fill="#000">O 1s</text>
<text x="155.7" y="3102.0" font-family="Liberation Serif, Times New Roman, serif" font-weight="bold" font-size="49" transform="matrix(1.03 0 0 1 -4.67 0)" fill="#000">MB5</text>
<text x="708.4" y="3097.9" font-family="Liberation Serif, Times New Roman, serif" font-weight="bold" font-size="44" transform="matrix(1.03 0 0 1 -21.25 0)" fill="#000">O 1s O</text>
<text x="837.5" y="3073.9" font-family="Liberation Serif, Times New Roman, serif" font-weight="bold" font-size="43" transform="matrix(1.03 0 0 1 -25.13 0)" fill="#000">2-</text>
<text x="810.4" y="3152.4" font-family="Liberation Serif, Times New Roman, serif" font-weight="bold" font-size="40.5" transform="matrix(1.03 0 0 1 -24.31 0)" fill="#000">529.8 eV</text>
<text x="394.1" y="3248.7" font-family="Liberation Serif, Times New Roman, serif" font-weight="bold" font-size="40" transform="matrix(1.03 0 0 1 -11.82 0)" fill="#000">O 1s -OH</text>
<text x="380.3" y="3292.0" font-family="Liberation Serif, Times New Roman, serif" font-weight="bold" font-size="40" transform="matrix(1.03 0 0 1 -11.41 0)" fill="#000">531.3 eV</text>
<text x="24.5" y="2706.5" font-family="Noto Sans CJK SC, Liberation Sans, sans-serif" font-weight="500" font-size="66" fill="#000">d</text>
</g>
<g id="panel-e">
<clipPath id="clipE"><rect x="1377" y="2636.6" width="1081.4" height="870.4000000000001"/></clipPath>
<g clip-path="url(#clipE)">
<path d="M1377.0,2996.0 L1380.0,2992.4 L1383.0,2988.7 L1386.0,2985.0 L1389.0,2981.3 L1392.0,2977.6 L1395.0,2973.9 L1398.0,2976.7 L1401.0,2979.9 L1404.0,2983.0 L1407.0,2986.2 L1410.0,2984.6 L1413.0,2981.6 L1416.0,2978.4 L1419.0,2975.3 L1422.0,2972.1 L1425.0,2969.0 L1428.0,2972.5 L1431.0,2977.0 L1434.0,2981.5 L1437.0,2981.4 L1440.0,2977.1 L1443.0,2972.7 L1446.0,2968.3 L1449.0,2965.1 L1452.0,2966.9 L1455.0,2968.7 L1458.0,2970.5 L1461.0,2972.3 L1464.0,2968.1 L1467.0,2963.8 L1470.0,2959.4 L1473.0,2960.2 L1476.0,2963.1 L1479.0,2966.0 L1482.0,2968.9 L1485.0,2967.2 L1488.0,2960.3 L1491.0,2953.3 L1494.0,2946.4 L1497.0,2948.3 L1500.0,2951.8 L1503.0,2955.3 L1506.0,2958.8 L1509.0,2955.0 L1512.0,2951.2 L1515.0,2947.4 L1518.0,2943.6 L1521.0,2939.9 L1524.0,2938.8 L1527.0,2941.2 L1530.0,2943.6 L1533.0,2946.0 L1536.0,2948.5 L1539.0,2945.8 L1542.0,2942.9 L1545.0,2940.1 L1548.0,2937.3 L1551.0,2936.1 L1554.0,2937.7 L1557.0,2939.4 L1560.0,2941.2 L1563.0,2943.0 L1566.0,2944.8 L1569.0,2943.8 L1572.0,2940.2 L1575.0,2936.6 L1578.0,2933.0 L1581.0,2931.6 L1584.0,2936.8 L1587.0,2942.2 L1590.0,2947.5 L1593.0,2945.9 L1596.0,2943.4 L1599.0,2940.9 L1602.0,2938.5 L1605.0,2936.1 L1608.0,2936.2 L1611.0,2940.8 L1614.0,2945.5 L1617.0,2950.2 L1620.0,2947.1 L1623.0,2943.6 L1626.0,2940.3 L1629.0,2941.7 L1632.0,2947.6 L1635.0,2953.4 L1638.0,2959.3 L1641.0,2961.2 L1644.0,2959.5 L1647.0,2957.9 L1650.0,2956.3 L1653.0,2954.7 L1656.0,2953.1 L1659.0,2956.8 L1662.0,2962.1 L1665.0,2967.4 L1668.0,2972.8 L1671.0,2972.7 L1674.0,2970.5 L1677.0,2968.4 L1680.0,2966.2 L1683.0,2964.0 L1686.0,2965.9 L1689.0,2969.2 L1692.0,2972.6 L1695.0,2975.9 L1698.0,2979.2 L1701.0,2980.3 L1704.0,2978.8 L1707.0,2977.4 L1710.0,2975.9 L1713.0,2976.5 L1716.0,2980.1 L1719.0,2983.7 L1722.0,2987.2 L1725.0,2990.7 L1728.0,2994.0 L1731.0,2990.6 L1734.0,2987.2 L1737.0,2983.8 L1740.0,2980.4 L1743.0,2976.9 L1746.0,2982.4 L1749.0,2987.9 L1752.0,2993.4 L1755.0,2993.3 L1758.0,2990.3 L1761.0,2987.4 L1764.0,2984.4 L1767.0,2981.7 L1770.0,2985.1 L1773.0,2988.5 L1776.0,2991.9 L1779.0,2995.2 L1782.0,2998.5 L1785.0,3001.0 L1788.0,2997.9 L1791.0,2994.8 L1794.0,2991.7 L1797.0,2989.7 L1800.0,2993.8 L1803.0,2997.8 L1806.0,3001.7 L1809.0,3005.7 L1812.0,3005.1 L1815.0,3000.0 L1818.0,2994.8 L1821.0,2989.7 L1824.0,2991.0 L1827.0,2994.8 L1830.0,2998.6 L1833.0,3002.3 L1836.0,3006.0 L1839.0,3007.0 L1842.0,3003.8 L1845.0,3000.6 L1848.0,2997.4 L1851.0,2994.2 L1854.0,2990.9 L1857.0,2994.2 L1860.0,2997.6 L1863.0,3001.1 L1866.0,3004.6 L1869.0,3002.5 L1872.0,2998.9 L1875.0,2995.3 L1878.0,2991.7 L1881.0,2992.0 L1884.0,2996.2 L1887.0,3000.4 L1890.0,3004.6 L1893.0,3002.6 L1896.0,3000.6 L1899.0,2998.5 L1902.0,2996.5 L1905.0,2994.5 L1908.0,2995.5 L1911.0,2998.3 L1914.0,3001.1 L1917.0,3003.0 L1920.0,3000.8 L1923.0,2998.7 L1926.0,2996.5 L1929.0,2994.4 L1932.0,2994.0 L1935.0,2996.7 L1938.0,2999.4 L1941.0,3002.1 L1944.0,3004.8 L1947.0,3007.5 L1950.0,3008.2 L1953.0,3005.6 L1956.0,3002.9 L1959.0,3000.2 L1962.0,2997.5 L1965.0,2994.9 L1968.0,2994.0 L1971.0,2996.9 L1974.0,2999.8 L1977.0,3002.7 L1980.0,3000.8 L1983.0,2997.8 L1986.0,2994.9 L1989.0,2992.0 L1992.0,2990.0 L1995.0,2993.2 L1998.0,2996.3 L2001.0,2999.5 L2004.0,3002.6 L2007.0,3001.6 L2010.0,2998.5 L2013.0,2995.3 L2016.0,2992.1 L2019.0,2990.3 L2022.0,2993.6 L2025.0,2996.9 L2028.0,3000.3 L2031.0,3003.6 L2034.0,3006.5 L2037.0,3003.2 L2040.0,3000.0 L2043.0,2996.7 L2046.0,2993.5 L2049.0,2990.2 L2052.0,2990.4 L2055.0,2995.4 L2058.0,3000.4 L2061.0,3005.4 L2064.0,3002.7 L2067.0,2998.2 L2070.0,2993.7 L2073.0,2989.2 L2076.0,2990.6 L2079.0,2994.4 L2082.0,2998.1 L2085.0,3001.7 L2088.0,3002.1 L2091.0,2997.9 L2094.0,2993.5 L2097.0,2989.1 L2100.0,2988.5 L2103.0,2990.4 L2106.0,2992.1 L2109.0,2993.7 L2112.0,2991.9 L2115.0,2988.2 L2118.0,2984.3 L2121.0,2980.2 L2124.0,2975.9 L2127.0,2971.4 L2130.0,2972.0 L2133.0,2973.0 L2136.0,2973.9 L2139.0,2974.8 L2142.0,2971.4 L2145.0,2966.4 L2148.0,2961.3 L2151.0,2956.2 L2154.0,2951.1 L2157.0,2945.9 L2160.0,2945.1 L2163.0,2946.4 L2166.0,2947.4 L2169.0,2948.1 L2172.0,2942.1 L2175.0,2933.6 L2178.0,2924.7 L2181.0,2915.2 L2184.0,2905.2 L2187.0,2900.7 L2190.0,2898.7 L2193.0,2896.3 L2196.0,2892.4 L2199.0,2880.8 L2202.0,2868.7 L2205.0,2856.3 L2208.0,2843.5 L2211.0,2830.6 L2214.0,2820.4 L2217.0,2812.6 L2220.0,2804.8 L2223.0,2797.0 L2226.0,2789.4 L2229.0,2782.1 L2232.0,2771.8 L2235.0,2760.6 L2238.0,2750.0 L2241.0,2740.1 L2244.0,2734.8 L2247.0,2732.7 L2250.0,2731.5 L2253.0,2731.4 L2256.0,2725.3 L2259.0,2718.9 L2262.0,2713.8 L2265.0,2709.8 L2268.0,2707.1 L2271.0,2714.0 L2274.0,2722.7 L2277.0,2732.5 L2280.0,2743.4 L2283.0,2750.0 L2286.0,2754.4 L2289.0,2759.5 L2292.0,2765.3 L2295.0,2772.3 L2298.0,2785.5 L2301.0,2799.1 L2304.0,2812.9 L2307.0,2826.9 L2310.0,2840.9 L2313.0,2849.5 L2316.0,2855.2 L2319.0,2860.6 L2322.0,2866.6 L2325.0,2879.6 L2328.0,2892.2 L2331.0,2904.4 L2334.0,2916.3 L2337.0,2927.3 L2340.0,2933.2 L2343.0,2938.6 L2346.0,2943.6 L2349.0,2948.1 L2352.0,2956.1 L2355.0,2964.8 L2358.0,2973.1 L2361.0,2980.9 L2364.0,2982.9 L2367.0,2984.3 L2370.0,2985.3 L2373.0,2986.0 L2376.0,2986.3 L2379.0,2992.4 L2382.0,2998.2 L2385.0,3003.8 L2388.0,3008.0 L2391.0,3006.8 L2394.0,3005.4 L2397.0,3003.9 L2400.0,3002.1 L2403.0,3007.1 L2406.0,3012.0 L2409.0,3016.8 L2412.0,3019.9 L2415.0,3016.5 L2418.0,3013.1 L2421.0,3009.5 L2424.0,3008.5 L2427.0,3011.8 L2430.0,3015.1 L2433.0,3018.3 L2436.0,3021.5 L2439.0,3021.3 L2442.0,3018.5 L2445.0,3015.6 L2448.0,3012.8 L2451.0,3016.2 L2454.0,3019.5 L2455.4,3021.0 L2459.4,3025.4" fill="none" stroke="#CDCDCD" stroke-width="7.5" stroke-linejoin="round" stroke-linecap="butt"/>
<path d="M1377.0,2985.4 L1380.0,2984.8 L1383.0,2984.2 L1386.0,2983.6 L1389.0,2983.0 L1392.0,2982.3 L1395.0,2981.6 L1398.0,2980.9 L1401.0,2980.1 L1404.0,2979.3 L1407.0,2978.5 L1410.0,2977.7 L1413.0,2976.8 L1416.0,2976.0 L1419.0,2975.0 L1422.0,2974.1 L1425.0,2973.2 L1428.0,2972.2 L1431.0,2971.2 L1434.0,2970.2 L1437.0,2969.1 L1440.0,2968.1 L1443.0,2967.0 L1446.0,2965.9 L1449.0,2964.8 L1452.0,2963.7 L1455.0,2962.6 L1458.0,2961.5 L1461.0,2960.4 L1464.0,2959.3 L1467.0,2958.2 L1470.0,2957.2 L1473.0,2956.1 L1476.0,2955.0 L1479.0,2954.0 L1482.0,2952.9 L1485.0,2951.9 L1488.0,2950.9 L1491.0,2950.0 L1494.0,2949.1 L1497.0,2948.2 L1500.0,2947.3 L1503.0,2946.5 L1506.0,2945.7 L1509.0,2945.0 L1512.0,2944.3 L1515.0,2943.7 L1518.0,2943.1 L1521.0,2942.6 L1524.0,2942.1 L1527.0,2941.7 L1530.0,2941.3 L1533.0,2941.1 L1536.0,2940.8 L1539.0,2940.7 L1542.0,2940.5 L1545.0,2940.5 L1548.0,2940.5 L1551.0,2940.6 L1554.0,2940.8 L1557.0,2941.0 L1560.0,2941.3 L1563.0,2941.6 L1566.0,2942.0 L1569.0,2942.5 L1572.0,2943.0 L1575.0,2943.6 L1578.0,2944.3 L1581.0,2945.0 L1584.0,2945.7 L1587.0,2946.5 L1590.0,2947.4 L1593.0,2948.3 L1596.0,2949.2 L1599.0,2950.2 L1602.0,2951.2 L1605.0,2952.2 L1608.0,2953.3 L1611.0,2954.4 L1614.0,2955.6 L1617.0,2956.7 L1620.0,2957.9 L1623.0,2959.1 L1626.0,2960.3 L1629.0,2961.5 L1632.0,2962.7 L1635.0,2963.9 L1638.0,2965.2 L1641.0,2966.4 L1644.0,2967.6 L1647.0,2968.8 L1650.0,2970.0 L1653.0,2971.2 L1656.0,2972.4 L1659.0,2973.6 L1662.0,2974.7 L1665.0,2975.9 L1668.0,2977.0 L1671.0,2978.1 L1674.0,2979.1 L1677.0,2980.2 L1680.0,2981.2 L1683.0,2982.2 L1686.0,2983.1 L1689.0,2984.1 L1692.0,2985.0 L1695.0,2985.8 L1698.0,2986.7 L1701.0,2987.5 L1704.0,2988.2 L1707.0,2989.0 L1710.0,2989.7 L1713.0,2990.4 L1716.0,2991.1 L1719.0,2991.7 L1722.0,2992.3 L1725.0,2992.9 L1728.0,2993.4 L1731.0,2993.9 L1734.0,2994.4 L1737.0,2994.9 L1740.0,2995.3 L1743.0,2995.7 L1746.0,2996.1 L1749.0,2996.5 L1752.0,2996.8 L1755.0,2997.1 L1758.0,2997.4 L1761.0,2997.7 L1764.0,2998.0 L1767.0,2998.2 L1770.0,2998.5 L1773.0,2998.7 L1776.0,2998.9 L1779.0,2999.1 L1782.0,2999.2 L1785.0,2999.4 L1788.0,2999.5 L1791.0,2999.7 L1794.0,2999.8 L1797.0,2999.9 L1800.0,3000.0 L1803.0,3000.1 L1806.0,3000.2 L1809.0,3000.2 L1812.0,3000.3 L1815.0,3000.4 L1818.0,3000.4 L1821.0,3000.5 L1824.0,3000.5 L1827.0,3000.5 L1830.0,3000.6 L1833.0,3000.6 L1836.0,3000.6 L1839.0,3000.6 L1842.0,3000.7 L1845.0,3000.7 L1848.0,3000.7 L1851.0,3000.7 L1854.0,3000.7 L1857.0,3000.7 L1860.0,3000.7 L1863.0,3000.7 L1866.0,3000.7 L1869.0,3000.7 L1872.0,3000.7 L1875.0,3000.7 L1878.0,3000.7 L1881.0,3000.6 L1884.0,3000.6 L1887.0,3000.6 L1890.0,3000.6 L1893.0,3000.6 L1896.0,3000.6 L1899.0,3000.5 L1902.0,3000.5 L1905.0,3000.5 L1908.0,3000.5 L1911.0,3000.5 L1914.0,3000.4 L1917.0,3000.4 L1920.0,3000.4 L1923.0,3000.4 L1926.0,3000.3 L1929.0,3000.3 L1932.0,3000.3 L1935.0,3000.2 L1938.0,3000.2 L1941.0,3000.2 L1944.0,3000.2 L1947.0,3000.1 L1950.0,3000.1 L1953.0,3000.0 L1956.0,3000.0 L1959.0,3000.0 L1962.0,2999.9 L1965.0,2999.9 L1968.0,2999.9 L1971.0,2999.8 L1974.0,2999.8 L1977.0,2999.7 L1980.0,2999.7 L1983.0,2999.6 L1986.0,2999.6 L1989.0,2999.5 L1992.0,2999.5 L1995.0,2999.4 L1998.0,2999.4 L2001.0,2999.3 L2004.0,2999.2 L2007.0,2999.2 L2010.0,2999.1 L2013.0,2999.0 L2016.0,2999.0 L2019.0,2998.9 L2022.0,2998.8 L2025.0,2998.8 L2028.0,2998.7 L2031.0,2998.6 L2034.0,2998.5 L2037.0,2998.4 L2040.0,2998.3 L2043.0,2998.2 L2046.0,2998.1 L2049.0,2998.0 L2052.0,2997.9 L2055.0,2997.8 L2058.0,2997.7 L2061.0,2997.5 L2064.0,2997.4 L2067.0,2997.3 L2070.0,2997.1 L2073.0,2996.9 L2076.0,2996.8 L2079.0,2996.6 L2082.0,2996.4 L2085.0,2996.1 L2088.0,2995.9 L2091.0,2995.6 L2094.0,2995.3 L2097.0,2995.0 L2100.0,2994.6 L2103.0,2994.2 L2106.0,2993.7 L2109.0,2993.2 L2112.0,2992.6 L2115.0,2991.9 L2118.0,2991.1 L2121.0,2990.3 L2124.0,2989.3 L2127.0,2988.2 L2130.0,2986.9 L2133.0,2985.5 L2136.0,2983.9 L2139.0,2982.2 L2142.0,2980.2 L2145.0,2977.9 L2148.0,2975.4 L2151.0,2972.6 L2154.0,2969.5 L2157.0,2966.0 L2160.0,2962.2 L2163.0,2958.1 L2166.0,2953.5 L2169.0,2948.5 L2172.0,2943.1 L2175.0,2937.3 L2178.0,2931.0 L2181.0,2924.2 L2184.0,2917.0 L2187.0,2909.3 L2190.0,2901.2 L2193.0,2892.7 L2196.0,2883.8 L2199.0,2874.5 L2202.0,2864.9 L2205.0,2855.0 L2208.0,2844.8 L2211.0,2834.5 L2214.0,2824.1 L2217.0,2813.6 L2220.0,2803.2 L2223.0,2792.9 L2226.0,2782.8 L2229.0,2773.1 L2232.0,2763.8 L2235.0,2755.0 L2238.0,2746.8 L2241.0,2739.4 L2244.0,2732.9 L2247.0,2727.3 L2250.0,2722.7 L2253.0,2719.2 L2256.0,2716.9 L2259.0,2715.8 L2262.0,2716.0 L2265.0,2717.5 L2268.0,2720.1 L2271.0,2724.0 L2274.0,2729.0 L2277.0,2735.1 L2280.0,2742.2 L2283.0,2750.1 L2286.0,2758.8 L2289.0,2768.3 L2292.0,2778.2 L2295.0,2788.7 L2298.0,2799.4 L2301.0,2810.5 L2304.0,2821.6 L2307.0,2832.9 L2310.0,2844.1 L2313.0,2855.1 L2316.0,2866.1 L2319.0,2876.7 L2322.0,2887.1 L2325.0,2897.2 L2328.0,2906.8 L2331.0,2916.0 L2334.0,2924.8 L2337.0,2933.2 L2340.0,2941.0 L2343.0,2948.4 L2346.0,2955.2 L2349.0,2961.6 L2352.0,2967.5 L2355.0,2973.0 L2358.0,2978.0 L2361.0,2982.6 L2364.0,2986.8 L2367.0,2990.6 L2370.0,2994.0 L2373.0,2997.1 L2376.0,2999.8 L2379.0,3002.3 L2382.0,3004.6 L2385.0,3006.5 L2388.0,3008.3 L2391.0,3009.9 L2394.0,3011.2 L2397.0,3012.5 L2400.0,3013.5 L2403.0,3014.5 L2406.0,3015.3 L2409.0,3016.1 L2412.0,3016.7 L2415.0,3017.3 L2418.0,3017.8 L2421.0,3018.3 L2424.0,3018.7 L2427.0,3019.1 L2430.0,3019.4 L2433.0,3019.7 L2436.0,3020.0 L2439.0,3020.2 L2442.0,3020.4 L2445.0,3020.6 L2448.0,3020.8 L2451.0,3021.0 L2454.0,3021.2 L2455.4,3021.2 L2459.4,3021.4" fill="none" stroke="#3B8FE0" stroke-width="10" stroke-linejoin="round" stroke-linecap="butt" opacity="0.6"/>
<path d="M1377.0,2993.0 L1380.0,2993.0 L1383.0,2993.0 L1386.0,2993.0 L1389.0,2993.1 L1392.0,2993.1 L1395.0,2993.1 L1398.0,2993.1 L1401.0,2993.2 L1404.0,2993.2 L1407.0,2993.2 L1410.0,2993.2 L1413.0,2993.3 L1416.0,2993.3 L1419.0,2993.3 L1422.0,2993.4 L1425.0,2993.4 L1428.0,2993.4 L1431.0,2993.5 L1434.0,2993.5 L1437.0,2993.6 L1440.0,2993.6 L1443.0,2993.7 L1446.0,2993.7 L1449.0,2993.8 L1452.0,2993.8 L1455.0,2993.9 L1458.0,2994.0 L1461.0,2994.0 L1464.0,2994.1 L1467.0,2994.1 L1470.0,2994.2 L1473.0,2994.3 L1476.0,2994.4 L1479.0,2994.4 L1482.0,2994.5 L1485.0,2994.6 L1488.0,2994.7 L1491.0,2994.7 L1494.0,2994.8 L1497.0,2994.9 L1500.0,2995.0 L1503.0,2995.1 L1506.0,2995.2 L1509.0,2995.3 L1512.0,2995.3 L1515.0,2995.4 L1518.0,2995.5 L1521.0,2995.6 L1524.0,2995.7 L1527.0,2995.8 L1530.0,2995.9 L1533.0,2996.0 L1536.0,2996.1 L1539.0,2996.2 L1542.0,2996.3 L1545.0,2996.4 L1548.0,2996.5 L1551.0,2996.6 L1554.0,2996.7 L1557.0,2996.8 L1560.0,2996.9 L1563.0,2997.0 L1566.0,2997.1 L1569.0,2997.2 L1572.0,2997.3 L1575.0,2997.4 L1578.0,2997.5 L1581.0,2997.6 L1584.0,2997.7 L1587.0,2997.8 L1590.0,2997.9 L1593.0,2998.0 L1596.0,2998.1 L1599.0,2998.2 L1602.0,2998.2 L1605.0,2998.3 L1608.0,2998.4 L1611.0,2998.5 L1614.0,2998.6 L1617.0,2998.6 L1620.0,2998.7 L1623.0,2998.8 L1626.0,2998.9 L1629.0,2998.9 L1632.0,2999.0 L1635.0,2999.1 L1638.0,2999.1 L1641.0,2999.2 L1644.0,2999.3 L1647.0,2999.3 L1650.0,2999.4 L1653.0,2999.4 L1656.0,2999.5 L1659.0,2999.5 L1662.0,2999.6 L1665.0,2999.6 L1668.0,2999.6 L1671.0,2999.7 L1674.0,2999.7 L1677.0,2999.8 L1680.0,2999.8 L1683.0,2999.8 L1686.0,2999.9 L1689.0,2999.9 L1692.0,2999.9 L1695.0,2999.9 L1698.0,3000.0 L1701.0,3000.0 L1704.0,3000.0 L1707.0,3000.0 L1710.0,3000.0 L1713.0,3000.1 L1716.0,3000.1 L1719.0,3000.1 L1722.0,3000.1 L1725.0,3000.1 L1728.0,3000.1 L1731.0,3000.1 L1734.0,3000.1 L1737.0,3000.1 L1740.0,3000.1 L1743.0,3000.1 L1746.0,3000.2 L1749.0,3000.2 L1752.0,3000.2 L1755.0,3000.2 L1758.0,3000.2 L1761.0,3000.2 L1764.0,3000.2 L1767.0,3000.1 L1770.0,3000.1 L1773.0,3000.1 L1776.0,3000.1 L1779.0,3000.1 L1782.0,3000.1 L1785.0,3000.1 L1788.0,3000.1 L1791.0,3000.1 L1794.0,3000.1 L1797.0,3000.1 L1800.0,3000.1 L1803.0,3000.1 L1806.0,3000.1 L1809.0,3000.1 L1812.0,3000.0 L1815.0,3000.0 L1818.0,3000.0 L1821.0,3000.0 L1824.0,3000.0 L1827.0,3000.0 L1830.0,3000.0 L1833.0,3000.0 L1836.0,3000.0 L1839.0,2999.9 L1842.0,2999.9 L1845.0,2999.9 L1848.0,2999.9 L1851.0,2999.9 L1854.0,2999.9 L1857.0,2999.8 L1860.0,2999.8 L1863.0,2999.8 L1866.0,2999.8 L1869.0,2999.8 L1872.0,2999.8 L1875.0,2999.7 L1878.0,2999.7 L1881.0,2999.7 L1884.0,2999.7 L1887.0,2999.7 L1890.0,2999.6 L1893.0,2999.6 L1896.0,2999.6 L1899.0,2999.6 L1902.0,2999.6 L1905.0,2999.5 L1908.0,2999.5 L1911.0,2999.5 L1914.0,2999.5 L1917.0,2999.4 L1920.0,2999.4 L1923.0,2999.4 L1926.0,2999.3 L1929.0,2999.3 L1932.0,2999.3 L1935.0,2999.3 L1938.0,2999.2 L1941.0,2999.2 L1944.0,2999.2 L1947.0,2999.1 L1950.0,2999.1 L1953.0,2999.0 L1956.0,2999.0 L1959.0,2999.0 L1962.0,2998.9 L1965.0,2998.9 L1968.0,2998.9 L1971.0,2998.8 L1974.0,2998.8 L1977.0,2998.7 L1980.0,2998.7 L1983.0,2998.6 L1986.0,2998.6 L1989.0,2998.5 L1992.0,2998.5 L1995.0,2998.4 L1998.0,2998.4 L2001.0,2998.3 L2004.0,2998.2 L2007.0,2998.2 L2010.0,2998.1 L2013.0,2998.0 L2016.0,2998.0 L2019.0,2997.9 L2022.0,2997.8 L2025.0,2997.8 L2028.0,2997.7 L2031.0,2997.6 L2034.0,2997.5 L2037.0,2997.4 L2040.0,2997.3 L2043.0,2997.2 L2046.0,2997.1 L2049.0,2997.0 L2052.0,2996.9 L2055.0,2996.8 L2058.0,2996.7 L2061.0,2996.5 L2064.0,2996.4 L2067.0,2996.3 L2070.0,2996.1 L2073.0,2995.9 L2076.0,2995.8 L2079.0,2995.6 L2082.0,2995.4 L2085.0,2995.1 L2088.0,2994.9 L2091.0,2994.6 L2094.0,2994.3 L2097.0,2994.0 L2100.0,2993.6 L2103.0,2993.2 L2106.0,2992.7 L2109.0,2992.2 L2112.0,2991.6 L2115.0,2990.9 L2118.0,2990.1 L2121.0,2989.3 L2124.0,2988.3 L2127.0,2987.2 L2130.0,2985.9 L2133.0,2984.5 L2136.0,2982.9 L2139.0,2981.2 L2142.0,2979.2 L2145.0,2976.9 L2148.0,2974.4 L2151.0,2971.6 L2154.0,2968.5 L2157.0,2965.0 L2160.0,2961.2 L2163.0,2957.1 L2166.0,2952.5 L2169.0,2947.5 L2172.0,2942.1 L2175.0,2936.3 L2178.0,2930.0 L2181.0,2923.2 L2184.0,2916.0 L2187.0,2908.3 L2190.0,2900.2 L2193.0,2891.7 L2196.0,2882.8 L2199.0,2873.5 L2202.0,2863.9 L2205.0,2854.0 L2208.0,2843.8 L2211.0,2833.5 L2214.0,2823.1 L2217.0,2812.6 L2220.0,2802.2 L2223.0,2791.9 L2226.0,2781.8 L2229.0,2772.1 L2232.0,2762.8 L2235.0,2754.0 L2238.0,2745.8 L2241.0,2738.4 L2244.0,2731.9 L2247.0,2726.3 L2250.0,2721.7 L2253.0,2718.2 L2256.0,2715.9 L2259.0,2714.8 L2262.0,2715.0 L2265.0,2716.5 L2268.0,2719.1 L2271.0,2723.0 L2274.0,2728.0 L2277.0,2734.1 L2280.0,2741.2 L2283.0,2749.1 L2286.0,2757.8 L2289.0,2767.3 L2292.0,2777.2 L2295.0,2787.7 L2298.0,2798.4 L2301.0,2809.5 L2304.0,2820.6 L2307.0,2831.9 L2310.0,2843.1 L2313.0,2854.1 L2316.0,2865.1 L2319.0,2875.7 L2322.0,2886.1 L2325.0,2896.2 L2328.0,2905.8 L2331.0,2915.0 L2334.0,2923.8 L2337.0,2932.2 L2340.0,2940.0 L2343.0,2947.4 L2346.0,2954.2 L2349.0,2960.6 L2352.0,2966.5 L2355.0,2972.0 L2358.0,2977.0 L2361.0,2981.6 L2364.0,2985.8 L2367.0,2989.6 L2370.0,2993.0 L2373.0,2996.1 L2376.0,2998.8 L2379.0,3001.3 L2382.0,3003.6 L2385.0,3005.5 L2388.0,3007.3 L2391.0,3008.9 L2394.0,3010.2 L2397.0,3011.5 L2400.0,3012.5 L2403.0,3013.5 L2406.0,3014.3 L2409.0,3015.1 L2412.0,3015.7 L2415.0,3016.3 L2418.0,3016.8 L2421.0,3017.3 L2424.0,3017.7 L2427.0,3018.1 L2430.0,3018.4 L2433.0,3018.7 L2436.0,3019.0 L2439.0,3019.2 L2442.0,3019.4 L2445.0,3019.6 L2448.0,3019.8 L2451.0,3020.0 L2454.0,3020.2 L2455.4,3020.2 L2459.4,3020.4" fill="none" stroke="#86C370" stroke-width="9" stroke-linejoin="round" stroke-linecap="butt"/>
<path d="M1377.0,2984.6 L1380.0,2984.1 L1383.0,2983.5 L1386.0,2982.9 L1389.0,2982.2 L1392.0,2981.5 L1395.0,2980.8 L1398.0,2980.1 L1401.0,2979.4 L1404.0,2978.6 L1407.0,2977.8 L1410.0,2977.0 L1413.0,2976.1 L1416.0,2975.2 L1419.0,2974.3 L1422.0,2973.4 L1425.0,2972.4 L1428.0,2971.4 L1431.0,2970.5 L1434.0,2969.4 L1437.0,2968.4 L1440.0,2967.4 L1443.0,2966.3 L1446.0,2965.2 L1449.0,2964.1 L1452.0,2963.0 L1455.0,2961.9 L1458.0,2960.8 L1461.0,2959.7 L1464.0,2958.6 L1467.0,2957.5 L1470.0,2956.5 L1473.0,2955.4 L1476.0,2954.3 L1479.0,2953.3 L1482.0,2952.2 L1485.0,2951.2 L1488.0,2950.3 L1491.0,2949.3 L1494.0,2948.4 L1497.0,2947.5 L1500.0,2946.6 L1503.0,2945.8 L1506.0,2945.1 L1509.0,2944.3 L1512.0,2943.7 L1515.0,2943.0 L1518.0,2942.4 L1521.0,2941.9 L1524.0,2941.5 L1527.0,2941.0 L1530.0,2940.7 L1533.0,2940.4 L1536.0,2940.2 L1539.0,2940.0 L1542.0,2939.9 L1545.0,2939.9 L1548.0,2939.9 L1551.0,2940.0 L1554.0,2940.2 L1557.0,2940.4 L1560.0,2940.7 L1563.0,2941.0 L1566.0,2941.4 L1569.0,2941.9 L1572.0,2942.4 L1575.0,2943.0 L1578.0,2943.7 L1581.0,2944.4 L1584.0,2945.1 L1587.0,2945.9 L1590.0,2946.8 L1593.0,2947.7 L1596.0,2948.6 L1599.0,2949.6 L1602.0,2950.6 L1605.0,2951.7 L1608.0,2952.8 L1611.0,2953.9 L1614.0,2955.0 L1617.0,2956.2 L1620.0,2957.4 L1623.0,2958.5 L1626.0,2959.8 L1629.0,2961.0 L1632.0,2962.2 L1635.0,2963.4 L1638.0,2964.7 L1641.0,2965.9 L1644.0,2967.1 L1647.0,2968.3 L1650.0,2969.6 L1653.0,2970.8 L1656.0,2971.9 L1659.0,2973.1 L1662.0,2974.3 L1665.0,2975.4 L1668.0,2976.5 L1671.0,2977.6 L1674.0,2978.7 L1677.0,2979.7 L1680.0,2980.7 L1683.0,2981.7 L1686.0,2982.7 L1689.0,2983.6 L1692.0,2984.5 L1695.0,2985.4 L1698.0,2986.3 L1701.0,2987.1 L1704.0,2987.9 L1707.0,2988.6 L1710.0,2989.3 L1713.0,2990.0 L1716.0,2990.7 L1719.0,2991.3 L1722.0,2991.9 L1725.0,2992.5 L1728.0,2993.1 L1731.0,2993.6 L1734.0,2994.1 L1737.0,2994.6 L1740.0,2995.0 L1743.0,2995.4 L1746.0,2995.8 L1749.0,2996.2 L1752.0,2996.5 L1755.0,2996.9 L1758.0,2997.2 L1761.0,2997.5 L1764.0,2997.8 L1767.0,2998.0 L1770.0,2998.2 L1773.0,2998.5 L1776.0,2998.7 L1779.0,2998.9 L1782.0,2999.0 L1785.0,2999.2 L1788.0,2999.4 L1791.0,2999.5 L1794.0,2999.6 L1797.0,2999.8 L1800.0,2999.9 L1803.0,3000.0 L1806.0,3000.1 L1809.0,3000.2 L1812.0,3000.2 L1815.0,3000.3 L1818.0,3000.4 L1821.0,3000.4 L1824.0,3000.5 L1827.0,3000.5 L1830.0,3000.6 L1833.0,3000.6 L1836.0,3000.7 L1839.0,3000.7 L1842.0,3000.7 L1845.0,3000.8 L1848.0,3000.8 L1851.0,3000.8 L1854.0,3000.8 L1857.0,3000.8 L1860.0,3000.9 L1863.0,3000.9 L1866.0,3000.9 L1869.0,3000.9 L1872.0,3000.9 L1875.0,3000.9 L1878.0,3000.9 L1881.0,3000.9 L1884.0,3000.9 L1887.0,3001.0 L1890.0,3001.0 L1893.0,3001.0 L1896.0,3001.0 L1899.0,3001.0 L1902.0,3001.0 L1905.0,3001.0 L1908.0,3001.0 L1911.0,3001.0 L1914.0,3001.0 L1917.0,3001.0 L1920.0,3001.0 L1923.0,3001.0 L1926.0,3001.0 L1929.0,3001.0 L1932.0,3001.0 L1935.0,3001.0 L1938.0,3001.0 L1941.0,3001.0 L1944.0,3001.0 L1947.0,3001.0 L1950.0,3001.0 L1953.0,3001.0 L1956.0,3001.0 L1959.0,3001.0 L1962.0,3001.0 L1965.0,3001.0 L1968.0,3001.0 L1971.0,3001.0 L1974.0,3001.0 L1977.0,3001.0 L1980.0,3001.0 L1983.0,3001.0 L1986.0,3001.0 L1989.0,3001.0 L1992.0,3001.0 L1995.0,3001.0 L1998.0,3001.0 L2001.0,3001.0 L2004.0,3001.0 L2007.0,3001.0 L2010.0,3001.0 L2013.0,3001.0 L2016.0,3001.0 L2019.0,3001.0 L2022.0,3001.0 L2025.0,3001.0 L2028.0,3001.0 L2031.0,3001.0 L2034.0,3001.0 L2037.0,3001.0 L2040.0,3001.0 L2043.0,3001.0 L2046.0,3001.0 L2049.0,3001.0 L2052.0,3001.0 L2055.0,3001.0 L2058.0,3001.0 L2061.0,3001.0 L2064.0,3001.0 L2067.0,3001.0 L2070.0,3001.0 L2073.0,3001.0 L2076.0,3001.0 L2079.0,3001.0 L2082.0,3001.0 L2085.0,3001.0 L2088.0,3001.0 L2091.0,3001.0 L2094.0,3001.0 L2097.0,3001.0 L2100.0,3001.0 L2103.0,3001.0 L2106.0,3001.0 L2109.0,3001.0 L2112.0,3001.0 L2115.0,3001.0 L2118.0,3001.0 L2121.0,3001.0 L2124.0,3001.0 L2127.0,3001.1 L2130.0,3001.1 L2133.0,3001.1 L2136.0,3001.1 L2139.0,3001.1 L2142.0,3001.1 L2145.0,3001.2 L2148.0,3001.2 L2151.0,3001.2 L2154.0,3001.3 L2157.0,3001.3 L2160.0,3001.4 L2163.0,3001.5 L2166.0,3001.5 L2169.0,3001.6 L2172.0,3001.7 L2175.0,3001.8 L2178.0,3002.0 L2181.0,3002.1 L2184.0,3002.2 L2187.0,3002.4 L2190.0,3002.6 L2193.0,3002.8 L2196.0,3003.0 L2199.0,3003.3 L2202.0,3003.5 L2205.0,3003.8 L2208.0,3004.1 L2211.0,3004.5 L2214.0,3004.8 L2217.0,3005.2 L2220.0,3005.6 L2223.0,3006.0 L2226.0,3006.4 L2229.0,3006.9 L2232.0,3007.4 L2235.0,3007.9 L2238.0,3008.4 L2241.0,3008.9 L2244.0,3009.5 L2247.0,3010.1 L2250.0,3010.6 L2253.0,3011.2 L2256.0,3011.8 L2259.0,3012.4 L2262.0,3013.0 L2265.0,3013.6 L2268.0,3014.2 L2271.0,3014.8 L2274.0,3015.4 L2277.0,3015.9 L2280.0,3016.5 L2283.0,3017.1 L2286.0,3017.6 L2289.0,3018.1 L2292.0,3018.6 L2295.0,3019.1 L2298.0,3019.6 L2301.0,3020.0 L2304.0,3020.4 L2307.0,3020.8 L2310.0,3021.2 L2313.0,3021.5 L2316.0,3021.9 L2319.0,3022.2 L2322.0,3022.5 L2325.0,3022.7 L2328.0,3023.0 L2331.0,3023.2 L2334.0,3023.4 L2337.0,3023.6 L2340.0,3023.8 L2343.0,3023.9 L2346.0,3024.0 L2349.0,3024.2 L2352.0,3024.3 L2355.0,3024.4 L2358.0,3024.5 L2361.0,3024.5 L2364.0,3024.6 L2367.0,3024.7 L2370.0,3024.7 L2373.0,3024.8 L2376.0,3024.8 L2379.0,3024.8 L2382.0,3024.9 L2385.0,3024.9 L2388.0,3024.9 L2391.0,3024.9 L2394.0,3024.9 L2397.0,3024.9 L2400.0,3025.0 L2403.0,3025.0 L2406.0,3025.0 L2409.0,3025.0 L2412.0,3025.0 L2415.0,3025.0 L2418.0,3025.0 L2421.0,3025.0 L2424.0,3025.0 L2427.0,3025.0 L2430.0,3025.0 L2433.0,3025.0 L2436.0,3025.0 L2439.0,3025.0 L2442.0,3025.0 L2445.0,3025.0 L2448.0,3025.0 L2451.0,3025.0 L2454.0,3025.0 L2455.4,3025.0 L2459.4,3025.0" fill="none" stroke="#D86CB4" stroke-width="9" stroke-linejoin="round" stroke-linecap="butt"/>
<path d="M1377.0,3431.3 L1380.0,3429.8 L1383.0,3428.1 L1386.0,3426.5 L1389.0,3425.2 L1392.0,3425.2 L1395.0,3425.3 L1398.0,3425.2 L1401.0,3425.2 L1404.0,3425.1 L1407.0,3423.9 L1410.0,3422.1 L1413.0,3420.4 L1416.0,3418.6 L1419.0,3417.2 L1422.0,3417.5 L1425.0,3417.7 L1428.0,3417.9 L1431.0,3417.9 L1434.0,3415.8 L1437.0,3413.7 L1440.0,3411.6 L1443.0,3409.5 L1446.0,3407.3 L1449.0,3406.2 L1452.0,3406.3 L1455.0,3406.4 L1458.0,3406.5 L1461.0,3404.2 L1464.0,3401.7 L1467.0,3399.2 L1470.0,3397.4 L1473.0,3396.7 L1476.0,3396.0 L1479.0,3395.3 L1482.0,3394.6 L1485.0,3393.9 L1488.0,3391.8 L1491.0,3389.7 L1494.0,3387.6 L1497.0,3385.6 L1500.0,3383.6 L1503.0,3383.0 L1506.0,3382.7 L1509.0,3382.5 L1512.0,3382.3 L1515.0,3382.2 L1518.0,3381.2 L1521.0,3379.4 L1524.0,3377.6 L1527.0,3376.0 L1530.0,3376.2 L1533.0,3376.6 L1536.0,3377.0 L1539.0,3377.5 L1542.0,3377.1 L1545.0,3376.1 L1548.0,3375.2 L1551.0,3374.3 L1554.0,3373.6 L1557.0,3373.1 L1560.0,3374.1 L1563.0,3375.1 L1566.0,3376.1 L1569.0,3377.3 L1572.0,3377.7 L1575.0,3377.5 L1578.0,3377.3 L1581.0,3377.2 L1584.0,3377.4 L1587.0,3379.3 L1590.0,3381.3 L1593.0,3383.4 L1596.0,3384.7 L1599.0,3385.1 L1602.0,3385.6 L1605.0,3386.0 L1608.0,3386.6 L1611.0,3387.1 L1614.0,3389.4 L1617.0,3391.8 L1620.0,3394.3 L1623.0,3396.7 L1626.0,3398.0 L1629.0,3398.5 L1632.0,3399.1 L1635.0,3399.7 L1638.0,3400.3 L1641.0,3401.2 L1644.0,3404.2 L1647.0,3407.1 L1650.0,3410.0 L1653.0,3411.1 L1656.0,3411.5 L1659.0,3411.8 L1662.0,3412.2 L1665.0,3412.5 L1668.0,3413.3 L1671.0,3416.4 L1674.0,3419.4 L1677.0,3422.4 L1680.0,3422.0 L1683.0,3421.5 L1686.0,3421.0 L1689.0,3420.4 L1692.0,3422.7 L1695.0,3425.1 L1698.0,3427.4 L1701.0,3429.8 L1704.0,3431.0 L1707.0,3430.1 L1710.0,3429.2 L1713.0,3428.2 L1716.0,3429.9 L1719.0,3432.1 L1722.0,3434.2 L1725.0,3435.6 L1728.0,3435.2 L1731.0,3434.8 L1734.0,3434.3 L1737.0,3433.8 L1740.0,3433.3 L1743.0,3435.1 L1746.0,3436.9 L1749.0,3438.7 L1752.0,3439.2 L1755.0,3438.6 L1758.0,3437.9 L1761.0,3437.1 L1764.0,3437.3 L1767.0,3438.5 L1770.0,3439.7 L1773.0,3440.9 L1776.0,3441.2 L1779.0,3440.2 L1782.0,3439.1 L1785.0,3438.1 L1788.0,3438.5 L1791.0,3439.4 L1794.0,3440.3 L1797.0,3441.2 L1800.0,3442.1 L1803.0,3442.3 L1806.0,3441.4 L1809.0,3440.5 L1812.0,3439.6 L1815.0,3438.8 L1818.0,3440.4 L1821.0,3442.3 L1824.0,3444.3 L1827.0,3443.6 L1830.0,3441.9 L1833.0,3440.2 L1836.0,3439.7 L1839.0,3440.9 L1842.0,3442.0 L1845.0,3443.2 L1848.0,3444.4 L1851.0,3443.3 L1854.0,3442.1 L1857.0,3440.8 L1860.0,3439.8 L1863.0,3440.7 L1866.0,3441.7 L1869.0,3442.6 L1872.0,3443.6 L1875.0,3443.5 L1878.0,3442.5 L1881.0,3441.6 L1884.0,3440.6 L1887.0,3439.7 L1890.0,3440.2 L1893.0,3441.0 L1896.0,3441.8 L1899.0,3442.6 L1902.0,3442.4 L1905.0,3441.6 L1908.0,3440.8 L1911.0,3440.0 L1914.0,3439.2 L1917.0,3440.6 L1920.0,3442.1 L1923.0,3443.5 L1926.0,3444.0 L1929.0,3443.0 L1932.0,3441.9 L1935.0,3440.9 L1938.0,3439.8 L1941.0,3439.4 L1944.0,3440.7 L1947.0,3441.9 L1950.0,3443.2 L1953.0,3442.5 L1956.0,3441.4 L1959.0,3440.2 L1962.0,3439.9 L1965.0,3440.5 L1968.0,3441.2 L1971.0,3441.9 L1974.0,3442.0 L1977.0,3441.0 L1980.0,3440.1 L1983.0,3439.1 L1986.0,3438.5 L1989.0,3440.1 L1992.0,3441.6 L1995.0,3443.2 L1998.0,3441.4 L2001.0,3439.6 L2004.0,3437.9 L2007.0,3438.2 L2010.0,3439.1 L2013.0,3440.1 L2016.0,3441.1 L2019.0,3442.0 L2022.0,3441.2 L2025.0,3439.6 L2028.0,3438.1 L2031.0,3438.0 L2034.0,3439.4 L2037.0,3440.7 L2040.0,3442.0 L2043.0,3441.6 L2046.0,3439.6 L2049.0,3437.5 L2052.0,3435.9 L2055.0,3436.8 L2058.0,3437.8 L2061.0,3438.7 L2064.0,3439.6 L2067.0,3440.6 L2070.0,3440.5 L2073.0,3439.5 L2076.0,3438.4 L2079.0,3437.3 L2082.0,3436.2 L2085.0,3435.7 L2088.0,3436.2 L2091.0,3436.6 L2094.0,3437.0 L2097.0,3437.4 L2100.0,3437.8 L2103.0,3436.8 L2106.0,3435.3 L2109.0,3433.7 L2112.0,3432.1 L2115.0,3430.3 L2118.0,3429.2 L2121.0,3430.1 L2124.0,3430.9 L2127.0,3431.5 L2130.0,3430.0 L2133.0,3427.7 L2136.0,3425.3 L2139.0,3422.7 L2142.0,3419.9 L2145.0,3417.5 L2148.0,3416.2 L2151.0,3414.7 L2154.0,3413.0 L2157.0,3409.9 L2160.0,3404.7 L2163.0,3399.2 L2166.0,3393.3 L2169.0,3390.3 L2172.0,3386.9 L2175.0,3383.1 L2178.0,3378.0 L2181.0,3369.5 L2184.0,3360.3 L2187.0,3350.3 L2190.0,3341.3 L2193.0,3332.0 L2196.0,3321.9 L2199.0,3311.0 L2202.0,3299.4 L2205.0,3286.5 L2208.0,3271.9 L2211.0,3256.9 L2214.0,3241.7 L2217.0,3227.8 L2220.0,3214.8 L2223.0,3202.3 L2226.0,3190.6 L2229.0,3178.5 L2232.0,3167.4 L2235.0,3157.9 L2238.0,3150.8 L2241.0,3147.1 L2244.0,3145.8 L2247.0,3146.9 L2250.0,3150.4 L2253.0,3156.4 L2256.0,3163.3 L2259.0,3171.9 L2262.0,3182.2 L2265.0,3194.0 L2268.0,3206.9 L2271.0,3221.3 L2274.0,3237.0 L2277.0,3253.0 L2280.0,3269.1 L2283.0,3285.0 L2286.0,3300.0 L2289.0,3313.5 L2292.0,3326.4 L2295.0,3338.6 L2298.0,3350.1 L2301.0,3362.9 L2304.0,3375.0 L2307.0,3386.3 L2310.0,3396.7 L2313.0,3403.4 L2316.0,3409.4 L2319.0,3414.5 L2322.0,3418.9 L2325.0,3423.6 L2328.0,3428.8 L2331.0,3433.3 L2334.0,3437.4 L2337.0,3441.0 L2340.0,3444.0 L2343.0,3445.4 L2346.0,3446.5 L2349.0,3447.3 L2352.0,3447.9 L2355.0,3448.3 L2358.0,3449.8 L2361.0,3452.1 L2364.0,3454.3 L2367.0,3456.3 L2370.0,3456.7 L2373.0,3455.5 L2376.0,3454.2 L2379.0,3452.9 L2382.0,3453.9 L2385.0,3455.4 L2388.0,3457.0 L2391.0,3458.5 L2394.0,3459.5 L2397.0,3458.9 L2400.0,3458.3 L2403.0,3457.7 L2406.0,3457.0 L2409.0,3456.9 L2412.0,3458.6 L2415.0,3460.2 L2418.0,3461.9 L2421.0,3461.0 L2424.0,3459.3 L2427.0,3457.5 L2430.0,3457.8 L2433.0,3459.5 L2436.0,3461.2 L2439.0,3462.9 L2442.0,3462.3 L2445.0,3461.5 L2448.0,3460.7 L2451.0,3459.9 L2454.0,3459.0 L2455.4,3458.6 L2459.4,3459.6" fill="none" stroke="#CDCDCD" stroke-width="7.5" stroke-linejoin="round" stroke-linecap="butt"/>
<path d="M1377.0,3430.0 L1380.0,3429.5 L1383.0,3428.9 L1386.0,3428.3 L1389.0,3427.7 L1392.0,3427.0 L1395.0,3426.2 L1398.0,3425.5 L1401.0,3424.7 L1404.0,3423.9 L1407.0,3423.0 L1410.0,3422.1 L1413.0,3421.1 L1416.0,3420.1 L1419.0,3419.1 L1422.0,3418.1 L1425.0,3417.0 L1428.0,3415.8 L1431.0,3414.7 L1434.0,3413.5 L1437.0,3412.2 L1440.0,3411.0 L1443.0,3409.7 L1446.0,3408.4 L1449.0,3407.0 L1452.0,3405.7 L1455.0,3404.3 L1458.0,3402.9 L1461.0,3401.6 L1464.0,3400.2 L1467.0,3398.8 L1470.0,3397.4 L1473.0,3396.0 L1476.0,3394.6 L1479.0,3393.2 L1482.0,3391.9 L1485.0,3390.5 L1488.0,3389.2 L1491.0,3388.0 L1494.0,3386.7 L1497.0,3385.5 L1500.0,3384.4 L1503.0,3383.3 L1506.0,3382.2 L1509.0,3381.2 L1512.0,3380.3 L1515.0,3379.5 L1518.0,3378.7 L1521.0,3378.0 L1524.0,3377.3 L1527.0,3376.7 L1530.0,3376.3 L1533.0,3375.9 L1536.0,3375.5 L1539.0,3375.3 L1542.0,3375.2 L1545.0,3375.1 L1548.0,3375.2 L1551.0,3375.3 L1554.0,3375.5 L1557.0,3375.8 L1560.0,3376.2 L1563.0,3376.7 L1566.0,3377.2 L1569.0,3377.9 L1572.0,3378.6 L1575.0,3379.4 L1578.0,3380.3 L1581.0,3381.2 L1584.0,3382.2 L1587.0,3383.3 L1590.0,3384.4 L1593.0,3385.6 L1596.0,3386.9 L1599.0,3388.2 L1602.0,3389.5 L1605.0,3390.9 L1608.0,3392.3 L1611.0,3393.7 L1614.0,3395.2 L1617.0,3396.7 L1620.0,3398.2 L1623.0,3399.7 L1626.0,3401.2 L1629.0,3402.7 L1632.0,3404.2 L1635.0,3405.7 L1638.0,3407.2 L1641.0,3408.7 L1644.0,3410.2 L1647.0,3411.7 L1650.0,3413.1 L1653.0,3414.5 L1656.0,3415.9 L1659.0,3417.2 L1662.0,3418.5 L1665.0,3419.8 L1668.0,3421.1 L1671.0,3422.3 L1674.0,3423.5 L1677.0,3424.6 L1680.0,3425.7 L1683.0,3426.7 L1686.0,3427.7 L1689.0,3428.7 L1692.0,3429.6 L1695.0,3430.5 L1698.0,3431.4 L1701.0,3432.2 L1704.0,3432.9 L1707.0,3433.7 L1710.0,3434.4 L1713.0,3435.0 L1716.0,3435.6 L1719.0,3436.2 L1722.0,3436.7 L1725.0,3437.2 L1728.0,3437.7 L1731.0,3438.2 L1734.0,3438.6 L1737.0,3439.0 L1740.0,3439.3 L1743.0,3439.7 L1746.0,3440.0 L1749.0,3440.3 L1752.0,3440.5 L1755.0,3440.8 L1758.0,3441.0 L1761.0,3441.2 L1764.0,3441.4 L1767.0,3441.6 L1770.0,3441.7 L1773.0,3441.9 L1776.0,3442.0 L1779.0,3442.1 L1782.0,3442.2 L1785.0,3442.3 L1788.0,3442.4 L1791.0,3442.5 L1794.0,3442.6 L1797.0,3442.6 L1800.0,3442.7 L1803.0,3442.7 L1806.0,3442.8 L1809.0,3442.8 L1812.0,3442.9 L1815.0,3442.9 L1818.0,3442.9 L1821.0,3442.9 L1824.0,3442.9 L1827.0,3443.0 L1830.0,3443.0 L1833.0,3443.0 L1836.0,3443.0 L1839.0,3443.0 L1842.0,3443.0 L1845.0,3443.0 L1848.0,3443.0 L1851.0,3443.0 L1854.0,3443.0 L1857.0,3442.9 L1860.0,3442.9 L1863.0,3442.9 L1866.0,3442.9 L1869.0,3442.9 L1872.0,3442.9 L1875.0,3442.9 L1878.0,3442.9 L1881.0,3442.8 L1884.0,3442.8 L1887.0,3442.8 L1890.0,3442.8 L1893.0,3442.8 L1896.0,3442.8 L1899.0,3442.7 L1902.0,3442.7 L1905.0,3442.7 L1908.0,3442.7 L1911.0,3442.6 L1914.0,3442.6 L1917.0,3442.6 L1920.0,3442.6 L1923.0,3442.5 L1926.0,3442.5 L1929.0,3442.5 L1932.0,3442.5 L1935.0,3442.4 L1938.0,3442.4 L1941.0,3442.4 L1944.0,3442.3 L1947.0,3442.3 L1950.0,3442.3 L1953.0,3442.2 L1956.0,3442.2 L1959.0,3442.2 L1962.0,3442.1 L1965.0,3442.1 L1968.0,3442.0 L1971.0,3442.0 L1974.0,3442.0 L1977.0,3441.9 L1980.0,3441.9 L1983.0,3441.8 L1986.0,3441.8 L1989.0,3441.7 L1992.0,3441.7 L1995.0,3441.6 L1998.0,3441.6 L2001.0,3441.5 L2004.0,3441.4 L2007.0,3441.4 L2010.0,3441.3 L2013.0,3441.2 L2016.0,3441.2 L2019.0,3441.1 L2022.0,3441.0 L2025.0,3440.9 L2028.0,3440.9 L2031.0,3440.8 L2034.0,3440.7 L2037.0,3440.6 L2040.0,3440.5 L2043.0,3440.4 L2046.0,3440.3 L2049.0,3440.2 L2052.0,3440.1 L2055.0,3440.0 L2058.0,3439.8 L2061.0,3439.7 L2064.0,3439.6 L2067.0,3439.4 L2070.0,3439.3 L2073.0,3439.1 L2076.0,3439.0 L2079.0,3438.8 L2082.0,3438.6 L2085.0,3438.4 L2088.0,3438.2 L2091.0,3438.0 L2094.0,3437.8 L2097.0,3437.5 L2100.0,3437.3 L2103.0,3437.0 L2106.0,3436.7 L2109.0,3436.4 L2112.0,3436.0 L2115.0,3435.6 L2118.0,3435.2 L2121.0,3434.8 L2124.0,3434.2 L2127.0,3433.7 L2130.0,3433.0 L2133.0,3432.3 L2136.0,3431.4 L2139.0,3430.4 L2142.0,3429.3 L2145.0,3428.0 L2148.0,3426.4 L2151.0,3424.6 L2154.0,3422.5 L2157.0,3420.0 L2160.0,3417.2 L2163.0,3413.9 L2166.0,3410.1 L2169.0,3405.7 L2172.0,3400.7 L2175.0,3395.0 L2178.0,3388.6 L2181.0,3381.3 L2184.0,3373.3 L2187.0,3364.4 L2190.0,3354.6 L2193.0,3344.0 L2196.0,3332.5 L2199.0,3320.2 L2202.0,3307.1 L2205.0,3293.4 L2208.0,3279.2 L2211.0,3264.6 L2214.0,3249.8 L2217.0,3235.0 L2220.0,3220.4 L2223.0,3206.3 L2226.0,3193.0 L2229.0,3180.8 L2232.0,3169.9 L2235.0,3160.8 L2238.0,3153.8 L2241.0,3149.0 L2244.0,3146.6 L2247.0,3146.9 L2250.0,3149.7 L2253.0,3155.1 L2256.0,3162.8 L2259.0,3172.6 L2262.0,3184.2 L2265.0,3197.2 L2268.0,3211.4 L2271.0,3226.4 L2274.0,3241.9 L2277.0,3257.7 L2280.0,3273.5 L2283.0,3289.1 L2286.0,3304.2 L2289.0,3318.9 L2292.0,3332.8 L2295.0,3346.0 L2298.0,3358.3 L2301.0,3369.7 L2304.0,3380.2 L2307.0,3389.8 L2310.0,3398.4 L2313.0,3406.2 L2316.0,3413.2 L2319.0,3419.3 L2322.0,3424.7 L2325.0,3429.5 L2328.0,3433.6 L2331.0,3437.2 L2334.0,3440.3 L2337.0,3442.9 L2340.0,3445.2 L2343.0,3447.1 L2346.0,3448.8 L2349.0,3450.2 L2352.0,3451.5 L2355.0,3452.5 L2358.0,3453.4 L2361.0,3454.2 L2364.0,3454.9 L2367.0,3455.5 L2370.0,3456.1 L2373.0,3456.6 L2376.0,3457.0 L2379.0,3457.4 L2382.0,3457.7 L2385.0,3458.1 L2388.0,3458.4 L2391.0,3458.7 L2394.0,3458.9 L2397.0,3459.2 L2400.0,3459.4 L2403.0,3459.6 L2406.0,3459.8 L2409.0,3460.0 L2412.0,3460.2 L2415.0,3460.4 L2418.0,3460.6 L2421.0,3460.7 L2424.0,3460.9 L2427.0,3461.0 L2430.0,3461.2 L2433.0,3461.3 L2436.0,3461.4 L2439.0,3461.5 L2442.0,3461.7 L2445.0,3461.8 L2448.0,3461.9 L2451.0,3462.0 L2454.0,3462.1 L2455.4,3462.1 L2459.4,3462.2" fill="none" stroke="#3B8FE0" stroke-width="12" stroke-linejoin="round" stroke-linecap="butt" opacity="0.6"/>
<path d="M1377.0,3435.9 L1380.0,3435.9 L1383.0,3435.9 L1386.0,3435.9 L1389.0,3436.0 L1392.0,3436.0 L1395.0,3436.0 L1398.0,3436.0 L1401.0,3436.0 L1404.0,3436.0 L1407.0,3436.1 L1410.0,3436.1 L1413.0,3436.1 L1416.0,3436.1 L1419.0,3436.2 L1422.0,3436.2 L1425.0,3436.2 L1428.0,3436.2 L1431.0,3436.3 L1434.0,3436.3 L1437.0,3436.3 L1440.0,3436.4 L1443.0,3436.4 L1446.0,3436.5 L1449.0,3436.5 L1452.0,3436.6 L1455.0,3436.6 L1458.0,3436.7 L1461.0,3436.7 L1464.0,3436.8 L1467.0,3436.8 L1470.0,3436.9 L1473.0,3437.0 L1476.0,3437.0 L1479.0,3437.1 L1482.0,3437.2 L1485.0,3437.2 L1488.0,3437.3 L1491.0,3437.4 L1494.0,3437.5 L1497.0,3437.5 L1500.0,3437.6 L1503.0,3437.7 L1506.0,3437.8 L1509.0,3437.9 L1512.0,3438.0 L1515.0,3438.1 L1518.0,3438.2 L1521.0,3438.3 L1524.0,3438.4 L1527.0,3438.5 L1530.0,3438.6 L1533.0,3438.6 L1536.0,3438.7 L1539.0,3438.8 L1542.0,3438.9 L1545.0,3439.0 L1548.0,3439.2 L1551.0,3439.3 L1554.0,3439.4 L1557.0,3439.5 L1560.0,3439.6 L1563.0,3439.7 L1566.0,3439.7 L1569.0,3439.8 L1572.0,3439.9 L1575.0,3440.0 L1578.0,3440.1 L1581.0,3440.2 L1584.0,3440.3 L1587.0,3440.4 L1590.0,3440.5 L1593.0,3440.6 L1596.0,3440.7 L1599.0,3440.8 L1602.0,3440.8 L1605.0,3440.9 L1608.0,3441.0 L1611.0,3441.1 L1614.0,3441.1 L1617.0,3441.2 L1620.0,3441.3 L1623.0,3441.3 L1626.0,3441.4 L1629.0,3441.5 L1632.0,3441.5 L1635.0,3441.6 L1638.0,3441.6 L1641.0,3441.7 L1644.0,3441.7 L1647.0,3441.8 L1650.0,3441.8 L1653.0,3441.9 L1656.0,3441.9 L1659.0,3441.9 L1662.0,3442.0 L1665.0,3442.0 L1668.0,3442.0 L1671.0,3442.1 L1674.0,3442.1 L1677.0,3442.1 L1680.0,3442.2 L1683.0,3442.2 L1686.0,3442.2 L1689.0,3442.2 L1692.0,3442.2 L1695.0,3442.2 L1698.0,3442.3 L1701.0,3442.3 L1704.0,3442.3 L1707.0,3442.3 L1710.0,3442.3 L1713.0,3442.3 L1716.0,3442.3 L1719.0,3442.3 L1722.0,3442.3 L1725.0,3442.3 L1728.0,3442.3 L1731.0,3442.3 L1734.0,3442.3 L1737.0,3442.3 L1740.0,3442.3 L1743.0,3442.3 L1746.0,3442.3 L1749.0,3442.3 L1752.0,3442.3 L1755.0,3442.3 L1758.0,3442.3 L1761.0,3442.3 L1764.0,3442.3 L1767.0,3442.3 L1770.0,3442.3 L1773.0,3442.3 L1776.0,3442.3 L1779.0,3442.3 L1782.0,3442.3 L1785.0,3442.3 L1788.0,3442.3 L1791.0,3442.3 L1794.0,3442.2 L1797.0,3442.2 L1800.0,3442.2 L1803.0,3442.2 L1806.0,3442.2 L1809.0,3442.2 L1812.0,3442.2 L1815.0,3442.2 L1818.0,3442.2 L1821.0,3442.2 L1824.0,3442.1 L1827.0,3442.1 L1830.0,3442.1 L1833.0,3442.1 L1836.0,3442.1 L1839.0,3442.1 L1842.0,3442.1 L1845.0,3442.0 L1848.0,3442.0 L1851.0,3442.0 L1854.0,3442.0 L1857.0,3442.0 L1860.0,3442.0 L1863.0,3442.0 L1866.0,3441.9 L1869.0,3441.9 L1872.0,3441.9 L1875.0,3441.9 L1878.0,3441.9 L1881.0,3441.9 L1884.0,3441.8 L1887.0,3441.8 L1890.0,3441.8 L1893.0,3441.8 L1896.0,3441.8 L1899.0,3441.7 L1902.0,3441.7 L1905.0,3441.7 L1908.0,3441.7 L1911.0,3441.6 L1914.0,3441.6 L1917.0,3441.6 L1920.0,3441.6 L1923.0,3441.5 L1926.0,3441.5 L1929.0,3441.5 L1932.0,3441.5 L1935.0,3441.4 L1938.0,3441.4 L1941.0,3441.4 L1944.0,3441.3 L1947.0,3441.3 L1950.0,3441.3 L1953.0,3441.2 L1956.0,3441.2 L1959.0,3441.2 L1962.0,3441.1 L1965.0,3441.1 L1968.0,3441.0 L1971.0,3441.0 L1974.0,3441.0 L1977.0,3440.9 L1980.0,3440.9 L1983.0,3440.8 L1986.0,3440.8 L1989.0,3440.7 L1992.0,3440.7 L1995.0,3440.6 L1998.0,3440.6 L2001.0,3440.5 L2004.0,3440.4 L2007.0,3440.4 L2010.0,3440.3 L2013.0,3440.2 L2016.0,3440.2 L2019.0,3440.1 L2022.0,3440.0 L2025.0,3439.9 L2028.0,3439.9 L2031.0,3439.8 L2034.0,3439.7 L2037.0,3439.6 L2040.0,3439.5 L2043.0,3439.4 L2046.0,3439.3 L2049.0,3439.2 L2052.0,3439.1 L2055.0,3439.0 L2058.0,3438.8 L2061.0,3438.7 L2064.0,3438.6 L2067.0,3438.4 L2070.0,3438.3 L2073.0,3438.1 L2076.0,3438.0 L2079.0,3437.8 L2082.0,3437.6 L2085.0,3437.4 L2088.0,3437.2 L2091.0,3437.0 L2094.0,3436.8 L2097.0,3436.5 L2100.0,3436.3 L2103.0,3436.0 L2106.0,3435.7 L2109.0,3435.4 L2112.0,3435.0 L2115.0,3434.6 L2118.0,3434.2 L2121.0,3433.8 L2124.0,3433.2 L2127.0,3432.7 L2130.0,3432.0 L2133.0,3431.3 L2136.0,3430.4 L2139.0,3429.4 L2142.0,3428.3 L2145.0,3427.0 L2148.0,3425.4 L2151.0,3423.6 L2154.0,3421.5 L2157.0,3419.0 L2160.0,3416.2 L2163.0,3412.9 L2166.0,3409.1 L2169.0,3404.7 L2172.0,3399.7 L2175.0,3394.0 L2178.0,3387.6 L2181.0,3380.3 L2184.0,3372.3 L2187.0,3363.4 L2190.0,3353.6 L2193.0,3343.0 L2196.0,3331.5 L2199.0,3319.2 L2202.0,3306.1 L2205.0,3292.4 L2208.0,3278.2 L2211.0,3263.6 L2214.0,3248.8 L2217.0,3234.0 L2220.0,3219.4 L2223.0,3205.3 L2226.0,3192.0 L2229.0,3179.8 L2232.0,3168.9 L2235.0,3159.8 L2238.0,3152.8 L2241.0,3148.0 L2244.0,3145.6 L2247.0,3145.9 L2250.0,3148.7 L2253.0,3154.1 L2256.0,3161.8 L2259.0,3171.6 L2262.0,3183.2 L2265.0,3196.2 L2268.0,3210.4 L2271.0,3225.4 L2274.0,3240.9 L2277.0,3256.7 L2280.0,3272.5 L2283.0,3288.1 L2286.0,3303.2 L2289.0,3317.9 L2292.0,3331.8 L2295.0,3345.0 L2298.0,3357.3 L2301.0,3368.7 L2304.0,3379.2 L2307.0,3388.8 L2310.0,3397.4 L2313.0,3405.2 L2316.0,3412.2 L2319.0,3418.3 L2322.0,3423.7 L2325.0,3428.5 L2328.0,3432.6 L2331.0,3436.2 L2334.0,3439.3 L2337.0,3441.9 L2340.0,3444.2 L2343.0,3446.1 L2346.0,3447.8 L2349.0,3449.2 L2352.0,3450.5 L2355.0,3451.5 L2358.0,3452.4 L2361.0,3453.2 L2364.0,3453.9 L2367.0,3454.5 L2370.0,3455.1 L2373.0,3455.6 L2376.0,3456.0 L2379.0,3456.4 L2382.0,3456.7 L2385.0,3457.1 L2388.0,3457.4 L2391.0,3457.7 L2394.0,3457.9 L2397.0,3458.2 L2400.0,3458.4 L2403.0,3458.6 L2406.0,3458.8 L2409.0,3459.0 L2412.0,3459.2 L2415.0,3459.4 L2418.0,3459.6 L2421.0,3459.7 L2424.0,3459.9 L2427.0,3460.0 L2430.0,3460.2 L2433.0,3460.3 L2436.0,3460.4 L2439.0,3460.5 L2442.0,3460.7 L2445.0,3460.8 L2448.0,3460.9 L2451.0,3461.0 L2454.0,3461.1 L2455.4,3461.1 L2459.4,3461.2" fill="none" stroke="#86C370" stroke-width="9" stroke-linejoin="round" stroke-linecap="butt"/>
<path d="M1377.0,3429.2 L1380.0,3428.7 L1383.0,3428.1 L1386.0,3427.5 L1389.0,3426.9 L1392.0,3426.2 L1395.0,3425.5 L1398.0,3424.7 L1401.0,3423.9 L1404.0,3423.1 L1407.0,3422.2 L1410.0,3421.3 L1413.0,3420.4 L1416.0,3419.4 L1419.0,3418.3 L1422.0,3417.3 L1425.0,3416.2 L1428.0,3415.1 L1431.0,3413.9 L1434.0,3412.7 L1437.0,3411.5 L1440.0,3410.2 L1443.0,3408.9 L1446.0,3407.6 L1449.0,3406.3 L1452.0,3404.9 L1455.0,3403.6 L1458.0,3402.2 L1461.0,3400.8 L1464.0,3399.4 L1467.0,3398.0 L1470.0,3396.6 L1473.0,3395.2 L1476.0,3393.8 L1479.0,3392.5 L1482.0,3391.1 L1485.0,3389.8 L1488.0,3388.5 L1491.0,3387.2 L1494.0,3386.0 L1497.0,3384.8 L1500.0,3383.7 L1503.0,3382.6 L1506.0,3381.5 L1509.0,3380.5 L1512.0,3379.6 L1515.0,3378.8 L1518.0,3378.0 L1521.0,3377.2 L1524.0,3376.6 L1527.0,3376.0 L1530.0,3375.6 L1533.0,3375.2 L1536.0,3374.8 L1539.0,3374.6 L1542.0,3374.5 L1545.0,3374.4 L1548.0,3374.5 L1551.0,3374.6 L1554.0,3374.8 L1557.0,3375.1 L1560.0,3375.5 L1563.0,3376.0 L1566.0,3376.5 L1569.0,3377.2 L1572.0,3377.9 L1575.0,3378.7 L1578.0,3379.6 L1581.0,3380.5 L1584.0,3381.6 L1587.0,3382.6 L1590.0,3383.8 L1593.0,3385.0 L1596.0,3386.2 L1599.0,3387.5 L1602.0,3388.9 L1605.0,3390.2 L1608.0,3391.6 L1611.0,3393.1 L1614.0,3394.6 L1617.0,3396.0 L1620.0,3397.5 L1623.0,3399.1 L1626.0,3400.6 L1629.0,3402.1 L1632.0,3403.6 L1635.0,3405.1 L1638.0,3406.6 L1641.0,3408.1 L1644.0,3409.6 L1647.0,3411.1 L1650.0,3412.5 L1653.0,3413.9 L1656.0,3415.3 L1659.0,3416.7 L1662.0,3418.0 L1665.0,3419.3 L1668.0,3420.5 L1671.0,3421.7 L1674.0,3422.9 L1677.0,3424.1 L1680.0,3425.2 L1683.0,3426.2 L1686.0,3427.2 L1689.0,3428.2 L1692.0,3429.1 L1695.0,3430.0 L1698.0,3430.9 L1701.0,3431.7 L1704.0,3432.5 L1707.0,3433.2 L1710.0,3433.9 L1713.0,3434.5 L1716.0,3435.2 L1719.0,3435.7 L1722.0,3436.3 L1725.0,3436.8 L1728.0,3437.3 L1731.0,3437.7 L1734.0,3438.2 L1737.0,3438.6 L1740.0,3438.9 L1743.0,3439.3 L1746.0,3439.6 L1749.0,3439.9 L1752.0,3440.2 L1755.0,3440.4 L1758.0,3440.7 L1761.0,3440.9 L1764.0,3441.1 L1767.0,3441.3 L1770.0,3441.4 L1773.0,3441.6 L1776.0,3441.7 L1779.0,3441.8 L1782.0,3442.0 L1785.0,3442.1 L1788.0,3442.2 L1791.0,3442.2 L1794.0,3442.3 L1797.0,3442.4 L1800.0,3442.5 L1803.0,3442.5 L1806.0,3442.6 L1809.0,3442.6 L1812.0,3442.7 L1815.0,3442.7 L1818.0,3442.7 L1821.0,3442.8 L1824.0,3442.8 L1827.0,3442.8 L1830.0,3442.8 L1833.0,3442.9 L1836.0,3442.9 L1839.0,3442.9 L1842.0,3442.9 L1845.0,3442.9 L1848.0,3442.9 L1851.0,3442.9 L1854.0,3442.9 L1857.0,3443.0 L1860.0,3443.0 L1863.0,3443.0 L1866.0,3443.0 L1869.0,3443.0 L1872.0,3443.0 L1875.0,3443.0 L1878.0,3443.0 L1881.0,3443.0 L1884.0,3443.0 L1887.0,3443.0 L1890.0,3443.0 L1893.0,3443.0 L1896.0,3443.0 L1899.0,3443.0 L1902.0,3443.0 L1905.0,3443.0 L1908.0,3443.0 L1911.0,3443.0 L1914.0,3443.0 L1917.0,3443.0 L1920.0,3443.0 L1923.0,3443.0 L1926.0,3443.0 L1929.0,3443.0 L1932.0,3443.0 L1935.0,3443.0 L1938.0,3443.0 L1941.0,3443.0 L1944.0,3443.0 L1947.0,3443.0 L1950.0,3443.0 L1953.0,3443.0 L1956.0,3443.0 L1959.0,3443.0 L1962.0,3443.0 L1965.0,3443.0 L1968.0,3443.0 L1971.0,3443.0 L1974.0,3443.0 L1977.0,3443.0 L1980.0,3443.0 L1983.0,3443.0 L1986.0,3443.0 L1989.0,3443.0 L1992.0,3443.0 L1995.0,3443.0 L1998.0,3443.0 L2001.0,3443.0 L2004.0,3443.0 L2007.0,3443.0 L2010.0,3443.0 L2013.0,3443.0 L2016.0,3443.0 L2019.0,3443.0 L2022.0,3443.0 L2025.0,3443.0 L2028.0,3443.0 L2031.0,3443.0 L2034.0,3443.0 L2037.0,3443.0 L2040.0,3443.0 L2043.0,3443.0 L2046.0,3443.0 L2049.0,3443.0 L2052.0,3443.0 L2055.0,3443.0 L2058.0,3443.0 L2061.0,3443.0 L2064.0,3443.0 L2067.0,3443.0 L2070.0,3443.0 L2073.0,3443.0 L2076.0,3443.0 L2079.0,3443.0 L2082.0,3443.0 L2085.0,3443.0 L2088.0,3443.0 L2091.0,3443.0 L2094.0,3443.0 L2097.0,3443.0 L2100.0,3443.0 L2103.0,3443.0 L2106.0,3443.0 L2109.0,3443.0 L2112.0,3443.0 L2115.0,3443.0 L2118.0,3443.0 L2121.0,3443.0 L2124.0,3443.0 L2127.0,3443.0 L2130.0,3443.0 L2133.0,3443.0 L2136.0,3443.0 L2139.0,3443.0 L2142.0,3443.0 L2145.0,3443.1 L2148.0,3443.1 L2151.0,3443.1 L2154.0,3443.1 L2157.0,3443.2 L2160.0,3443.2 L2163.0,3443.2 L2166.0,3443.3 L2169.0,3443.4 L2172.0,3443.5 L2175.0,3443.6 L2178.0,3443.7 L2181.0,3443.8 L2184.0,3444.0 L2187.0,3444.1 L2190.0,3444.3 L2193.0,3444.6 L2196.0,3444.8 L2199.0,3445.1 L2202.0,3445.4 L2205.0,3445.8 L2208.0,3446.1 L2211.0,3446.6 L2214.0,3447.0 L2217.0,3447.5 L2220.0,3448.0 L2223.0,3448.6 L2226.0,3449.1 L2229.0,3449.7 L2232.0,3450.4 L2235.0,3451.0 L2238.0,3451.7 L2241.0,3452.4 L2244.0,3453.1 L2247.0,3453.8 L2250.0,3454.4 L2253.0,3455.1 L2256.0,3455.8 L2259.0,3456.5 L2262.0,3457.1 L2265.0,3457.8 L2268.0,3458.4 L2271.0,3458.9 L2274.0,3459.5 L2277.0,3460.0 L2280.0,3460.5 L2283.0,3460.9 L2286.0,3461.4 L2289.0,3461.7 L2292.0,3462.1 L2295.0,3462.4 L2298.0,3462.7 L2301.0,3462.9 L2304.0,3463.2 L2307.0,3463.4 L2310.0,3463.5 L2313.0,3463.7 L2316.0,3463.8 L2319.0,3463.9 L2322.0,3464.0 L2325.0,3464.1 L2328.0,3464.2 L2331.0,3464.3 L2334.0,3464.3 L2337.0,3464.3 L2340.0,3464.4 L2343.0,3464.4 L2346.0,3464.4 L2349.0,3464.4 L2352.0,3464.5 L2355.0,3464.5 L2358.0,3464.5 L2361.0,3464.5 L2364.0,3464.5 L2367.0,3464.5 L2370.0,3464.5 L2373.0,3464.5 L2376.0,3464.5 L2379.0,3464.5 L2382.0,3464.5 L2385.0,3464.5 L2388.0,3464.5 L2391.0,3464.5 L2394.0,3464.5 L2397.0,3464.5 L2400.0,3464.5 L2403.0,3464.5 L2406.0,3464.5 L2409.0,3464.5 L2412.0,3464.5 L2415.0,3464.5 L2418.0,3464.5 L2421.0,3464.5 L2424.0,3464.5 L2427.0,3464.5 L2430.0,3464.5 L2433.0,3464.5 L2436.0,3464.5 L2439.0,3464.5 L2442.0,3464.5 L2445.0,3464.5 L2448.0,3464.5 L2451.0,3464.5 L2454.0,3464.5 L2455.4,3464.5 L2459.4,3464.5" fill="none" stroke="#D86CB4" stroke-width="9" stroke-linejoin="round" stroke-linecap="butt"/>
</g>
<rect x="1377.0" y="2636.6" width="1078.4" height="870.4" fill="none" stroke="#000" stroke-width="6.5"/>
<line x1="1393.5" y1="3507.0" x2="1393.5" y2="3525.0" stroke="#000" stroke-width="6"/>
<text x="1393.5" y="3568.6" font-family="Liberation Serif, Times New Roman, serif" font-weight="bold" font-size="39.5" text-anchor="middle" transform="matrix(1.03 0 0 1 -41.81 0)" fill="#000">526</text>
<line x1="1485.8" y1="3507.0" x2="1485.8" y2="3517.0" stroke="#000" stroke-width="6"/>
<line x1="1578.2" y1="3507.0" x2="1578.2" y2="3525.0" stroke="#000" stroke-width="6"/>
<text x="1578.2" y="3568.6" font-family="Liberation Serif, Times New Roman, serif" font-weight="bold" font-size="39.5" text-anchor="middle" transform="matrix(1.03 0 0 1 -47.35 0)" fill="#000">524</text>
<line x1="1670.5" y1="3507.0" x2="1670.5" y2="3517.0" stroke="#000" stroke-width="6"/>
<line x1="1762.9" y1="3507.0" x2="1762.9" y2="3525.0" stroke="#000" stroke-width="6"/>
<text x="1762.9" y="3568.6" font-family="Liberation Serif, Times New Roman, serif" font-weight="bold" font-size="39.5" text-anchor="middle" transform="matrix(1.03 0 0 1 -52.89 0)" fill="#000">522</text>
<line x1="1855.2" y1="3507.0" x2="1855.2" y2="3517.0" stroke="#000" stroke-width="6"/>
<line x1="1947.6" y1="3507.0" x2="1947.6" y2="3525.0" stroke="#000" stroke-width="6"/>
<text x="1947.6" y="3568.6" font-family="Liberation Serif, Times New Roman, serif" font-weight="bold" font-size="39.5" text-anchor="middle" transform="matrix(1.03 0 0 1 -58.43 0)" fill="#000">520</text>
<line x1="2039.9" y1="3507.0" x2="2039.9" y2="3517.0" stroke="#000" stroke-width="6"/>
<line x1="2132.3" y1="3507.0" x2="2132.3" y2="3525.0" stroke="#000" stroke-width="6"/>
<text x="2132.3" y="3568.6" font-family="Liberation Serif, Times New Roman, serif" font-weight="bold" font-size="39.5" text-anchor="middle" transform="matrix(1.03 0 0 1 -63.97 0)" fill="#000">518</text>
<line x1="2224.7" y1="3507.0" x2="2224.7" y2="3517.0" stroke="#000" stroke-width="6"/>
<line x1="2317.0" y1="3507.0" x2="2317.0" y2="3525.0" stroke="#000" stroke-width="6"/>
<text x="2317.0" y="3568.6" font-family="Liberation Serif, Times New Roman, serif" font-weight="bold" font-size="39.5" text-anchor="middle" transform="matrix(1.03 0 0 1 -69.51 0)" fill="#000">516</text>
<line x1="2409.3" y1="3507.0" x2="2409.3" y2="3517.0" stroke="#000" stroke-width="6"/>
<text x="1916.0" y="3643.0" font-family="Liberation Serif, Times New Roman, serif" font-weight="bold" font-size="48" text-anchor="middle" transform="matrix(1.025 0 0 1 -47.90 0)" fill="#000">Binding Energy (eV)</text>
<text x="1338.2" y="3073.6" font-family="Liberation Serif, Times New Roman, serif" font-weight="bold" font-size="49.1" text-anchor="middle" transform="rotate(-90 1338.2 3073.6)" fill="#000">Intensity (a.u.)</text>
<text x="1390.7" y="2705.0" font-family="Liberation Serif, Times New Roman, serif" font-weight="bold" font-size="52" transform="matrix(1.03 0 0 1 -41.72 0)" fill="#000">BiVO</text>
<text x="1520.2" y="2718.8" font-family="Liberation Serif, Times New Roman, serif" font-weight="bold" font-size="33" transform="matrix(1.03 0 0 1 -45.61 0)" fill="#000">4</text>
<rect x="1756.8" y="2672.2" width="45.7" height="24.2" fill="#D86CB4"/>
<rect x="1756.8" y="2707.4" width="45.7" height="24.0" fill="#86C370"/>
<text x="1813.3" y="2713.7" font-family="Liberation Serif, Times New Roman, serif" font-weight="bold" font-size="46" transform="matrix(1.03 0 0 1 -54.40 0)" fill="#000">V</text>
<text x="1846.7" y="2696.0" font-family="Liberation Serif, Times New Roman, serif" font-weight="bold" font-size="30" transform="matrix(1.03 0 0 1 -55.40 0)" fill="#000">5+</text>
<text x="1486.1" y="2888.7" font-family="Liberation Serif, Times New Roman, serif" font-weight="bold" font-size="48" transform="matrix(1.03 0 0 1 -44.58 0)" fill="#000">V 2p</text>
<text x="1582.7" y="2901.4" font-family="Liberation Serif, Times New Roman, serif" font-weight="bold" font-size="32" transform="matrix(1.03 0 0 1 -47.48 0)" fill="#000">1/2</text>
<text x="1391.7" y="2934.6" font-family="Liberation Serif, Times New Roman, serif" font-weight="bold" font-size="39" transform="matrix(1.03 0 0 1 -41.75 0)" fill="#000">524.2 eV</text>
<text x="2189.2" y="2696.0" font-family="Liberation Serif, Times New Roman, serif" font-weight="bold" font-size="48" transform="matrix(1.03 0 0 1 -65.68 0)" fill="#000">V 2p</text>
<text x="2287.7" y="2708.6" font-family="Liberation Serif, Times New Roman, serif" font-weight="bold" font-size="32" transform="matrix(1.03 0 0 1 -68.63 0)" fill="#000">3/2</text>
<text x="2338.7" y="2696.0" font-family="Liberation Serif, Times New Roman, serif" font-weight="bold" font-size="50" transform="matrix(1.03 0 0 1 -70.16 0)" fill="#000">V 2p</text>
<text x="2092.3" y="2751.0" font-family="Liberation Serif, Times New Roman, serif" font-weight="bold" font-size="39" transform="matrix(1.03 0 0 1 -62.77 0)" fill="#000">516.6 eV</text>
<text x="1390.7" y="3127.5" font-family="Liberation Serif, Times New Roman, serif" font-weight="bold" font-size="48" transform="matrix(1.03 0 0 1 -41.72 0)" fill="#000">MB5</text>
<text x="2189.2" y="3108.0" font-family="Liberation Serif, Times New Roman, serif" font-weight="bold" font-size="48" transform="matrix(1.03 0 0 1 -65.68 0)" fill="#000">V 2p</text>
<text x="2283.7" y="3119.8" font-family="Liberation Serif, Times New Roman, serif" font-weight="bold" font-size="32" transform="matrix(1.03 0 0 1 -68.51 0)" fill="#000">3/2</text>
<text x="2079.7" y="3161.6" font-family="Liberation Serif, Times New Roman, serif" font-weight="bold" font-size="39" transform="matrix(1.03 0 0 1 -62.39 0)" fill="#000">516.8 eV</text>
<text x="1496.4" y="3339.0" font-family="Liberation Serif, Times New Roman, serif" font-weight="bold" font-size="48" transform="matrix(1.03 0 0 1 -44.89 0)" fill="#000">V 2p</text>
<text x="1593.3" y="3351.8" font-family="Liberation Serif, Times New Roman, serif" font-weight="bold" font-size="32" transform="matrix(1.03 0 0 1 -47.80 0)" fill="#000">1/2</text>
<text x="1641.7" y="3398.0" font-family="Liberation Serif, Times New Roman, serif" font-weight="bold" font-size="48" transform="matrix(1.03 0 0 1 -49.25 0)" fill="#000">524.4 eV</text>
<text x="1262.0" y="2714.0" font-family="Noto Sans CJK SC, Liberation Sans, sans-serif" font-weight="500" font-size="66" fill="#000">e</text>
</g>
</svg>
</body></html>
